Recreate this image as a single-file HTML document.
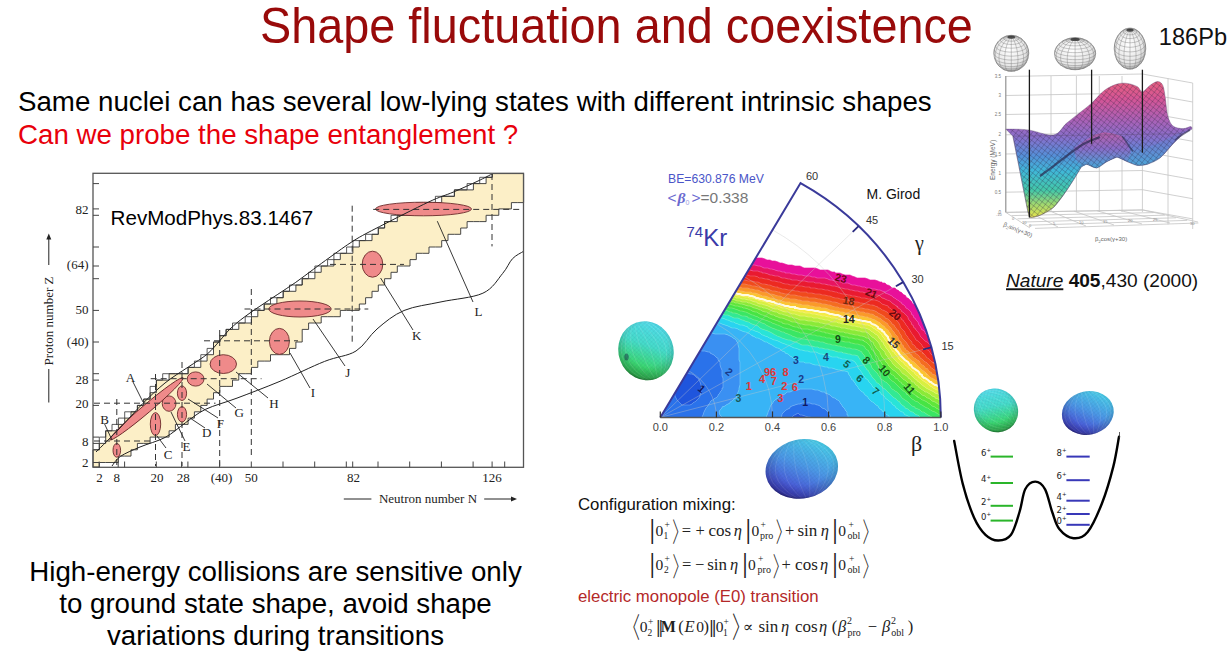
<!DOCTYPE html>
<html><head><meta charset="utf-8">
<style>
html,body{margin:0;padding:0;background:#fff;}
body{width:1232px;height:669px;position:relative;overflow:hidden;font-family:"Liberation Sans",Arial,sans-serif;}
.t{position:absolute;white-space:nowrap;line-height:1;}
#title{left:260px;top:1px;font-size:46.8px;color:#990a0a;transform:scaleY(1.07);transform-origin:0 0;}
#l1{left:18px;top:88px;font-size:27.7px;color:#000;}
#l2{left:18px;top:120.5px;font-size:27.7px;color:#e8000b;}
#bot{left:0;width:551px;top:555.5px;font-size:27.7px;text-align:center;line-height:32.4px;white-space:normal;color:#000;}
svg{position:absolute;left:0;top:0;}
#cfg{left:578px;top:496.5px;font-size:16.8px;color:#111;}
#e0{left:578px;top:589.2px;font-size:16.8px;color:#b42828;}
</style></head><body>
<svg width="1232" height="669" viewBox="0 0 1232 669">
<polygon points="93.0,449.8 99.3,449.8 99.3,443.4 105.7,443.4 105.7,430.8 112.0,430.8 112.0,430.8 118.4,430.8 118.4,424.4 124.7,424.4 124.7,418.1 131.0,418.1 131.0,411.8 137.4,411.8 137.4,405.4 143.7,405.4 143.7,399.1 150.1,399.1 150.1,392.7 156.4,392.7 156.4,380.1 162.7,380.1 162.7,380.1 169.1,380.1 169.1,373.7 175.4,373.7 175.4,373.7 181.8,373.7 181.8,373.7 188.1,373.7 188.1,367.4 194.4,367.4 194.4,367.4 200.8,367.4 200.8,361.1 207.1,361.1 207.1,354.7 213.5,354.7 213.5,342.0 219.8,342.0 219.8,335.7 226.1,335.7 226.1,329.4 232.5,329.4 232.5,329.4 238.8,329.4 238.8,323.0 245.2,323.0 245.2,323.0 251.5,323.0 251.5,316.7 257.8,316.7 257.8,310.4 264.2,310.4 264.2,304.0 270.5,304.0 270.5,304.0 276.9,304.0 276.9,297.7 283.2,297.7 283.2,291.3 289.5,291.3 289.5,291.3 295.9,291.3 295.9,285.0 302.2,285.0 302.2,278.7 308.6,278.7 308.6,278.7 314.9,278.7 314.9,272.3 321.2,272.3 321.2,266.0 327.6,266.0 327.6,266.0 333.9,266.0 333.9,259.6 340.3,259.6 340.3,253.3 346.6,253.3 346.6,253.3 352.9,253.3 352.9,247.0 359.3,247.0 359.3,240.6 365.6,240.6 365.6,240.6 372.0,240.6 372.0,234.3 378.3,234.3 378.3,228.0 384.6,228.0 384.6,221.6 391.0,221.6 391.0,221.6 397.3,221.6 397.3,215.3 403.7,215.3 403.7,215.3 410.0,215.3 410.0,208.9 416.3,208.9 416.3,208.9 422.7,208.9 422.7,202.6 429.0,202.6 429.0,202.6 435.4,202.6 435.4,202.6 441.7,202.6 441.7,196.3 448.0,196.3 448.0,196.3 454.4,196.3 454.4,189.9 460.7,189.9 460.7,189.9 467.1,189.9 467.1,189.9 473.4,189.9 473.4,183.6 479.7,183.6 479.7,183.6 486.1,183.6 486.1,177.3 492.4,177.3 492.4,173.6 498.8,173.6 498.8,173.6 505.1,173.6 505.1,173.6 511.4,173.6 511.4,173.6 517.8,173.6 517.8,173.6 523.6,173.6 523.6,173.6 523.6,200.8 523.6,202.6 517.8,202.6 517.8,202.6 511.4,202.6 511.4,208.9 505.1,208.9 505.1,208.9 498.8,208.9 498.8,215.3 492.4,215.3 492.4,215.3 486.1,215.3 486.1,221.6 479.7,221.6 479.7,221.6 473.4,221.6 473.4,221.6 467.1,221.6 467.1,228.0 460.7,228.0 460.7,234.3 454.4,234.3 454.4,234.3 448.0,234.3 448.0,240.6 441.7,240.6 441.7,247.0 435.4,247.0 435.4,247.0 429.0,247.0 429.0,253.3 422.7,253.3 422.7,253.3 416.3,253.3 416.3,259.6 410.0,259.6 410.0,266.0 403.7,266.0 403.7,266.0 397.3,266.0 397.3,272.3 391.0,272.3 391.0,278.7 384.6,278.7 384.6,285.0 378.3,285.0 378.3,291.3 372.0,291.3 372.0,297.7 365.6,297.7 365.6,304.0 359.3,304.0 359.3,310.4 352.9,310.4 352.9,310.4 346.6,310.4 346.6,310.4 340.3,310.4 340.3,316.7 333.9,316.7 333.9,316.7 327.6,316.7 327.6,316.7 321.2,316.7 321.2,323.0 314.9,323.0 314.9,323.0 308.6,323.0 308.6,329.4 302.2,329.4 302.2,342.0 295.9,342.0 295.9,348.4 289.5,348.4 289.5,354.7 283.2,354.7 283.2,354.7 276.9,354.7 276.9,354.7 270.5,354.7 270.5,361.1 264.2,361.1 264.2,361.1 257.8,361.1 257.8,367.4 251.5,367.4 251.5,373.7 245.2,373.7 245.2,373.7 238.8,373.7 238.8,380.1 232.5,380.1 232.5,386.4 226.1,386.4 226.1,386.4 219.8,386.4 219.8,392.7 213.5,392.7 213.5,399.1 207.1,399.1 207.1,405.4 200.8,405.4 200.8,411.8 194.4,411.8 194.4,418.1 188.1,418.1 188.1,424.4 181.8,424.4 181.8,424.4 175.4,424.4 175.4,430.8 169.1,430.8 169.1,437.1 162.7,437.1 162.7,437.1 156.4,437.1 156.4,437.1 150.1,437.1 150.1,443.4 143.7,443.4 143.7,443.4 137.4,443.4 137.4,449.8 131.0,449.8 131.0,456.1 124.7,456.1 124.7,456.1 118.4,456.1 118.4,462.5 112.0,462.5 112.0,462.5 105.7,462.5 105.7,462.5 99.3,462.5 99.3,467.0 93.0,467.0 93.0,467.0" fill="#fcefc7" stroke="#333" stroke-width="0.9"/>
<polyline points="93.0,449.8 99.3,449.8 99.3,437.1 105.7,437.1 105.7,430.8 112.0,430.8 112.0,424.4 118.4,424.4 118.4,418.1 124.7,418.1 124.7,411.8 131.0,411.8 131.0,411.8 137.4,411.8 137.4,405.4 143.7,405.4 143.7,399.1 150.1,399.1 150.1,386.4 156.4,386.4 156.4,380.1 162.7,380.1 162.7,373.7 169.1,373.7 169.1,373.7 175.4,373.7 175.4,373.7 181.8,373.7 181.8,373.7 188.1,373.7 188.1,367.4 194.4,367.4 194.4,361.1 200.8,361.1 200.8,354.7 207.1,354.7 207.1,348.4 213.5,348.4 213.5,342.0 219.8,342.0 219.8,335.7 226.1,335.7 226.1,329.4 232.5,329.4 232.5,323.0 238.8,323.0 238.8,323.0 245.2,323.0 245.2,316.7 251.5,316.7 251.5,310.4 257.8,310.4 257.8,310.4 264.2,310.4 264.2,304.0 270.5,304.0 270.5,297.7 276.9,297.7 276.9,297.7 283.2,297.7 283.2,291.3 289.5,291.3 289.5,285.0 295.9,285.0 295.9,285.0 302.2,285.0 302.2,278.7 308.6,278.7 308.6,272.3 314.9,272.3 314.9,266.0 321.2,266.0 321.2,266.0 327.6,266.0 327.6,259.6 333.9,259.6 333.9,253.3 340.3,253.3 340.3,253.3 346.6,253.3 346.6,247.0 352.9,247.0 352.9,240.6 359.3,240.6 359.3,240.6 365.6,240.6 365.6,234.3 372.0,234.3 372.0,234.3 378.3,234.3 378.3,228.0 384.6,228.0 384.6,221.6 391.0,221.6 391.0,215.3 397.3,215.3 397.3,215.3 403.7,215.3 403.7,208.9 410.0,208.9 410.0,208.9 416.3,208.9 416.3,202.6 422.7,202.6 422.7,202.6 429.0,202.6 429.0,202.6 435.4,202.6 435.4,196.3 441.7,196.3 441.7,196.3 448.0,196.3 448.0,196.3 454.4,196.3 454.4,189.9 460.7,189.9 460.7,189.9 467.1,189.9 467.1,183.6 473.4,183.6 473.4,183.6 479.7,183.6 479.7,177.3 486.1,177.3 486.1,177.3 492.0,177.3" fill="none" stroke="#333" stroke-width="0.8"/>
<ellipse cx="116.8" cy="450.3" rx="3.8" ry="6.9" fill="#ef8a8a" stroke="#6b2a2a" stroke-width="0.9"/>
<ellipse cx="155.5" cy="424.1" rx="5.2" ry="11.5" fill="#ef8a8a" stroke="#6b2a2a" stroke-width="0.9"/>
<ellipse cx="169.1" cy="403.6" rx="6.9" ry="7.7" fill="#ef8a8a" stroke="#6b2a2a" stroke-width="0.9"/>
<ellipse cx="182.0" cy="414.3" rx="4.6" ry="7.7" fill="#ef8a8a" stroke="#6b2a2a" stroke-width="0.9"/>
<ellipse cx="182.0" cy="393.2" rx="4.6" ry="7.3" fill="#ef8a8a" stroke="#6b2a2a" stroke-width="0.9"/>
<ellipse cx="195.6" cy="379.0" rx="8.4" ry="7.1" fill="#ef8a8a" stroke="#6b2a2a" stroke-width="0.9"/>
<ellipse cx="223.3" cy="364.1" rx="13.2" ry="9.4" fill="#ef8a8a" stroke="#6b2a2a" stroke-width="0.9"/>
<ellipse cx="279.4" cy="341.4" rx="10.0" ry="13.0" fill="#ef8a8a" stroke="#6b2a2a" stroke-width="0.9"/>
<ellipse cx="300.0" cy="309.0" rx="31.2" ry="8.0" fill="#ef8a8a" stroke="#6b2a2a" stroke-width="0.9"/>
<ellipse cx="372.5" cy="264.2" rx="10.3" ry="13.0" fill="#ef8a8a" stroke="#6b2a2a" stroke-width="0.9"/>
<ellipse cx="423.5" cy="209.0" rx="48.0" ry="6.8" fill="#ef8a8a" stroke="#6b2a2a" stroke-width="0.9"/>
<ellipse cx="146.5" cy="408.8" rx="48.0" ry="4.2" transform="rotate(-40.3 146.5 408.8)" fill="#ef8a8a" stroke="#6b2a2a" stroke-width="0.9"/>
<line x1="94.0" y1="441.0" x2="153.0" y2="441.0" stroke="#333" stroke-width="1" stroke-dasharray="6,4" fill="none"/>
<line x1="94.0" y1="403.2" x2="215.5" y2="403.2" stroke="#333" stroke-width="1" stroke-dasharray="6,4" fill="none"/>
<line x1="150.7" y1="378.7" x2="261.5" y2="378.7" stroke="#333" stroke-width="1" stroke-dasharray="6,4" fill="none"/>
<line x1="204.0" y1="340.8" x2="298.0" y2="340.8" stroke="#333" stroke-width="1" stroke-dasharray="6,4" fill="none"/>
<line x1="244.5" y1="309.0" x2="368.3" y2="309.0" stroke="#333" stroke-width="1" stroke-dasharray="6,4" fill="none"/>
<line x1="330.0" y1="264.4" x2="404.0" y2="264.4" stroke="#333" stroke-width="1" stroke-dasharray="6,4" fill="none"/>
<line x1="373.2" y1="209.4" x2="523.6" y2="209.4" stroke="#333" stroke-width="1" stroke-dasharray="6,4" fill="none"/>
<line x1="116.8" y1="399.0" x2="116.8" y2="467.0" stroke="#333" stroke-width="1" stroke-dasharray="6,4" fill="none"/>
<line x1="155.5" y1="374.0" x2="155.5" y2="466.0" stroke="#333" stroke-width="1" stroke-dasharray="6,4" fill="none"/>
<line x1="182.0" y1="362.0" x2="182.0" y2="466.0" stroke="#333" stroke-width="1" stroke-dasharray="6,4" fill="none"/>
<line x1="219.7" y1="330.0" x2="219.7" y2="467.0" stroke="#333" stroke-width="1" stroke-dasharray="6,4" fill="none"/>
<line x1="251.3" y1="289.0" x2="251.3" y2="458.0" stroke="#333" stroke-width="1" stroke-dasharray="6,4" fill="none"/>
<line x1="352.2" y1="205.7" x2="352.2" y2="345.7" stroke="#333" stroke-width="1" stroke-dasharray="6,4" fill="none"/>
<line x1="492.0" y1="174.0" x2="492.0" y2="246.4" stroke="#333" stroke-width="1" stroke-dasharray="6,4" fill="none"/>
<path d="M96.0,452.0 C100.0,448.0 112.3,436.0 120.0,428.0 C127.7,420.0 134.8,411.5 142.3,404.0 C149.8,396.5 157.3,389.2 165.0,383.0 C172.7,376.8 181.2,371.8 188.3,367.0 C195.4,362.2 202.1,358.4 207.3,354.0 C212.5,349.6 215.8,345.1 219.6,340.9 C223.4,336.7 225.9,333.0 230.0,329.0 C234.1,325.0 239.4,320.8 244.4,317.0 C249.4,313.2 254.3,310.0 259.9,306.2 C265.5,302.4 271.8,298.3 277.8,294.3 C283.8,290.3 289.8,286.5 295.8,282.3 C301.8,278.1 308.0,273.3 313.7,269.1 C319.4,264.9 323.3,262.0 330.0,257.2 C336.7,252.4 345.8,245.6 354.0,240.5 C362.2,235.4 366.9,233.1 379.3,226.7 C391.7,220.3 416.3,207.8 428.6,202.0 C440.9,196.2 445.1,195.6 453.3,192.1 C461.5,188.6 471.4,184.1 478.0,181.0 C484.6,177.9 490.3,174.8 492.8,173.6" fill="none" stroke="#222" stroke-width="1"/>
<path d="M112.0,466.0 C113.4,464.4 115.7,459.6 120.4,456.4 C125.1,453.2 132.5,450.2 140.0,447.0 C147.5,443.8 157.6,441.4 165.2,437.4 C172.8,433.4 178.7,427.5 185.4,422.8 C192.1,418.1 197.0,413.4 205.6,409.3 C214.2,405.2 224.6,402.8 237.0,398.1 C249.4,393.4 265.4,387.4 280.0,381.3 C294.6,375.2 311.9,366.4 324.6,361.4 C337.3,356.3 347.3,356.4 356.0,351.0 C364.7,345.6 369.0,335.8 377.0,329.0 C385.0,322.2 393.3,315.0 404.0,310.5 C414.7,306.0 427.9,304.8 441.0,301.9 C454.1,299.0 472.6,297.9 482.9,293.2 C493.2,288.5 497.7,279.2 502.6,273.5 C507.5,267.8 509.0,262.4 512.5,258.7 C516.0,255.0 521.8,252.5 523.6,251.3" fill="none" stroke="#222" stroke-width="1"/>
<rect x="93" y="173.3" width="430.5" height="294" fill="none" stroke="#555" stroke-width="1.3"/>
<line x1="93" y1="462.5" x2="99" y2="462.5" stroke="#444" stroke-width="1"/>
<line x1="93" y1="443.4" x2="99" y2="443.4" stroke="#444" stroke-width="1"/>
<line x1="93" y1="437.1" x2="99" y2="437.1" stroke="#444" stroke-width="1"/>
<line x1="93" y1="405.4" x2="99" y2="405.4" stroke="#444" stroke-width="1"/>
<line x1="93" y1="380.1" x2="99" y2="380.1" stroke="#444" stroke-width="1"/>
<line x1="93" y1="373.7" x2="99" y2="373.7" stroke="#444" stroke-width="1"/>
<line x1="93" y1="342.0" x2="99" y2="342.0" stroke="#444" stroke-width="1"/>
<line x1="93" y1="310.4" x2="99" y2="310.4" stroke="#444" stroke-width="1"/>
<line x1="93" y1="278.7" x2="99" y2="278.7" stroke="#444" stroke-width="1"/>
<line x1="93" y1="266.0" x2="99" y2="266.0" stroke="#444" stroke-width="1"/>
<line x1="93" y1="247.0" x2="99" y2="247.0" stroke="#444" stroke-width="1"/>
<line x1="93" y1="215.3" x2="99" y2="215.3" stroke="#444" stroke-width="1"/>
<line x1="93" y1="208.9" x2="99" y2="208.9" stroke="#444" stroke-width="1"/>
<line x1="93" y1="183.6" x2="99" y2="183.6" stroke="#444" stroke-width="1"/>
<line x1="99.2" y1="467.3" x2="99.2" y2="461.5" stroke="#444" stroke-width="1"/>
<line x1="118.2" y1="467.3" x2="118.2" y2="461.5" stroke="#444" stroke-width="1"/>
<line x1="124.6" y1="467.3" x2="124.6" y2="461.5" stroke="#444" stroke-width="1"/>
<line x1="156.3" y1="467.3" x2="156.3" y2="461.5" stroke="#444" stroke-width="1"/>
<line x1="181.6" y1="467.3" x2="181.6" y2="461.5" stroke="#444" stroke-width="1"/>
<line x1="187.9" y1="467.3" x2="187.9" y2="461.5" stroke="#444" stroke-width="1"/>
<line x1="219.6" y1="467.3" x2="219.6" y2="461.5" stroke="#444" stroke-width="1"/>
<line x1="251.3" y1="467.3" x2="251.3" y2="461.5" stroke="#444" stroke-width="1"/>
<line x1="283.0" y1="467.3" x2="283.0" y2="461.5" stroke="#444" stroke-width="1"/>
<line x1="314.7" y1="467.3" x2="314.7" y2="461.5" stroke="#444" stroke-width="1"/>
<line x1="346.3" y1="467.3" x2="346.3" y2="461.5" stroke="#444" stroke-width="1"/>
<line x1="352.7" y1="467.3" x2="352.7" y2="461.5" stroke="#444" stroke-width="1"/>
<line x1="378.0" y1="467.3" x2="378.0" y2="461.5" stroke="#444" stroke-width="1"/>
<line x1="409.7" y1="467.3" x2="409.7" y2="461.5" stroke="#444" stroke-width="1"/>
<line x1="441.4" y1="467.3" x2="441.4" y2="461.5" stroke="#444" stroke-width="1"/>
<line x1="473.1" y1="467.3" x2="473.1" y2="461.5" stroke="#444" stroke-width="1"/>
<line x1="492.1" y1="467.3" x2="492.1" y2="461.5" stroke="#444" stroke-width="1"/>
<line x1="504.7" y1="467.3" x2="504.7" y2="461.5" stroke="#444" stroke-width="1"/>
<line x1="104.6" y1="424.0" x2="112.0" y2="440.0" stroke="#222" stroke-width="0.9"/>
<line x1="133.0" y1="382.0" x2="143.0" y2="402.0" stroke="#222" stroke-width="0.9"/>
<line x1="166.0" y1="448.0" x2="157.0" y2="436.0" stroke="#222" stroke-width="0.9"/>
<line x1="205.0" y1="428.0" x2="190.0" y2="418.0" stroke="#222" stroke-width="0.9"/>
<line x1="185.0" y1="441.0" x2="171.0" y2="412.0" stroke="#222" stroke-width="0.9"/>
<line x1="218.0" y1="418.0" x2="188.0" y2="399.0" stroke="#222" stroke-width="0.9"/>
<line x1="236.0" y1="408.0" x2="207.0" y2="384.0" stroke="#222" stroke-width="0.9"/>
<line x1="268.0" y1="398.0" x2="236.0" y2="372.0" stroke="#222" stroke-width="0.9"/>
<line x1="310.0" y1="388.0" x2="290.0" y2="353.0" stroke="#222" stroke-width="0.9"/>
<line x1="345.0" y1="366.0" x2="313.0" y2="319.0" stroke="#222" stroke-width="0.9"/>
<line x1="413.0" y1="330.0" x2="380.6" y2="278.0" stroke="#222" stroke-width="0.9"/>
<line x1="473.0" y1="302.0" x2="437.3" y2="221.2" stroke="#222" stroke-width="0.9"/>
<text x="130.4" y="382.0" text-anchor="middle" font-family="Liberation Serif,serif" font-size="13" fill="#222">A</text>
<text x="104.6" y="424.0" text-anchor="middle" font-family="Liberation Serif,serif" font-size="13" fill="#222">B</text>
<text x="168.0" y="459.0" text-anchor="middle" font-family="Liberation Serif,serif" font-size="13" fill="#222">C</text>
<text x="206.8" y="437.4" text-anchor="middle" font-family="Liberation Serif,serif" font-size="13" fill="#222">D</text>
<text x="186.4" y="450.9" text-anchor="middle" font-family="Liberation Serif,serif" font-size="13" fill="#222">E</text>
<text x="220.3" y="427.7" text-anchor="middle" font-family="Liberation Serif,serif" font-size="13" fill="#222">F</text>
<text x="239.1" y="417.0" text-anchor="middle" font-family="Liberation Serif,serif" font-size="13" fill="#222">G</text>
<text x="274.0" y="407.8" text-anchor="middle" font-family="Liberation Serif,serif" font-size="13" fill="#222">H</text>
<text x="312.9" y="396.5" text-anchor="middle" font-family="Liberation Serif,serif" font-size="13" fill="#222">I</text>
<text x="347.9" y="376.6" text-anchor="middle" font-family="Liberation Serif,serif" font-size="13" fill="#222">J</text>
<text x="416.7" y="340.0" text-anchor="middle" font-family="Liberation Serif,serif" font-size="13" fill="#222">K</text>
<text x="478.6" y="316.3" text-anchor="middle" font-family="Liberation Serif,serif" font-size="13" fill="#222">L</text>
<text x="88.5" y="213.9" text-anchor="end" font-family="Liberation Serif,serif" font-size="13" fill="#222">82</text>
<text x="88.5" y="268.9" text-anchor="end" font-family="Liberation Serif,serif" font-size="13" fill="#222">(64)</text>
<text x="88.5" y="314.2" text-anchor="end" font-family="Liberation Serif,serif" font-size="13" fill="#222">50</text>
<text x="88.5" y="345.5" text-anchor="end" font-family="Liberation Serif,serif" font-size="13" fill="#222">(40)</text>
<text x="88.5" y="383.5" text-anchor="end" font-family="Liberation Serif,serif" font-size="13" fill="#222">28</text>
<text x="88.5" y="407.8" text-anchor="end" font-family="Liberation Serif,serif" font-size="13" fill="#222">20</text>
<text x="88.5" y="445.5" text-anchor="end" font-family="Liberation Serif,serif" font-size="13" fill="#222">8</text>
<text x="88.5" y="467.0" text-anchor="end" font-family="Liberation Serif,serif" font-size="13" fill="#222">2</text>
<text x="99.4" y="481.5" text-anchor="middle" font-family="Liberation Serif,serif" font-size="13" fill="#222">2</text>
<text x="116.7" y="481.5" text-anchor="middle" font-family="Liberation Serif,serif" font-size="13" fill="#222">8</text>
<text x="157.0" y="481.5" text-anchor="middle" font-family="Liberation Serif,serif" font-size="13" fill="#222">20</text>
<text x="183.2" y="481.5" text-anchor="middle" font-family="Liberation Serif,serif" font-size="13" fill="#222">28</text>
<text x="221.5" y="481.5" text-anchor="middle" font-family="Liberation Serif,serif" font-size="13" fill="#222">(40)</text>
<text x="251.3" y="481.5" text-anchor="middle" font-family="Liberation Serif,serif" font-size="13" fill="#222">50</text>
<text x="353.5" y="481.5" text-anchor="middle" font-family="Liberation Serif,serif" font-size="13" fill="#222">82</text>
<text x="492.0" y="481.5" text-anchor="middle" font-family="Liberation Serif,serif" font-size="13" fill="#222">126</text>
<text x="428" y="502.5" text-anchor="middle" font-family="Liberation Serif,serif" font-size="13" fill="#222">Neutron number N</text>
<line x1="343.8" y1="499" x2="371.4" y2="499" stroke="#222" stroke-width="1"/>
<line x1="484.2" y1="499" x2="514" y2="499" stroke="#222" stroke-width="1"/><path d="M517,499 L511,496.5 L511,501.5Z" fill="#222"/>
<text transform="translate(53.3,321) rotate(-90)" text-anchor="middle" font-family="Liberation Serif,serif" font-size="13" fill="#222">Proton number Z</text>
<line x1="48.8" y1="237" x2="48.8" y2="265" stroke="#222" stroke-width="1"/><path d="M48.8,233.5 L46.3,239.5 L51.3,239.5Z" fill="#222"/>
<line x1="48.8" y1="369" x2="48.8" y2="402.5" stroke="#222" stroke-width="1"/>
<text x="110.6" y="224.8" font-family="Liberation Sans,sans-serif" font-size="20.6" fill="#000">RevModPhys.83.1467</text>
<defs>
<radialGradient id="sphg" cx="0.45" cy="0.4" r="0.65"><stop offset="0" stop-color="#ffffff"/><stop offset="0.7" stop-color="#e6e6e6"/><stop offset="1" stop-color="#a8a8a8"/></radialGradient>
<linearGradient id="surfg" gradientUnits="userSpaceOnUse" x1="0" y1="80" x2="0" y2="218">
<stop offset="0" stop-color="#e8607e"/><stop offset="0.14" stop-color="#d45596"/><stop offset="0.3" stop-color="#a862b8"/><stop offset="0.42" stop-color="#8670cc"/><stop offset="0.55" stop-color="#5490d8"/><stop offset="0.66" stop-color="#40b8d8"/><stop offset="0.8" stop-color="#44c8a8"/><stop offset="0.9" stop-color="#a0d870"/><stop offset="1" stop-color="#e8e44a"/></linearGradient>
<linearGradient id="valg" gradientUnits="userSpaceOnUse" x1="0" y1="120" x2="0" y2="168">
<stop offset="0" stop-color="#9a64c0"/><stop offset="0.5" stop-color="#6a80d0"/><stop offset="1" stop-color="#4aa8d8"/></linearGradient>
<linearGradient id="humpg" gradientUnits="userSpaceOnUse" x1="0" y1="132" x2="0" y2="168"><stop offset="0" stop-color="#b860a8"/><stop offset="0.45" stop-color="#8a6cc8"/><stop offset="1" stop-color="#48a8d8"/></linearGradient>
<pattern id="mesh" patternUnits="userSpaceOnUse" width="4.2" height="4.2" patternTransform="rotate(38)"><path d="M0,0 L4.2,0 M0,0 L0,4.2" stroke="#2a2040" stroke-width="0.75" stroke-opacity="0.6"/></pattern>
</defs>
<line x1="1005.8" y1="76.5" x2="1142.4" y2="74.0" stroke="#c4c4c4" stroke-width="0.8" fill="none"/>
<line x1="1142.4" y1="74.0" x2="1192.7" y2="83.0" stroke="#c4c4c4" stroke-width="0.8" fill="none"/>
<line x1="1005.8" y1="95.5" x2="1142.4" y2="93.0" stroke="#c4c4c4" stroke-width="0.8" fill="none"/>
<line x1="1142.4" y1="93.0" x2="1192.7" y2="102.0" stroke="#c4c4c4" stroke-width="0.8" fill="none"/>
<line x1="1005.8" y1="114.5" x2="1142.4" y2="112.0" stroke="#c4c4c4" stroke-width="0.8" fill="none"/>
<line x1="1142.4" y1="112.0" x2="1192.7" y2="121.0" stroke="#c4c4c4" stroke-width="0.8" fill="none"/>
<line x1="1005.8" y1="134.8" x2="1142.4" y2="132.3" stroke="#c4c4c4" stroke-width="0.8" fill="none"/>
<line x1="1142.4" y1="132.3" x2="1192.7" y2="141.3" stroke="#c4c4c4" stroke-width="0.8" fill="none"/>
<line x1="1005.8" y1="154.0" x2="1142.4" y2="151.5" stroke="#c4c4c4" stroke-width="0.8" fill="none"/>
<line x1="1142.4" y1="151.5" x2="1192.7" y2="160.5" stroke="#c4c4c4" stroke-width="0.8" fill="none"/>
<line x1="1005.8" y1="173.0" x2="1142.4" y2="170.5" stroke="#c4c4c4" stroke-width="0.8" fill="none"/>
<line x1="1142.4" y1="170.5" x2="1192.7" y2="179.5" stroke="#c4c4c4" stroke-width="0.8" fill="none"/>
<line x1="1005.8" y1="192.2" x2="1142.4" y2="189.7" stroke="#c4c4c4" stroke-width="0.8" fill="none"/>
<line x1="1142.4" y1="189.7" x2="1192.7" y2="198.7" stroke="#c4c4c4" stroke-width="0.8" fill="none"/>
<line x1="1005.8" y1="212.4" x2="1142.4" y2="209.9" stroke="#c4c4c4" stroke-width="0.8" fill="none"/>
<line x1="1142.4" y1="209.9" x2="1192.7" y2="218.9" stroke="#c4c4c4" stroke-width="0.8" fill="none"/>
<line x1="1005.8" y1="76" x2="1005.8" y2="212" stroke="#c4c4c4" stroke-width="0.8" fill="none"/>
<line x1="1051.0" y1="76" x2="1051.0" y2="212" stroke="#c4c4c4" stroke-width="0.8" fill="none"/>
<line x1="1076.4" y1="76" x2="1076.4" y2="212" stroke="#c4c4c4" stroke-width="0.8" fill="none"/>
<line x1="1099.3" y1="76" x2="1099.3" y2="212" stroke="#c4c4c4" stroke-width="0.8" fill="none"/>
<line x1="1122.0" y1="76" x2="1122.0" y2="212" stroke="#c4c4c4" stroke-width="0.8" fill="none"/>
<line x1="1142.4" y1="76" x2="1142.4" y2="212" stroke="#c4c4c4" stroke-width="0.8" fill="none"/>
<line x1="1168.0" y1="78.5" x2="1168.0" y2="224.5" stroke="#c4c4c4" stroke-width="0.8" fill="none"/>
<line x1="1192.7" y1="83.0" x2="1192.7" y2="229.0" stroke="#c4c4c4" stroke-width="0.8" fill="none"/>
<line x1="1005.8" y1="212.4" x2="1142.4" y2="210.0" stroke="#c4c4c4" stroke-width="0.8" fill="none"/>
<line x1="1011.6" y1="215.6" x2="1153.6" y2="212.6" stroke="#c4c4c4" stroke-width="0.8" fill="none"/>
<line x1="1017.5" y1="218.8" x2="1164.8" y2="215.2" stroke="#c4c4c4" stroke-width="0.8" fill="none"/>
<line x1="1023.3" y1="222.0" x2="1176.0" y2="217.8" stroke="#c4c4c4" stroke-width="0.8" fill="none"/>
<line x1="1029.2" y1="225.2" x2="1187.2" y2="220.4" stroke="#c4c4c4" stroke-width="0.8" fill="none"/>
<line x1="1035.0" y1="228.4" x2="1198.4" y2="223.0" stroke="#c4c4c4" stroke-width="0.8" fill="none"/>
<line x1="1005.8" y1="212.4" x2="1030.0" y2="228.0" stroke="#c4c4c4" stroke-width="0.8" fill="none"/>
<line x1="1028.6" y1="212.0" x2="1058.0" y2="227.0" stroke="#c4c4c4" stroke-width="0.8" fill="none"/>
<line x1="1051.3" y1="211.6" x2="1086.0" y2="226.0" stroke="#c4c4c4" stroke-width="0.8" fill="none"/>
<line x1="1074.1" y1="211.2" x2="1114.0" y2="225.0" stroke="#c4c4c4" stroke-width="0.8" fill="none"/>
<line x1="1096.9" y1="210.7" x2="1142.0" y2="224.0" stroke="#c4c4c4" stroke-width="0.8" fill="none"/>
<line x1="1119.6" y1="210.3" x2="1170.0" y2="223.0" stroke="#c4c4c4" stroke-width="0.8" fill="none"/>
<line x1="1142.4" y1="209.9" x2="1198.0" y2="222.0" stroke="#c4c4c4" stroke-width="0.8" fill="none"/>
<line x1="1005.8" y1="76" x2="1005.8" y2="212.4" stroke="#888" stroke-width="0.9"/>
<text x="1001" y="78.0" text-anchor="end" font-family="Liberation Sans,sans-serif" font-size="4.5" fill="#777">3.5</text>
<text x="1001" y="97.0" text-anchor="end" font-family="Liberation Sans,sans-serif" font-size="4.5" fill="#777">3</text>
<text x="1001" y="116.0" text-anchor="end" font-family="Liberation Sans,sans-serif" font-size="4.5" fill="#777">2.5</text>
<text x="1001" y="136.3" text-anchor="end" font-family="Liberation Sans,sans-serif" font-size="4.5" fill="#777">2</text>
<text x="1001" y="155.5" text-anchor="end" font-family="Liberation Sans,sans-serif" font-size="4.5" fill="#777">1.5</text>
<text x="1001" y="174.5" text-anchor="end" font-family="Liberation Sans,sans-serif" font-size="4.5" fill="#777">1</text>
<text x="1001" y="193.7" text-anchor="end" font-family="Liberation Sans,sans-serif" font-size="4.5" fill="#777">0.5</text>
<text x="1001" y="213.9" text-anchor="end" font-family="Liberation Sans,sans-serif" font-size="4.5" fill="#777">0</text>
<text transform="translate(995,160) rotate(-90)" text-anchor="middle" font-family="Liberation Sans,sans-serif" font-size="6.5" fill="#666">Energy (MeV)</text>
<text transform="translate(1003,226) rotate(22)" font-family="Liberation Sans,sans-serif" font-size="6" fill="#666">β<tspan font-size="4" dy="1.5">2</tspan><tspan dy="-1.5">sin(γ+30)</tspan></text>
<text x="1095" y="241" font-family="Liberation Sans,sans-serif" font-size="6" fill="#666">β<tspan font-size="4" dy="1.5">2</tspan><tspan dy="-1.5">cos(γ+30)</tspan></text>
<text x="996.0" y="216.0" font-family="Liberation Sans,sans-serif" font-size="4" fill="#888">-10</text>
<text x="1012.0" y="220.0" font-family="Liberation Sans,sans-serif" font-size="4" fill="#888">0</text>
<text x="1022.0" y="224.0" font-family="Liberation Sans,sans-serif" font-size="4" fill="#888">10</text>
<text x="1029.0" y="227.0" font-family="Liberation Sans,sans-serif" font-size="4" fill="#888">0</text>
<text x="1053.0" y="225.0" font-family="Liberation Sans,sans-serif" font-size="4" fill="#888">5</text>
<text x="1079.0" y="224.0" font-family="Liberation Sans,sans-serif" font-size="4" fill="#888">10</text>
<text x="1103.0" y="223.0" font-family="Liberation Sans,sans-serif" font-size="4" fill="#888">15</text>
<text x="1128.0" y="222.0" font-family="Liberation Sans,sans-serif" font-size="4" fill="#888">20</text>
<text x="1153.0" y="221.0" font-family="Liberation Sans,sans-serif" font-size="4" fill="#888">25</text>
<text x="1190.0" y="225.0" font-family="Liberation Sans,sans-serif" font-size="4" fill="#888">30</text>
<path d="M1005.8,129.1 C1009.5,129.2 1020.1,128.9 1028.1,129.9 C1036.0,130.9 1047.2,136.1 1053.5,135.0 C1059.8,133.9 1062.0,127.1 1066.2,123.5 C1070.4,119.9 1074.7,116.8 1078.9,113.4 C1083.1,110.0 1087.4,107.0 1091.6,103.2 C1095.8,99.4 1100.1,93.7 1104.3,90.5 C1108.5,87.3 1113.2,85.3 1117.0,84.1 C1120.8,82.9 1123.8,83.0 1127.2,83.4 C1130.6,83.8 1134.9,85.3 1137.4,86.7 C1139.9,88.1 1140.3,92.0 1142.4,91.8 C1144.5,91.6 1147.5,87.1 1150.0,85.4 C1152.5,83.7 1155.6,81.6 1157.7,81.6 C1159.8,81.6 1161.5,82.7 1162.8,85.4 C1164.1,88.2 1164.5,93.0 1165.3,98.1 C1166.1,103.2 1166.5,111.2 1167.8,115.9 C1169.1,120.6 1170.5,123.9 1173.0,126.0 C1175.5,128.1 1180.0,128.5 1183.0,128.6 C1186.0,128.7 1189.2,126.5 1190.7,126.6 C1192.2,126.7 1191.8,128.7 1192.0,129.1 L1183.0,133.7 L1173.0,143.8 L1160.2,157.8 L1147.5,164.2 L1137.4,165.4 L1127.2,161.6 L1117.0,157.0 L1106.9,161.6 L1096.7,168.0 L1086.5,164.2 L1081.5,166.7 L1073.8,179.4 L1063.7,194.7 L1053.5,207.4 L1040.8,215.0 L1030.7,217.5 L1028.1,212.4 L1023.0,187.0 L1018.0,161.6 L1012.9,136.2 L1183.0,133.7 C1181.3,135.4 1176.8,139.8 1173.0,143.8 C1169.2,147.8 1164.5,154.4 1160.2,157.8 C1156.0,161.2 1151.3,162.9 1147.5,164.2 C1143.7,165.5 1140.8,165.8 1137.4,165.4 C1134.0,165.0 1130.6,163.0 1127.2,161.6 C1123.8,160.2 1120.4,157.0 1117.0,157.0 C1113.6,157.0 1110.3,159.8 1106.9,161.6 C1103.5,163.4 1100.1,167.6 1096.7,168.0 C1093.3,168.4 1089.0,164.4 1086.5,164.2 C1084.0,164.0 1083.6,164.2 1081.5,166.7 C1079.4,169.2 1076.8,174.7 1073.8,179.4 C1070.8,184.1 1067.1,190.0 1063.7,194.7 C1060.3,199.4 1057.3,204.0 1053.5,207.4 C1049.7,210.8 1044.6,213.3 1040.8,215.0 C1037.0,216.7 1032.8,217.9 1030.7,217.5 C1028.6,217.1 1029.4,217.5 1028.1,212.4 C1026.8,207.3 1024.7,195.5 1023.0,187.0 C1021.3,178.5 1019.7,170.1 1018.0,161.6 C1016.3,153.1 1013.8,140.4 1012.9,136.2Z" fill="url(#surfg)"/>
<path d="M1084.0,143.8 L1095.0,136.0 L1104.3,133.7 L1113.0,134.5 L1122.0,136.2 L1132.3,151.5 L1142.0,150.0 L1152.0,146.0 L1165.0,140.0 L1178.0,133.0 L1192.0,129.1 L1183.0,133.7 L1173.0,143.8 L1160.2,157.8 L1147.5,164.2 L1137.4,165.4 L1127.2,161.6 L1117.0,157.0 L1106.9,161.6 L1096.7,168.0 L1086.5,164.2 L1081.5,166.7Z" fill="url(#valg)" opacity="0.9"/>
<path d="M1073.8,148.0 L1084.0,141.0 L1095.0,134.5 L1104.3,132.2 L1113.0,133.5 L1122.0,136.2 L1127.2,143.0 L1131.0,152.0 L1127.2,161.6 L1117.0,157.0 L1106.9,161.6 L1096.7,168.0 L1086.5,164.2 L1081.5,166.7 L1076.0,160.0Z" fill="url(#humpg)"/>
<path d="M1005.8,129.1 C1009.5,129.2 1020.1,128.9 1028.1,129.9 C1036.0,130.9 1047.2,136.1 1053.5,135.0 C1059.8,133.9 1062.0,127.1 1066.2,123.5 C1070.4,119.9 1074.7,116.8 1078.9,113.4 C1083.1,110.0 1087.4,107.0 1091.6,103.2 C1095.8,99.4 1100.1,93.7 1104.3,90.5 C1108.5,87.3 1113.2,85.3 1117.0,84.1 C1120.8,82.9 1123.8,83.0 1127.2,83.4 C1130.6,83.8 1134.9,85.3 1137.4,86.7 C1139.9,88.1 1140.3,92.0 1142.4,91.8 C1144.5,91.6 1147.5,87.1 1150.0,85.4 C1152.5,83.7 1155.6,81.6 1157.7,81.6 C1159.8,81.6 1161.5,82.7 1162.8,85.4 C1164.1,88.2 1164.5,93.0 1165.3,98.1 C1166.1,103.2 1166.5,111.2 1167.8,115.9 C1169.1,120.6 1170.5,123.9 1173.0,126.0 C1175.5,128.1 1180.0,128.5 1183.0,128.6 C1186.0,128.7 1189.2,126.5 1190.7,126.6 C1192.2,126.7 1191.8,128.7 1192.0,129.1 L1183.0,133.7 L1173.0,143.8 L1160.2,157.8 L1147.5,164.2 L1137.4,165.4 L1127.2,161.6 L1117.0,157.0 L1106.9,161.6 L1096.7,168.0 L1086.5,164.2 L1081.5,166.7 L1073.8,179.4 L1063.7,194.7 L1053.5,207.4 L1040.8,215.0 L1030.7,217.5 L1028.1,212.4 L1023.0,187.0 L1018.0,161.6 L1012.9,136.2 L1183.0,133.7 C1181.3,135.4 1176.8,139.8 1173.0,143.8 C1169.2,147.8 1164.5,154.4 1160.2,157.8 C1156.0,161.2 1151.3,162.9 1147.5,164.2 C1143.7,165.5 1140.8,165.8 1137.4,165.4 C1134.0,165.0 1130.6,163.0 1127.2,161.6 C1123.8,160.2 1120.4,157.0 1117.0,157.0 C1113.6,157.0 1110.3,159.8 1106.9,161.6 C1103.5,163.4 1100.1,167.6 1096.7,168.0 C1093.3,168.4 1089.0,164.4 1086.5,164.2 C1084.0,164.0 1083.6,164.2 1081.5,166.7 C1079.4,169.2 1076.8,174.7 1073.8,179.4 C1070.8,184.1 1067.1,190.0 1063.7,194.7 C1060.3,199.4 1057.3,204.0 1053.5,207.4 C1049.7,210.8 1044.6,213.3 1040.8,215.0 C1037.0,216.7 1032.8,217.9 1030.7,217.5 C1028.6,217.1 1029.4,217.5 1028.1,212.4 C1026.8,207.3 1024.7,195.5 1023.0,187.0 C1021.3,178.5 1019.7,170.1 1018.0,161.6 C1016.3,153.1 1013.8,140.4 1012.9,136.2Z" fill="url(#mesh)"/>
<path d="M1040,176 C1055,166 1070,152 1084,143.8 C1090,140 1096,139 1100,137" fill="none" stroke="#2a2a50" stroke-width="2.2" stroke-opacity="0.7"/>
<path d="M1122,136.2 C1127,142 1130,148 1133,151.5" fill="none" stroke="#2a2a50" stroke-width="1.6" stroke-opacity="0.6"/>
<path d="M1175,140 C1180,136 1185,133 1190,130" fill="none" stroke="#2a2a50" stroke-width="1.6" stroke-opacity="0.6"/>
<path d="M1005.8,129.1 C1009.5,129.2 1020.1,128.9 1028.1,129.9 C1036.0,130.9 1047.2,136.1 1053.5,135.0 C1059.8,133.9 1062.0,127.1 1066.2,123.5 C1070.4,119.9 1074.7,116.8 1078.9,113.4 C1083.1,110.0 1087.4,107.0 1091.6,103.2 C1095.8,99.4 1100.1,93.7 1104.3,90.5 C1108.5,87.3 1113.2,85.3 1117.0,84.1 C1120.8,82.9 1123.8,83.0 1127.2,83.4 C1130.6,83.8 1134.9,85.3 1137.4,86.7 C1139.9,88.1 1140.3,92.0 1142.4,91.8 C1144.5,91.6 1147.5,87.1 1150.0,85.4 C1152.5,83.7 1155.6,81.6 1157.7,81.6 C1159.8,81.6 1161.5,82.7 1162.8,85.4 C1164.1,88.2 1164.5,93.0 1165.3,98.1 C1166.1,103.2 1166.5,111.2 1167.8,115.9 C1169.1,120.6 1170.5,123.9 1173.0,126.0 C1175.5,128.1 1180.0,128.5 1183.0,128.6 C1186.0,128.7 1189.2,126.5 1190.7,126.6 C1192.2,126.7 1191.8,128.7 1192.0,129.1 L1183.0,133.7 L1173.0,143.8 L1160.2,157.8 L1147.5,164.2 L1137.4,165.4 L1127.2,161.6 L1117.0,157.0 L1106.9,161.6 L1096.7,168.0 L1086.5,164.2 L1081.5,166.7 L1073.8,179.4 L1063.7,194.7 L1053.5,207.4 L1040.8,215.0 L1030.7,217.5 L1028.1,212.4 L1023.0,187.0 L1018.0,161.6 L1012.9,136.2 L1183.0,133.7 C1181.3,135.4 1176.8,139.8 1173.0,143.8 C1169.2,147.8 1164.5,154.4 1160.2,157.8 C1156.0,161.2 1151.3,162.9 1147.5,164.2 C1143.7,165.5 1140.8,165.8 1137.4,165.4 C1134.0,165.0 1130.6,163.0 1127.2,161.6 C1123.8,160.2 1120.4,157.0 1117.0,157.0 C1113.6,157.0 1110.3,159.8 1106.9,161.6 C1103.5,163.4 1100.1,167.6 1096.7,168.0 C1093.3,168.4 1089.0,164.4 1086.5,164.2 C1084.0,164.0 1083.6,164.2 1081.5,166.7 C1079.4,169.2 1076.8,174.7 1073.8,179.4 C1070.8,184.1 1067.1,190.0 1063.7,194.7 C1060.3,199.4 1057.3,204.0 1053.5,207.4 C1049.7,210.8 1044.6,213.3 1040.8,215.0 C1037.0,216.7 1032.8,217.9 1030.7,217.5 C1028.6,217.1 1029.4,217.5 1028.1,212.4 C1026.8,207.3 1024.7,195.5 1023.0,187.0 C1021.3,178.5 1019.7,170.1 1018.0,161.6 C1016.3,153.1 1013.8,140.4 1012.9,136.2Z" fill="none" stroke="#5a4a70" stroke-width="0.6" stroke-opacity="0.6"/>
<line x1="1029.4" y1="69.7" x2="1029.4" y2="217.5" stroke="#1a1a1a" stroke-width="1.3"/>
<line x1="1091.6" y1="69.7" x2="1091.6" y2="143.8" stroke="#1a1a1a" stroke-width="1.3"/>
<line x1="1142.4" y1="69.7" x2="1142.4" y2="152.7" stroke="#1a1a1a" stroke-width="1.3"/>
<ellipse cx="1011.3" cy="53.3" rx="17.4" ry="18.0" fill="url(#sphg)" stroke="#888" stroke-width="0.7"/>
<path d="M1015.2,37.0 L1015.1,37.2 L1015.0,37.4 L1014.9,37.6 L1014.7,37.8 L1014.4,37.9 L1014.0,38.1 L1013.7,38.2 L1013.2,38.3 L1012.8,38.4 L1012.3,38.5 L1011.8,38.5 L1011.3,38.5 L1010.8,38.5 L1010.3,38.5 L1009.8,38.4 L1009.4,38.3 L1008.9,38.2 L1008.6,38.1 L1008.2,37.9 L1007.9,37.8 L1007.7,37.6 L1007.6,37.4 L1007.5,37.2 L1007.4,37.0 L1007.5,36.8 L1007.6,36.6 L1007.7,36.5 L1007.9,36.3 L1008.2,36.1 L1008.6,36.0 L1008.9,35.8 L1009.4,35.7 L1009.8,35.6 L1010.3,35.6 L1010.8,35.5 L1011.3,35.5 L1011.8,35.5 L1012.3,35.6 L1012.8,35.6 L1013.2,35.7 L1013.7,35.8 L1014.0,36.0 L1014.4,36.1 L1014.7,36.3 L1014.9,36.5 L1015.0,36.6 L1015.1,36.8 L1015.2,37.0M1018.8,38.3 L1018.8,38.6 L1018.6,39.0 L1018.3,39.4 L1017.8,39.7 L1017.3,40.0 L1016.6,40.3 L1015.9,40.6 L1015.1,40.8 L1014.2,41.0 L1013.3,41.1 L1012.3,41.2 L1011.3,41.2 L1010.3,41.2 L1009.3,41.1 L1008.4,41.0 L1007.5,40.8 L1006.7,40.6 L1006.0,40.3 L1005.3,40.0 L1004.8,39.7 L1004.3,39.4 L1004.0,39.0 L1003.8,38.6 L1003.8,38.3 L1003.8,37.9 L1004.0,37.5 L1004.3,37.1 L1004.8,36.8 L1005.3,36.5 L1006.0,36.2 L1006.7,35.9M1015.9,35.9 L1016.6,36.2 L1017.3,36.5 L1017.8,36.8 L1018.3,37.1 L1018.6,37.5 L1018.8,37.9 L1018.8,38.3M1022.1,40.3 L1022.1,40.8 L1021.8,41.3 L1021.3,41.9 L1020.7,42.4 L1019.9,42.8 L1019.0,43.2 L1017.9,43.6 L1016.7,43.9 L1015.5,44.1 L1014.1,44.3 L1012.7,44.4 L1011.3,44.5 L1009.9,44.4 L1008.5,44.3 L1007.1,44.1 L1005.9,43.9 L1004.7,43.6 L1003.6,43.2 L1002.7,42.8 L1001.9,42.4 L1001.3,41.9 L1000.8,41.3 L1000.5,40.8 L1000.5,40.3 L1000.5,39.7 L1000.8,39.2 L1001.3,38.6 L1001.9,38.1M1020.7,38.1 L1021.3,38.6 L1021.8,39.2 L1022.1,39.7 L1022.1,40.3M1024.9,42.9 L1024.8,43.6 L1024.4,44.3 L1023.9,44.9 L1023.1,45.5 L1022.1,46.1 L1020.9,46.6 L1019.6,47.1 L1018.1,47.5 L1016.5,47.8 L1014.8,48.0 L1013.1,48.1 L1011.3,48.2 L1009.5,48.1 L1007.8,48.0 L1006.1,47.8 L1004.5,47.5 L1003.0,47.1 L1001.7,46.6 L1000.5,46.1 L999.5,45.5 L998.7,44.9 L998.2,44.3 L997.8,43.6 L997.7,42.9 L997.8,42.2 L998.2,41.5M1024.4,41.5 L1024.8,42.2 L1024.9,42.9M1027.0,46.1 L1026.8,46.9 L1026.4,47.6 L1025.8,48.4 L1024.9,49.1 L1023.7,49.8 L1022.4,50.4 L1020.8,50.9 L1019.1,51.3 L1017.3,51.7 L1015.4,51.9 L1013.3,52.1 L1011.3,52.1 L1009.3,52.1 L1007.2,51.9 L1005.3,51.7 L1003.5,51.3 L1001.8,50.9 L1000.2,50.4 L998.9,49.8 L997.7,49.1 L996.8,48.4 L996.2,47.6 L995.8,46.9 L995.6,46.1 L995.8,45.3M1026.8,45.3 L1027.0,46.1M1028.3,49.6 L1028.1,50.4 L1027.7,51.3 L1027.0,52.1 L1026.0,52.9 L1024.8,53.6 L1023.3,54.2 L1021.6,54.8 L1019.8,55.3 L1017.8,55.7 L1015.7,55.9 L1013.5,56.1 L1011.3,56.2 L1009.1,56.1 L1006.9,55.9 L1004.8,55.7 L1002.8,55.3 L1001.0,54.8 L999.3,54.2 L997.8,53.6 L996.6,52.9 L995.6,52.1 L994.9,51.3 L994.5,50.4 L994.3,49.6M1028.7,53.3 L1028.6,54.2 L1028.1,55.0 L1027.4,55.9 L1026.4,56.7 L1025.1,57.4 L1023.6,58.1 L1021.9,58.6 L1020.0,59.1 L1018.0,59.5 L1015.8,59.8 L1013.6,60.0 L1011.3,60.0 L1009.0,60.0 L1006.8,59.8 L1004.6,59.5 L1002.6,59.1 L1000.7,58.6 L999.0,58.1 L997.5,57.4 L996.2,56.7 L995.2,55.9 L994.5,55.0 L994.0,54.2 L993.9,53.3M1028.1,57.9 L1027.7,58.7 L1027.0,59.5 L1026.0,60.3 L1024.8,61.0 L1023.3,61.7 L1021.6,62.2 L1019.8,62.7 L1017.8,63.1 L1015.7,63.4 L1013.5,63.5 L1011.3,63.6 L1009.1,63.5 L1006.9,63.4 L1004.8,63.1 L1002.8,62.7 L1001.0,62.2 L999.3,61.7 L997.8,61.0 L996.6,60.3 L995.6,59.5 L994.9,58.7 L994.5,57.9M1026.4,62.1 L1025.8,62.9 L1024.9,63.6 L1023.7,64.2 L1022.4,64.8 L1020.8,65.4 L1019.1,65.8 L1017.3,66.2 L1015.4,66.4 L1013.3,66.6 L1011.3,66.6 L1009.3,66.6 L1007.2,66.4 L1005.3,66.2 L1003.5,65.8 L1001.8,65.4 L1000.2,64.8 L998.9,64.2 L997.7,63.6 L996.8,62.9 L996.2,62.1M1023.9,65.7 L1023.1,66.3 L1022.1,66.9 L1020.9,67.4 L1019.6,67.9 L1018.1,68.3 L1016.5,68.6 L1014.8,68.8 L1013.1,68.9 L1011.3,69.0 L1009.5,68.9 L1007.8,68.8 L1006.1,68.6 L1004.5,68.3 L1003.0,67.9 L1001.7,67.4 L1000.5,66.9 L999.5,66.3 L998.7,65.7M1019.9,68.9 L1019.0,69.3 L1017.9,69.7 L1016.7,70.0 L1015.5,70.2 L1014.1,70.4 L1012.7,70.5 L1011.3,70.6 L1009.9,70.5 L1008.5,70.4 L1007.1,70.2 L1005.9,70.0 L1004.7,69.7 L1003.6,69.3 L1002.7,68.9M1015.1,70.9 L1014.2,71.0 L1013.3,71.2 L1012.3,71.2 L1011.3,71.3 L1010.3,71.2 L1009.3,71.2 L1008.4,71.0 L1007.5,70.9M1011.3,36.6 L1013.1,36.7 L1014.9,37.0 L1016.7,37.4 L1018.4,38.1 L1020.0,38.8 L1021.5,39.8 L1022.9,40.9 L1024.2,42.1 L1025.4,43.5 L1026.4,45.0 L1027.2,46.5 L1027.8,48.1 L1028.3,49.8 L1028.6,51.6 L1028.7,53.3M1011.3,36.6 L1013.0,37.0 L1014.6,37.5 L1016.3,38.2 L1017.8,39.1 L1019.3,40.1 L1020.7,41.3 L1022.1,42.6 L1023.2,44.1 L1024.3,45.6 L1025.2,47.2 L1026.0,48.9 L1026.6,50.6 L1027.0,52.4 L1027.3,54.1 L1027.4,55.9 L1027.3,57.6 L1027.0,59.3 L1026.6,60.9 L1026.0,62.4 L1025.2,63.9 L1024.3,65.2 L1023.2,66.4M1011.3,36.6 L1012.6,37.2 L1013.9,38.0 L1015.1,38.9 L1016.3,40.0 L1017.5,41.2 L1018.5,42.6 L1019.5,44.1 L1020.4,45.7 L1021.3,47.3 L1022.0,49.1 L1022.5,50.9 L1023.0,52.7 L1023.3,54.5 L1023.5,56.3 L1023.6,58.1 L1023.5,59.8 L1023.3,61.4 L1023.0,63.0 L1022.5,64.4 L1022.0,65.8 L1021.3,67.0 L1020.4,68.0 L1019.5,68.9 L1018.5,69.6 L1017.5,70.1M1011.3,36.6 L1012.0,37.4 L1012.7,38.3 L1013.4,39.4 L1014.0,40.6 L1014.6,42.0 L1015.2,43.5 L1015.8,45.1 L1016.2,46.8 L1016.7,48.5 L1017.1,50.4 L1017.4,52.2 L1017.6,54.1 L1017.8,55.9 L1017.9,57.8 L1018.0,59.5 L1017.9,61.2 L1017.8,62.9 L1017.6,64.4 L1017.4,65.8 L1017.1,67.0 L1016.7,68.1 L1016.2,69.1 L1015.8,69.9 L1015.2,70.5 L1014.6,70.9 L1014.0,71.1M1011.3,36.6 L1011.3,37.4 L1011.3,38.4 L1011.3,39.5 L1011.3,40.8 L1011.3,42.2 L1011.3,43.8 L1011.3,45.4 L1011.3,47.1 L1011.3,48.9 L1011.3,50.8 L1011.3,52.7 L1011.3,54.6 L1011.3,56.4 L1011.3,58.3 L1011.3,60.0 L1011.3,61.8 L1011.3,63.4 L1011.3,64.9 L1011.3,66.2 L1011.3,67.5 L1011.3,68.6 L1011.3,69.5 L1011.3,70.2 L1011.3,70.8 L1011.3,71.1 L1011.3,71.3M1011.3,36.6 L1010.6,37.4 L1009.9,38.3 L1009.2,39.4 L1008.6,40.6 L1008.0,42.0 L1007.4,43.5 L1006.8,45.1 L1006.4,46.8 L1005.9,48.5 L1005.5,50.4 L1005.2,52.2 L1005.0,54.1 L1004.8,55.9 L1004.7,57.8 L1004.6,59.5 L1004.7,61.2 L1004.8,62.9 L1005.0,64.4 L1005.2,65.8 L1005.5,67.0 L1005.9,68.1 L1006.4,69.1 L1006.8,69.9 L1007.4,70.5 L1008.0,70.9 L1008.6,71.1M1011.3,36.6 L1010.0,37.2 L1008.7,38.0 L1007.5,38.9 L1006.3,40.0 L1005.1,41.2 L1004.1,42.6 L1003.1,44.1 L1002.2,45.7 L1001.3,47.3 L1000.6,49.1 L1000.1,50.9 L999.6,52.7 L999.3,54.5 L999.1,56.3 L999.0,58.1 L999.1,59.8 L999.3,61.4 L999.6,63.0 L1000.1,64.4 L1000.6,65.8 L1001.3,67.0 L1002.2,68.0 L1003.1,68.9 L1004.1,69.6 L1005.1,70.1M1011.3,36.6 L1009.6,37.0 L1008.0,37.5 L1006.3,38.2 L1004.8,39.1 L1003.3,40.1 L1001.9,41.3 L1000.5,42.6 L999.4,44.1 L998.3,45.6 L997.4,47.2 L996.6,48.9 L996.0,50.6 L995.6,52.4 L995.3,54.1 L995.2,55.9 L995.3,57.6 L995.6,59.3 L996.0,60.9 L996.6,62.4 L997.4,63.9 L998.3,65.2 L999.4,66.4M1011.3,36.6 L1009.5,36.7 L1007.7,37.0 L1005.9,37.4 L1004.2,38.1 L1002.6,38.8 L1001.1,39.8 L999.7,40.9 L998.4,42.1 L997.2,43.5 L996.2,45.0 L995.4,46.5 L994.8,48.1 L994.3,49.8 L994.0,51.6 L993.9,53.3M1011.3,36.6 L1009.6,36.4 L1008.0,36.4 L1006.3,36.6 L1004.8,37.0 L1003.3,37.6 L1001.9,38.3 L1000.5,39.2M1011.3,36.6 L1010.0,36.2 L1008.7,36.0 L1007.5,36.0 L1006.3,36.1M1011.3,36.6 L1010.6,36.1 L1009.9,35.7 L1009.2,35.5M1011.3,36.6 L1011.3,36.0 L1011.3,35.6 L1011.3,35.3M1011.3,36.6 L1012.0,36.1 L1012.7,35.7 L1013.4,35.5M1011.3,36.6 L1012.6,36.2 L1013.9,36.0 L1015.1,36.0 L1016.3,36.1M1011.3,36.6 L1013.0,36.4 L1014.6,36.4 L1016.3,36.6 L1017.8,37.0 L1019.3,37.6 L1020.7,38.3 L1022.1,39.2" fill="none" stroke="#777" stroke-width="0.4"/>
<ellipse cx="1011.3" cy="37.1" rx="3.8" ry="1.6" fill="#333" opacity="0.8"/>
<ellipse cx="1075.1" cy="53.7" rx="20.5" ry="16.0" fill="url(#sphg)" stroke="#888" stroke-width="0.7"/>
<path d="M1079.7,39.2 L1079.6,39.4 L1079.5,39.6 L1079.3,39.7 L1079.1,39.9 L1078.7,40.0 L1078.3,40.2 L1077.9,40.3 L1077.4,40.4 L1076.8,40.5 L1076.3,40.5 L1075.7,40.6 L1075.1,40.6 L1074.5,40.6 L1073.9,40.5 L1073.4,40.5 L1072.8,40.4 L1072.3,40.3 L1071.9,40.2 L1071.5,40.0 L1071.1,39.9 L1070.9,39.7 L1070.7,39.6 L1070.6,39.4 L1070.5,39.2 L1070.6,39.1 L1070.7,38.9 L1070.9,38.7 L1071.1,38.6 L1071.5,38.4 L1071.9,38.3 L1072.3,38.2 L1072.8,38.1 L1073.4,38.0 L1073.9,37.9 L1074.5,37.9 L1075.1,37.9 L1075.7,37.9 L1076.3,37.9 L1076.8,38.0 L1077.4,38.1 L1077.9,38.2 L1078.3,38.3 L1078.7,38.4 L1079.1,38.6 L1079.3,38.7 L1079.5,38.9 L1079.6,39.1 L1079.7,39.2M1084.0,40.3 L1083.9,40.7 L1083.7,41.0 L1083.3,41.3 L1082.8,41.6 L1082.2,41.9 L1081.4,42.2 L1080.5,42.4 L1079.5,42.6 L1078.5,42.7 L1077.4,42.8 L1076.3,42.9 L1075.1,42.9 L1073.9,42.9 L1072.8,42.8 L1071.7,42.7 L1070.7,42.6 L1069.7,42.4 L1068.8,42.2 L1068.0,41.9 L1067.4,41.6 L1066.9,41.3 L1066.5,41.0 L1066.3,40.7 L1066.2,40.3 L1066.3,40.0 L1066.5,39.7 L1066.9,39.3 L1067.4,39.0 L1068.0,38.8 L1068.8,38.5 L1069.7,38.3M1080.5,38.3 L1081.4,38.5 L1082.2,38.8 L1082.8,39.0 L1083.3,39.3 L1083.7,39.7 L1083.9,40.0 L1084.0,40.3M1087.9,42.1 L1087.8,42.6 L1087.4,43.1 L1086.9,43.5 L1086.2,44.0 L1085.2,44.4 L1084.1,44.7 L1082.9,45.1 L1081.5,45.3 L1080.0,45.6 L1078.4,45.7 L1076.8,45.8 L1075.1,45.8 L1073.4,45.8 L1071.8,45.7 L1070.2,45.6 L1068.7,45.3 L1067.3,45.1 L1066.1,44.7 L1065.0,44.4 L1064.0,44.0 L1063.3,43.5 L1062.8,43.1 L1062.4,42.6 L1062.3,42.1 L1062.4,41.6 L1062.8,41.1 L1063.3,40.7 L1064.0,40.2M1086.2,40.2 L1086.9,40.7 L1087.4,41.1 L1087.8,41.6 L1087.9,42.1M1091.1,44.5 L1091.0,45.1 L1090.6,45.7 L1089.9,46.2 L1089.0,46.8 L1087.8,47.3 L1086.4,47.8 L1084.9,48.2 L1083.1,48.5 L1081.2,48.8 L1079.2,49.0 L1077.2,49.1 L1075.1,49.1 L1073.0,49.1 L1071.0,49.0 L1069.0,48.8 L1067.1,48.5 L1065.3,48.2 L1063.8,47.8 L1062.4,47.3 L1061.2,46.8 L1060.3,46.2 L1059.6,45.7 L1059.2,45.1 L1059.1,44.5 L1059.2,43.8 L1059.6,43.2M1090.6,43.2 L1091.0,43.8 L1091.1,44.5M1093.6,47.3 L1093.4,48.0 L1092.9,48.7 L1092.2,49.3 L1091.1,50.0 L1089.8,50.6 L1088.2,51.1 L1086.3,51.5 L1084.3,51.9 L1082.2,52.3 L1079.9,52.5 L1077.5,52.6 L1075.1,52.7 L1072.7,52.6 L1070.3,52.5 L1068.0,52.3 L1065.9,51.9 L1063.9,51.5 L1062.0,51.1 L1060.4,50.6 L1059.1,50.0 L1058.0,49.3 L1057.3,48.7 L1056.8,48.0 L1056.6,47.3 L1056.8,46.6M1093.4,46.6 L1093.6,47.3M1095.1,50.4 L1094.9,51.2 L1094.4,51.9 L1093.6,52.6 L1092.4,53.3 L1091.0,54.0 L1089.2,54.5 L1087.3,55.0 L1085.1,55.5 L1082.7,55.8 L1080.3,56.0 L1077.7,56.2 L1075.1,56.2 L1072.5,56.2 L1069.9,56.0 L1067.5,55.8 L1065.1,55.5 L1062.9,55.0 L1061.0,54.5 L1059.2,54.0 L1057.8,53.3 L1056.6,52.6 L1055.8,51.9 L1055.3,51.2 L1055.1,50.4M1095.6,53.7 L1095.4,54.5 L1094.9,55.3 L1094.0,56.0 L1092.9,56.7 L1091.4,57.3 L1089.6,57.9 L1087.6,58.5 L1085.3,58.9 L1082.9,59.2 L1080.4,59.5 L1077.8,59.6 L1075.1,59.7 L1072.4,59.6 L1069.8,59.5 L1067.3,59.2 L1064.8,58.9 L1062.6,58.5 L1060.6,57.9 L1058.8,57.3 L1057.3,56.7 L1056.2,56.0 L1055.3,55.3 L1054.8,54.5 L1054.6,53.7M1094.9,57.8 L1094.4,58.5 L1093.6,59.2 L1092.4,59.9 L1091.0,60.6 L1089.2,61.1 L1087.3,61.6 L1085.1,62.1 L1082.7,62.4 L1080.3,62.6 L1077.7,62.8 L1075.1,62.8 L1072.5,62.8 L1069.9,62.6 L1067.5,62.4 L1065.1,62.1 L1062.9,61.6 L1061.0,61.1 L1059.2,60.6 L1057.8,59.9 L1056.6,59.2 L1055.8,58.5 L1055.3,57.8M1092.9,61.5 L1092.2,62.2 L1091.1,62.8 L1089.8,63.4 L1088.2,64.0 L1086.3,64.4 L1084.3,64.8 L1082.2,65.1 L1079.9,65.4 L1077.5,65.5 L1075.1,65.5 L1072.7,65.5 L1070.3,65.4 L1068.0,65.1 L1065.9,64.8 L1063.9,64.4 L1062.0,64.0 L1060.4,63.4 L1059.1,62.8 L1058.0,62.2 L1057.3,61.5M1089.9,64.7 L1089.0,65.3 L1087.8,65.8 L1086.4,66.3 L1084.9,66.7 L1083.1,67.0 L1081.2,67.3 L1079.2,67.5 L1077.2,67.6 L1075.1,67.6 L1073.0,67.6 L1071.0,67.5 L1069.0,67.3 L1067.1,67.0 L1065.3,66.7 L1063.8,66.3 L1062.4,65.8 L1061.2,65.3 L1060.3,64.7M1085.2,67.6 L1084.1,67.9 L1082.9,68.3 L1081.5,68.5 L1080.0,68.8 L1078.4,68.9 L1076.8,69.0 L1075.1,69.0 L1073.4,69.0 L1071.8,68.9 L1070.2,68.8 L1068.7,68.5 L1067.3,68.3 L1066.1,67.9 L1065.0,67.6M1079.5,69.3 L1078.5,69.5 L1077.4,69.6 L1076.3,69.6 L1075.1,69.7 L1073.9,69.6 L1072.8,69.6 L1071.7,69.5 L1070.7,69.3M1075.1,38.9 L1077.2,38.9 L1079.4,39.2 L1081.4,39.6 L1083.4,40.1 L1085.3,40.9 L1087.1,41.7 L1088.8,42.7 L1090.3,43.8 L1091.7,45.0 L1092.9,46.3 L1093.8,47.7 L1094.6,49.1 L1095.2,50.6 L1095.5,52.1 L1095.6,53.7M1075.1,38.9 L1077.1,39.2 L1079.0,39.7 L1081.0,40.3 L1082.8,41.1 L1084.6,42.0 L1086.2,43.0 L1087.8,44.2 L1089.2,45.5 L1090.4,46.8 L1091.5,48.3 L1092.4,49.8 L1093.1,51.3 L1093.6,52.9 L1093.9,54.4 L1094.0,56.0 L1093.9,57.5 L1093.6,59.0 L1093.1,60.5 L1092.4,61.8 L1091.5,63.1 L1090.4,64.3 L1089.2,65.3M1075.1,38.9 L1076.6,39.4 L1078.1,40.1 L1079.6,40.9 L1081.0,41.9 L1082.3,43.0 L1083.6,44.2 L1084.8,45.5 L1085.9,46.9 L1086.8,48.4 L1087.7,50.0 L1088.3,51.5 L1088.9,53.1 L1089.3,54.8 L1089.5,56.4 L1089.6,57.9 L1089.5,59.5 L1089.3,60.9 L1088.9,62.3 L1088.3,63.6 L1087.7,64.8 L1086.8,65.8 L1085.9,66.8 L1084.8,67.6 L1083.6,68.2 L1082.3,68.7M1075.1,38.9 L1075.9,39.5 L1076.7,40.3 L1077.5,41.3 L1078.3,42.4 L1079.0,43.6 L1079.7,45.0 L1080.3,46.4 L1080.9,47.9 L1081.4,49.5 L1081.9,51.1 L1082.3,52.7 L1082.6,54.4 L1082.8,56.0 L1082.9,57.7 L1082.9,59.2 L1082.9,60.8 L1082.8,62.2 L1082.6,63.6 L1082.3,64.8 L1081.9,65.9 L1081.4,66.9 L1080.9,67.7 L1080.3,68.4 L1079.7,69.0 L1079.0,69.3 L1078.3,69.5M1075.1,38.9 L1075.1,39.6 L1075.1,40.4 L1075.1,41.4 L1075.1,42.6 L1075.1,43.8 L1075.1,45.2 L1075.1,46.7 L1075.1,48.2 L1075.1,49.8 L1075.1,51.5 L1075.1,53.1 L1075.1,54.8 L1075.1,56.5 L1075.1,58.1 L1075.1,59.7 L1075.1,61.2 L1075.1,62.6 L1075.1,64.0 L1075.1,65.2 L1075.1,66.3 L1075.1,67.3 L1075.1,68.1 L1075.1,68.7 L1075.1,69.2 L1075.1,69.5 L1075.1,69.7M1075.1,38.9 L1074.3,39.5 L1073.5,40.3 L1072.7,41.3 L1071.9,42.4 L1071.2,43.6 L1070.5,45.0 L1069.9,46.4 L1069.3,47.9 L1068.8,49.5 L1068.3,51.1 L1067.9,52.7 L1067.6,54.4 L1067.4,56.0 L1067.3,57.7 L1067.3,59.2 L1067.3,60.8 L1067.4,62.2 L1067.6,63.6 L1067.9,64.8 L1068.3,65.9 L1068.8,66.9 L1069.3,67.7 L1069.9,68.4 L1070.5,69.0 L1071.2,69.3 L1071.9,69.5M1075.1,38.9 L1073.6,39.4 L1072.1,40.1 L1070.6,40.9 L1069.2,41.9 L1067.9,43.0 L1066.6,44.2 L1065.4,45.5 L1064.3,46.9 L1063.4,48.4 L1062.5,50.0 L1061.9,51.5 L1061.3,53.1 L1060.9,54.8 L1060.7,56.4 L1060.6,57.9 L1060.7,59.5 L1060.9,60.9 L1061.3,62.3 L1061.9,63.6 L1062.5,64.8 L1063.4,65.8 L1064.3,66.8 L1065.4,67.6 L1066.6,68.2 L1067.9,68.7M1075.1,38.9 L1073.1,39.2 L1071.2,39.7 L1069.2,40.3 L1067.4,41.1 L1065.6,42.0 L1064.0,43.0 L1062.4,44.2 L1061.0,45.5 L1059.8,46.8 L1058.7,48.3 L1057.8,49.8 L1057.1,51.3 L1056.6,52.9 L1056.3,54.4 L1056.2,56.0 L1056.3,57.5 L1056.6,59.0 L1057.1,60.5 L1057.8,61.8 L1058.7,63.1 L1059.8,64.3 L1061.0,65.3M1075.1,38.9 L1073.0,38.9 L1070.8,39.2 L1068.8,39.6 L1066.8,40.1 L1064.8,40.9 L1063.1,41.7 L1061.4,42.7 L1059.9,43.8 L1058.5,45.0 L1057.3,46.3 L1056.4,47.7 L1055.6,49.1 L1055.0,50.6 L1054.7,52.1 L1054.6,53.7M1075.1,38.9 L1073.1,38.7 L1071.2,38.7 L1069.2,38.9 L1067.4,39.2 L1065.6,39.7 L1064.0,40.4 L1062.4,41.1M1075.1,38.9 L1073.6,38.5 L1072.1,38.3 L1070.6,38.3 L1069.2,38.4M1075.1,38.9 L1074.3,38.4 L1073.5,38.0 L1072.7,37.9M1075.1,38.9 L1075.1,38.3 L1075.1,37.9 L1075.1,37.7M1075.1,38.9 L1075.9,38.4 L1076.7,38.0 L1077.5,37.9M1075.1,38.9 L1076.6,38.5 L1078.1,38.3 L1079.6,38.3 L1081.0,38.4M1075.1,38.9 L1077.1,38.7 L1079.0,38.7 L1081.0,38.9 L1082.8,39.2 L1084.6,39.7 L1086.2,40.4 L1087.8,41.1" fill="none" stroke="#777" stroke-width="0.4"/>
<ellipse cx="1075.1" cy="39.4" rx="4.5" ry="1.6" fill="#333" opacity="0.8"/>
<ellipse cx="1130.0" cy="48.6" rx="15.7" ry="20.5" fill="url(#sphg)" stroke="#888" stroke-width="0.7"/>
<path d="M1133.5,30.1 L1133.5,30.3 L1133.4,30.5 L1133.2,30.7 L1133.0,30.9 L1132.8,31.1 L1132.5,31.3 L1132.1,31.4 L1131.7,31.5 L1131.3,31.6 L1130.9,31.7 L1130.5,31.8 L1130.0,31.8 L1129.5,31.8 L1129.1,31.7 L1128.7,31.6 L1128.3,31.5 L1127.9,31.4 L1127.5,31.3 L1127.2,31.1 L1127.0,30.9 L1126.8,30.7 L1126.6,30.5 L1126.5,30.3 L1126.5,30.1 L1126.5,29.8 L1126.6,29.6 L1126.8,29.4 L1127.0,29.2 L1127.2,29.0 L1127.5,28.9 L1127.9,28.7 L1128.3,28.6 L1128.7,28.5 L1129.1,28.4 L1129.5,28.4 L1130.0,28.4 L1130.5,28.4 L1130.9,28.4 L1131.3,28.5 L1131.7,28.6 L1132.1,28.7 L1132.5,28.9 L1132.8,29.0 L1133.0,29.2 L1133.2,29.4 L1133.4,29.6 L1133.5,29.8 L1133.5,30.1M1136.8,31.5 L1136.8,31.9 L1136.6,32.3 L1136.3,32.8 L1135.9,33.1 L1135.4,33.5 L1134.8,33.8 L1134.1,34.1 L1133.4,34.4 L1132.6,34.6 L1131.8,34.7 L1130.9,34.8 L1130.0,34.8 L1129.1,34.8 L1128.2,34.7 L1127.4,34.6 L1126.6,34.4 L1125.9,34.1 L1125.2,33.8 L1124.6,33.5 L1124.1,33.1 L1123.7,32.8 L1123.4,32.3 L1123.2,31.9 L1123.2,31.5 L1123.2,31.0 L1123.4,30.6 L1123.7,30.2 L1124.1,29.8 L1124.6,29.4 L1125.2,29.1 L1125.9,28.8M1134.1,28.8 L1134.8,29.1 L1135.4,29.4 L1135.9,29.8 L1136.3,30.2 L1136.6,30.6 L1136.8,31.0 L1136.8,31.5M1139.8,33.7 L1139.7,34.4 L1139.5,35.0 L1139.0,35.6 L1138.5,36.1 L1137.8,36.7 L1136.9,37.1 L1136.0,37.5 L1134.9,37.9 L1133.7,38.2 L1132.5,38.4 L1131.3,38.5 L1130.0,38.5 L1128.7,38.5 L1127.5,38.4 L1126.3,38.2 L1125.1,37.9 L1124.0,37.5 L1123.1,37.1 L1122.2,36.7 L1121.5,36.1 L1121.0,35.6 L1120.5,35.0 L1120.3,34.4 L1120.2,33.7 L1120.3,33.1 L1120.5,32.5 L1121.0,31.9 L1121.5,31.3M1138.5,31.3 L1139.0,31.9 L1139.5,32.5 L1139.7,33.1 L1139.8,33.7M1142.3,36.7 L1142.2,37.5 L1141.9,38.3 L1141.3,39.0 L1140.6,39.8 L1139.7,40.4 L1138.7,41.0 L1137.5,41.5 L1136.1,41.9 L1134.7,42.3 L1133.2,42.5 L1131.6,42.7 L1130.0,42.8 L1128.4,42.7 L1126.8,42.5 L1125.3,42.3 L1123.9,41.9 L1122.5,41.5 L1121.3,41.0 L1120.3,40.4 L1119.4,39.8 L1118.7,39.0 L1118.1,38.3 L1117.8,37.5 L1117.7,36.7 L1117.8,36.0 L1118.1,35.2M1141.9,35.2 L1142.2,36.0 L1142.3,36.7M1144.1,40.4 L1144.0,41.3 L1143.7,42.1 L1143.1,43.0 L1142.3,43.8 L1141.2,44.6 L1140.0,45.2 L1138.6,45.8 L1137.1,46.3 L1135.4,46.7 L1133.7,47.0 L1131.8,47.2 L1130.0,47.3 L1128.2,47.2 L1126.3,47.0 L1124.6,46.7 L1122.9,46.3 L1121.4,45.8 L1120.0,45.2 L1118.8,44.6 L1117.7,43.8 L1116.9,43.0 L1116.3,42.1 L1116.0,41.3 L1115.9,40.4 L1116.0,39.4M1144.0,39.4 L1144.1,40.4M1145.3,44.4 L1145.2,45.3 L1144.8,46.3 L1144.1,47.2 L1143.3,48.1 L1142.1,48.9 L1140.8,49.7 L1139.3,50.3 L1137.7,50.9 L1135.9,51.3 L1134.0,51.6 L1132.0,51.8 L1130.0,51.9 L1128.0,51.8 L1126.0,51.6 L1124.1,51.3 L1122.3,50.9 L1120.7,50.3 L1119.2,49.7 L1117.9,48.9 L1116.7,48.1 L1115.9,47.2 L1115.2,46.3 L1114.8,45.3 L1114.7,44.4M1145.7,48.6 L1145.6,49.6 L1145.2,50.6 L1144.5,51.5 L1143.6,52.4 L1142.5,53.3 L1141.1,54.0 L1139.6,54.7 L1137.8,55.3 L1136.0,55.7 L1134.1,56.0 L1132.0,56.2 L1130.0,56.3 L1128.0,56.2 L1125.9,56.0 L1124.0,55.7 L1122.2,55.3 L1120.4,54.7 L1118.9,54.0 L1117.5,53.3 L1116.4,52.4 L1115.5,51.5 L1114.8,50.6 L1114.4,49.6 L1114.3,48.6M1145.2,53.8 L1144.8,54.8 L1144.1,55.7 L1143.3,56.6 L1142.1,57.4 L1140.8,58.1 L1139.3,58.8 L1137.7,59.3 L1135.9,59.7 L1134.0,60.1 L1132.0,60.3 L1130.0,60.3 L1128.0,60.3 L1126.0,60.1 L1124.1,59.7 L1122.3,59.3 L1120.7,58.8 L1119.2,58.1 L1117.9,57.4 L1116.7,56.6 L1115.9,55.7 L1115.2,54.8 L1114.8,53.8M1143.7,58.6 L1143.1,59.5 L1142.3,60.3 L1141.2,61.1 L1140.0,61.7 L1138.6,62.3 L1137.1,62.8 L1135.4,63.2 L1133.7,63.5 L1131.8,63.7 L1130.0,63.8 L1128.2,63.7 L1126.3,63.5 L1124.6,63.2 L1122.9,62.8 L1121.4,62.3 L1120.0,61.7 L1118.8,61.1 L1117.7,60.3 L1116.9,59.5 L1116.3,58.6M1141.3,62.7 L1140.6,63.5 L1139.7,64.1 L1138.7,64.7 L1137.5,65.2 L1136.1,65.7 L1134.7,66.0 L1133.2,66.3 L1131.6,66.4 L1130.0,66.5 L1128.4,66.4 L1126.8,66.3 L1125.3,66.0 L1123.9,65.7 L1122.5,65.2 L1121.3,64.7 L1120.3,64.1 L1119.4,63.5 L1118.7,62.7M1137.8,66.4 L1136.9,66.8 L1136.0,67.3 L1134.9,67.6 L1133.7,67.9 L1132.5,68.1 L1131.3,68.2 L1130.0,68.2 L1128.7,68.2 L1127.5,68.1 L1126.3,67.9 L1125.1,67.6 L1124.0,67.3 L1123.1,66.8 L1122.2,66.4M1133.4,68.6 L1132.6,68.8 L1131.8,68.9 L1130.9,69.0 L1130.0,69.1 L1129.1,69.0 L1128.2,68.9 L1127.4,68.8 L1126.6,68.6M1130.0,29.6 L1131.6,29.7 L1133.3,30.0 L1134.9,30.5 L1136.4,31.2 L1137.8,32.1 L1139.2,33.2 L1140.5,34.5 L1141.7,35.9 L1142.7,37.4 L1143.6,39.1 L1144.3,40.9 L1144.9,42.7 L1145.4,44.6 L1145.6,46.6 L1145.7,48.6M1130.0,29.6 L1131.5,30.0 L1133.0,30.6 L1134.5,31.4 L1135.9,32.4 L1137.3,33.6 L1138.5,35.0 L1139.7,36.4 L1140.8,38.1 L1141.7,39.8 L1142.6,41.6 L1143.3,43.6 L1143.8,45.5 L1144.2,47.5 L1144.4,49.5 L1144.5,51.5 L1144.4,53.5 L1144.2,55.4 L1143.8,57.3 L1143.3,59.0 L1142.6,60.6 L1141.7,62.1 L1140.8,63.5M1130.0,29.6 L1131.2,30.3 L1132.3,31.1 L1133.4,32.2 L1134.5,33.4 L1135.6,34.9 L1136.5,36.4 L1137.4,38.1 L1138.3,39.9 L1139.0,41.8 L1139.6,43.8 L1140.1,45.8 L1140.6,47.9 L1140.9,50.0 L1141.0,52.0 L1141.1,54.0 L1141.0,56.0 L1140.9,57.9 L1140.6,59.6 L1140.1,61.3 L1139.6,62.8 L1139.0,64.2 L1138.3,65.4 L1137.4,66.4 L1136.5,67.2 L1135.6,67.8M1130.0,29.6 L1130.6,30.4 L1131.2,31.5 L1131.9,32.7 L1132.4,34.1 L1133.0,35.7 L1133.5,37.4 L1134.0,39.2 L1134.5,41.2 L1134.9,43.2 L1135.2,45.2 L1135.5,47.4 L1135.7,49.5 L1135.9,51.6 L1136.0,53.7 L1136.0,55.7 L1136.0,57.6 L1135.9,59.5 L1135.7,61.2 L1135.5,62.8 L1135.2,64.2 L1134.9,65.5 L1134.5,66.6 L1134.0,67.5 L1133.5,68.1 L1133.0,68.6 L1132.4,68.8M1130.0,29.6 L1130.0,30.5 L1130.0,31.6 L1130.0,32.9 L1130.0,34.4 L1130.0,36.0 L1130.0,37.7 L1130.0,39.6 L1130.0,41.6 L1130.0,43.6 L1130.0,45.7 L1130.0,47.9 L1130.0,50.0 L1130.0,52.2 L1130.0,54.3 L1130.0,56.3 L1130.0,58.2 L1130.0,60.1 L1130.0,61.8 L1130.0,63.3 L1130.0,64.8 L1130.0,66.0 L1130.0,67.0 L1130.0,67.9 L1130.0,68.5 L1130.0,68.9 L1130.0,69.1M1130.0,29.6 L1129.4,30.4 L1128.8,31.5 L1128.1,32.7 L1127.6,34.1 L1127.0,35.7 L1126.5,37.4 L1126.0,39.2 L1125.5,41.2 L1125.1,43.2 L1124.8,45.2 L1124.5,47.4 L1124.3,49.5 L1124.1,51.6 L1124.0,53.7 L1124.0,55.7 L1124.0,57.6 L1124.1,59.5 L1124.3,61.2 L1124.5,62.8 L1124.8,64.2 L1125.1,65.5 L1125.5,66.6 L1126.0,67.5 L1126.5,68.1 L1127.0,68.6 L1127.6,68.8M1130.0,29.6 L1128.8,30.3 L1127.7,31.1 L1126.6,32.2 L1125.5,33.4 L1124.4,34.9 L1123.5,36.4 L1122.6,38.1 L1121.7,39.9 L1121.0,41.8 L1120.4,43.8 L1119.9,45.8 L1119.4,47.9 L1119.1,50.0 L1119.0,52.0 L1118.9,54.0 L1119.0,56.0 L1119.1,57.9 L1119.4,59.6 L1119.9,61.3 L1120.4,62.8 L1121.0,64.2 L1121.7,65.4 L1122.6,66.4 L1123.5,67.2 L1124.4,67.8M1130.0,29.6 L1128.5,30.0 L1127.0,30.6 L1125.5,31.4 L1124.1,32.4 L1122.7,33.6 L1121.5,35.0 L1120.3,36.4 L1119.2,38.1 L1118.3,39.8 L1117.4,41.6 L1116.7,43.6 L1116.2,45.5 L1115.8,47.5 L1115.6,49.5 L1115.5,51.5 L1115.6,53.5 L1115.8,55.4 L1116.2,57.3 L1116.7,59.0 L1117.4,60.6 L1118.3,62.1 L1119.2,63.5M1130.0,29.6 L1128.4,29.7 L1126.7,30.0 L1125.1,30.5 L1123.6,31.2 L1122.2,32.1 L1120.8,33.2 L1119.5,34.5 L1118.3,35.9 L1117.3,37.4 L1116.4,39.1 L1115.7,40.9 L1115.1,42.7 L1114.6,44.6 L1114.4,46.6 L1114.3,48.6M1130.0,29.6 L1128.5,29.4 L1127.0,29.4 L1125.5,29.6 L1124.1,30.0 L1122.7,30.7 L1121.5,31.5 L1120.3,32.5M1130.0,29.6 L1128.8,29.1 L1127.7,28.9 L1126.6,28.8 L1125.5,29.0M1130.0,29.6 L1129.4,29.0 L1128.8,28.5 L1128.1,28.3M1130.0,29.6 L1130.0,28.9 L1130.0,28.4 L1130.0,28.1M1130.0,29.6 L1130.6,29.0 L1131.2,28.5 L1131.9,28.3M1130.0,29.6 L1131.2,29.1 L1132.3,28.9 L1133.4,28.8 L1134.5,29.0M1130.0,29.6 L1131.5,29.4 L1133.0,29.4 L1134.5,29.6 L1135.9,30.0 L1137.3,30.7 L1138.5,31.5 L1139.7,32.5" fill="none" stroke="#777" stroke-width="0.4"/>
<ellipse cx="1130.0" cy="30.1" rx="3.5" ry="1.6" fill="#333" opacity="0.8"/>
<text x="1158.8" y="44.8" font-family="Liberation Sans,sans-serif" font-size="23.6" fill="#111">186Pb</text>
<text x="1006" y="287.3" font-family="Liberation Sans,sans-serif" font-size="19.1" fill="#111"><tspan font-style="italic" text-decoration="underline">Nature</tspan> <tspan font-weight="bold">405</tspan>,430 (2000)</text>
<defs><clipPath id="sec"><path d="M660.3,417.4 L940.8,417.4 A280.5,270.6 0 0 0 800.55,183.05 Z"/></clipPath></defs>
<g clip-path="url(#sec)">
<path d="M682,375L685,374L688,373L690,374L692,374L694,375L695,376L697,378L698,378L699,380L700,382L700,382L701,385L702,388L702,390L701,392L700,395L700,396L699,398L698,399L697,400L695,402L694,402L692,404L690,405L689,405L688,405L685,405L684,405L682,405L680,403L679,402L678,401L677,400L676,398L675,396L675,395L674,392L674,390L674,388L675,385L675,384L676,382L677,380L678,379L679,378L680,376L682,375ZM795,415L798,413L800,415L800,415L802,415L805,416L808,417L810,417L812,418L812,418L815,418L817,420L818,421L819,422L820,423L821,425L822,428L820,430L820,430L818,430L815,430L812,430L810,430L808,430L805,430L802,430L800,430L798,430L795,430L792,430L792,430L790,428L790,426L790,425L790,422L790,422L790,420L792,418L792,417L794,415Z" fill="#1f55dd" fill-rule="evenodd" stroke="#1f55dd" stroke-width="0.6"/>
<path d="M678,350L680,349L682,349L685,349L688,349L690,349L692,349L695,349L698,350L700,350L700,350L702,351L705,351L708,352L710,352L710,353L712,354L714,355L715,356L717,358L718,358L718,360L720,362L720,364L720,365L721,368L722,370L722,372L722,375L722,376L723,378L723,380L723,382L723,385L723,388L722,388L722,390L720,393L720,393L718,395L718,396L716,398L715,398L713,400L712,400L710,402L710,403L708,405L708,406L706,408L705,410L705,410L704,412L703,415L702,417L702,418L702,420L702,422L703,422L703,425L704,428L705,429L705,430L705,430L702,430L700,430L698,430L695,430L692,430L690,430L688,430L685,430L682,430L680,430L678,430L675,430L672,430L670,430L668,430L665,430L662,430L660,430L658,430L655,430L652,430L650,430L648,430L645,430L642,430L640,430L640,428L640,425L640,422L640,420L640,418L640,415L640,412L640,410L640,408L640,405L640,402L640,400L640,398L640,395L640,392L640,390L640,388L640,385L640,382L640,380L640,378L640,375L640,372L640,370L640,368L640,365L640,365L642,364L644,362L645,362L648,360L648,360L650,359L652,358L653,358L655,357L658,355L658,355L660,354L662,353L665,353L665,352L668,352L670,351L672,351L675,350L676,350ZM682,375L680,376L679,378L678,379L677,380L676,382L675,384L675,385L674,388L674,390L674,392L675,395L675,396L676,398L677,400L678,401L679,402L680,403L682,405L684,405L685,405L688,405L689,405L690,405L692,404L694,402L695,402L697,400L698,399L699,398L700,396L700,395L701,392L702,390L702,388L701,385L700,382L700,382L699,380L698,378L697,378L695,376L694,375L692,374L690,374L688,373L685,374L682,375ZM795,405L798,404L800,404L802,403L805,403L808,403L810,403L812,404L815,404L817,405L818,405L820,406L822,408L822,408L825,409L826,410L828,412L828,412L830,415L830,415L831,418L832,420L832,422L833,422L833,425L832,426L832,428L832,430L830,430L828,430L825,430L822,430L820,430L822,428L821,425L820,423L819,422L818,421L817,420L815,418L812,418L812,418L810,417L808,417L805,416L802,415L800,415L800,415L798,413L795,415L794,415L792,417L792,418L790,420L790,422L790,422L790,425L790,426L790,428L792,430L790,430L788,430L785,430L782,430L780,430L780,428L780,428L779,425L779,422L780,420L780,420L781,418L782,415L782,414L784,412L785,411L786,410L788,409L790,408L790,407L792,406L795,405Z" fill="#2a72ea" fill-rule="evenodd" stroke="#2a72ea" stroke-width="0.6"/>
<path d="M642,333L645,333L648,333L650,333L652,333L655,333L658,333L660,333L662,333L665,333L668,333L670,333L672,333L675,333L678,333L680,333L682,333L685,333L688,333L690,333L692,333L695,333L698,333L700,333L702,333L705,333L708,333L710,333L712,333L715,334L718,334L720,334L722,334L725,334L727,335L728,335L730,336L732,337L733,338L735,339L736,340L737,342L738,343L738,345L739,348L739,350L739,352L739,355L739,358L739,360L740,362L740,365L740,368L740,370L740,372L740,375L740,378L740,380L740,382L740,385L739,388L739,390L738,392L738,395L737,395L736,398L735,398L733,400L732,401L730,403L730,403L728,404L726,405L725,406L722,407L722,408L720,410L720,410L719,412L720,415L720,415L722,417L723,418L725,419L727,420L728,420L730,422L731,422L732,423L734,425L735,426L737,428L738,429L738,430L738,430L735,430L732,430L730,430L728,430L725,430L722,430L720,430L718,430L715,430L712,430L710,430L708,430L705,430L705,429L704,428L703,425L703,422L702,422L702,420L702,418L702,417L703,415L704,412L705,410L705,410L706,408L708,406L708,405L710,403L710,402L712,400L713,400L715,398L716,398L718,396L718,395L720,393L720,392L722,390L722,388L723,388L723,385L723,382L723,380L723,378L722,376L722,375L722,372L722,370L721,368L720,365L720,364L720,362L718,360L718,358L717,358L715,356L714,355L712,354L710,353L710,352L708,352L705,351L702,351L700,350L700,350L698,350L695,349L692,349L690,349L688,349L685,349L682,349L680,349L678,350L676,350L675,350L672,351L670,351L668,352L665,352L665,353L662,353L660,354L658,355L658,355L655,357L653,358L652,358L650,359L648,360L648,360L645,362L644,362L642,364L640,365L640,365L640,365L640,362L640,360L640,358L640,355L640,352L640,350L640,348L640,345L640,342L640,340L640,338L640,335L640,333ZM798,390L800,389L802,389L805,389L808,389L810,389L812,389L815,390L816,390L818,390L820,391L822,392L825,392L825,393L828,394L830,395L830,395L832,397L834,398L835,398L837,400L838,400L840,402L840,403L842,405L842,406L844,408L845,409L845,410L847,412L847,415L848,415L848,418L849,420L849,422L849,425L849,428L848,430L848,430L845,430L842,430L840,430L838,430L835,430L832,430L832,430L832,428L832,426L833,425L833,422L832,422L832,420L831,418L830,415L830,415L828,412L828,412L826,410L825,409L822,408L822,408L820,406L818,405L817,405L815,404L812,404L810,403L808,403L805,403L802,403L800,404L798,404L795,405L795,405L792,406L790,407L790,408L788,409L786,410L785,411L784,412L782,414L782,415L781,418L780,420L780,420L779,422L779,425L780,428L780,428L780,430L780,430L778,430L775,430L772,430L770,430L768,430L765,430L764,430L764,428L764,425L765,422L765,421L765,420L766,418L767,415L768,413L768,412L769,410L770,408L770,407L771,405L772,403L773,402L775,400L775,400L778,398L778,398L780,396L782,395L782,395L785,394L787,392L788,392L790,392L792,391L795,390L796,390Z" fill="#3a90f2" fill-rule="evenodd" stroke="#3a90f2" stroke-width="0.6"/>
<path d="M640,305L642,307L644,308L645,308L647,310L648,310L650,311L652,312L654,312L655,313L658,314L660,315L661,315L662,315L665,316L668,316L670,317L672,317L675,318L675,318L678,318L680,318L682,318L685,319L688,319L690,319L692,320L695,320L695,320L698,320L700,321L702,321L705,321L708,322L710,322L712,322L714,322L715,323L718,323L720,323L722,324L725,325L725,325L728,326L730,327L732,328L732,328L735,328L738,329L739,330L740,330L742,331L745,332L746,332L748,333L750,334L751,335L752,336L755,337L756,338L758,338L760,339L762,340L762,340L765,342L767,342L768,343L770,344L772,345L772,345L775,347L777,348L778,348L780,349L781,350L782,351L785,352L785,353L788,354L789,355L790,356L792,357L793,358L795,359L797,360L798,360L800,362L802,362L804,362L805,363L808,363L810,363L812,364L815,365L817,365L818,365L820,366L822,366L825,367L828,367L828,368L830,368L832,368L835,369L838,370L840,370L840,370L842,371L845,371L848,372L848,372L849,375L850,376L851,378L852,380L853,380L854,382L855,383L856,385L858,387L858,387L860,390L860,390L862,392L863,392L865,395L865,395L868,397L868,398L870,400L870,400L872,402L873,402L875,404L876,405L878,406L879,408L880,409L882,410L882,411L884,412L885,413L887,415L888,415L890,418L890,418L892,420L893,420L895,422L896,422L898,424L900,425L900,425L902,427L903,428L905,428L908,430L908,430L908,430L905,430L902,430L900,430L898,430L895,430L892,430L890,430L888,430L885,430L882,430L880,430L878,430L875,430L872,430L870,430L868,430L865,430L862,430L860,430L858,430L855,430L852,430L850,430L848,430L849,428L849,425L849,422L849,420L848,418L848,415L847,415L847,412L845,410L845,409L844,408L842,406L842,405L840,403L840,402L838,400L837,400L835,398L834,398L832,397L830,395L830,395L828,394L825,393L825,392L822,392L820,391L818,390L816,390L815,390L812,389L810,389L808,389L805,389L802,389L800,389L798,390L796,390L795,390L792,391L790,392L788,392L787,392L785,394L782,395L782,395L780,396L778,398L778,398L775,400L775,400L773,402L773,403L771,405L770,407L770,408L769,410L768,412L768,413L767,415L766,418L765,420L765,421L765,422L764,425L764,428L764,430L762,430L760,430L758,430L755,430L752,430L750,430L748,430L745,430L742,430L740,430L738,430L738,429L737,428L735,426L734,425L732,423L731,422L730,422L728,420L727,420L725,419L723,418L722,417L720,415L720,415L719,412L720,410L720,410L722,408L722,407L725,406L726,405L728,404L730,403L730,402L732,401L733,400L735,398L736,398L737,395L737,395L738,392L739,390L739,388L740,385L740,382L740,380L740,377L740,375L740,372L740,370L740,368L740,365L740,362L739,360L739,358L739,355L739,352L739,350L739,348L738,345L738,343L737,342L736,340L735,339L733,338L732,337L730,336L728,335L728,335L725,334L722,334L720,334L718,334L715,334L712,333L710,333L708,333L705,333L702,333L700,333L698,333L695,333L692,333L690,333L688,333L685,333L682,333L680,333L678,333L675,333L672,333L670,333L668,333L665,333L662,333L660,333L658,333L655,333L652,333L650,333L648,333L645,333L642,333L640,333L640,332L640,330L640,328L640,325L640,322L640,320L640,318L640,315L640,312L640,310L640,308L640,305L640,305Z" fill="#38b4f6" fill-rule="evenodd" stroke="#38b4f6" stroke-width="0.6"/>
<path d="M642,300L643,300L645,302L646,302L648,303L650,305L651,305L652,306L655,307L656,308L658,308L660,309L662,310L664,310L665,310L668,311L670,311L672,312L675,312L678,312L680,312L680,313L682,313L685,313L688,314L690,314L692,314L695,315L698,315L700,315L700,315L702,315L705,316L708,316L710,316L712,317L715,317L718,317L720,318L720,318L722,318L725,319L727,320L728,320L730,321L732,322L734,322L735,323L738,324L740,325L741,325L742,325L745,326L748,327L748,327L750,329L752,330L753,330L755,331L758,332L758,332L760,333L762,335L763,335L765,336L768,337L769,338L770,338L772,339L774,340L775,340L778,341L780,342L780,342L782,343L785,344L787,345L788,345L790,346L792,347L794,348L795,348L798,349L800,350L801,350L802,350L805,351L808,351L810,352L812,352L815,352L816,352L818,353L820,354L822,354L825,355L827,355L828,355L830,356L832,357L835,357L838,357L838,358L840,358L842,359L845,359L848,360L850,360L851,360L852,360L855,362L855,362L857,365L858,366L858,368L860,370L860,370L862,372L862,373L863,375L865,377L865,378L868,380L868,380L869,382L870,383L872,385L872,386L874,388L875,388L877,390L878,390L880,392L880,392L882,395L883,395L885,397L885,398L888,400L888,400L890,402L891,402L892,404L893,405L895,406L896,408L898,409L899,410L900,411L902,412L903,412L905,415L906,415L908,416L910,417L910,418L912,419L914,420L915,421L918,422L918,422L920,424L922,425L923,425L925,427L927,428L928,428L930,429L931,430L930,430L928,430L925,430L922,430L920,430L918,430L915,430L912,430L910,430L908,430L908,430L905,428L903,428L902,427L900,425L900,425L898,424L896,422L895,422L893,420L892,420L890,418L890,418L888,415L887,415L885,413L884,412L882,411L882,410L880,409L879,408L878,406L876,405L875,404L873,402L872,402L870,400L870,400L868,398L868,397L865,395L865,395L863,392L862,392L860,390L860,390L858,388L858,387L856,385L855,383L854,382L853,380L852,380L851,378L850,376L849,375L848,372L848,372L845,371L842,371L840,370L840,370L838,370L835,369L832,368L830,368L828,368L828,367L825,367L822,366L820,366L818,365L817,365L815,365L812,364L810,363L808,363L805,363L804,362L802,362L800,362L797,360L797,360L795,359L793,358L792,357L790,356L789,355L788,354L785,353L785,352L782,351L781,350L780,349L778,348L777,348L775,347L772,345L772,345L770,344L768,343L767,342L765,342L762,340L762,340L760,339L758,338L756,338L755,337L753,336L751,335L750,334L748,333L746,332L745,332L742,331L740,330L739,330L738,329L735,328L732,328L732,328L730,327L728,326L725,325L725,325L722,324L720,323L718,323L715,323L714,322L712,322L710,322L708,322L705,321L702,321L700,321L698,320L695,320L695,320L692,320L690,319L688,319L685,319L682,318L680,318L678,318L675,318L675,318L672,317L670,317L668,316L665,316L662,315L661,315L660,315L658,314L655,313L654,312L652,312L650,311L648,310L648,310L645,308L644,308L642,307L640,305L640,305L640,302L640,300L640,298Z" fill="#28d4f0" fill-rule="evenodd" stroke="#28d4f0" stroke-width="0.6"/>
<path d="M640,292L642,295L643,295L645,296L647,298L648,298L650,300L651,300L652,301L655,302L656,302L658,303L660,304L662,305L662,305L665,306L668,306L670,307L672,307L674,308L675,308L678,308L680,308L682,309L685,309L688,309L690,309L692,310L694,310L695,310L698,310L700,311L702,311L705,311L708,312L710,312L713,312L714,312L715,313L718,313L720,313L722,314L725,315L726,315L728,315L730,316L732,317L734,318L735,318L738,318L740,319L742,320L743,320L745,321L748,322L749,322L750,323L752,324L755,325L755,325L758,326L760,328L760,328L762,329L765,330L765,330L768,331L770,332L770,332L772,333L775,335L776,335L778,336L780,337L782,338L782,338L785,339L788,340L789,340L790,340L792,341L795,342L796,342L798,343L800,344L802,345L805,345L806,345L808,345L810,346L812,346L815,347L818,347L819,348L820,348L822,348L825,349L828,349L830,350L831,350L832,350L835,351L838,352L840,352L842,352L842,353L845,353L848,354L850,354L852,355L855,355L855,355L858,356L859,358L860,359L860,360L862,362L862,363L864,365L865,367L866,368L867,370L868,370L869,372L870,374L871,375L872,377L873,378L875,380L875,380L877,382L878,383L880,385L880,385L883,387L883,388L885,389L886,390L888,392L888,392L890,394L891,395L892,396L894,398L895,398L897,400L898,401L900,402L900,403L902,405L902,405L905,407L905,408L908,409L909,410L910,411L912,412L913,412L915,414L917,415L918,415L920,417L921,418L922,418L925,420L926,420L928,421L930,422L930,422L932,424L934,425L935,425L938,427L939,428L940,428L943,430L943,430L942,430L940,430L938,430L935,430L932,430L931,430L930,429L928,428L927,428L925,427L923,425L922,425L920,424L918,422L918,422L915,421L914,420L912,419L910,418L910,417L908,416L906,415L905,415L903,412L902,412L900,411L899,410L898,409L896,408L895,406L893,405L892,404L891,402L890,402L888,400L888,400L885,398L885,397L883,395L882,395L880,392L880,392L878,390L877,390L875,388L874,388L872,386L872,385L870,383L869,382L868,380L868,380L865,378L865,377L863,375L862,373L862,373L860,370L860,370L858,368L858,366L857,365L855,362L855,362L852,360L851,360L850,360L848,360L845,359L842,359L840,358L838,358L838,357L835,357L832,357L830,356L828,355L827,355L825,355L822,354L820,354L818,353L816,352L815,352L812,352L810,352L808,351L805,351L802,350L801,350L800,350L798,349L795,348L794,348L792,347L790,346L788,345L787,345L785,344L782,343L780,342L780,342L778,341L775,340L774,340L772,339L770,338L769,338L768,337L765,336L763,335L762,335L760,333L758,332L758,332L755,331L753,330L752,330L750,329L748,328L748,327L745,326L743,325L741,325L740,325L738,324L735,323L734,322L732,322L730,321L728,320L727,320L725,319L722,318L720,318L720,318L718,317L715,317L712,317L710,316L708,316L705,316L702,315L700,315L700,315L698,315L695,315L692,314L690,314L688,314L685,313L682,313L680,313L680,312L678,312L675,312L672,312L670,311L668,311L665,310L664,310L662,310L660,309L658,308L656,308L655,307L652,306L651,305L650,305L648,303L646,302L645,302L643,300L642,300L640,298L640,298L640,295L640,292L640,292Z" fill="#28e4d8" fill-rule="evenodd" stroke="#28e4d8" stroke-width="0.6"/>
<path d="M641,288L642,289L644,290L645,291L647,292L648,293L650,295L650,295L652,296L655,298L655,298L658,299L660,300L661,300L662,301L665,301L668,302L669,302L670,303L672,303L675,303L678,304L680,304L682,304L685,305L688,305L688,305L690,305L692,306L695,306L698,306L700,306L702,307L705,307L708,307L708,308L710,308L712,308L715,308L718,309L720,309L722,310L723,310L725,310L728,311L730,312L732,312L732,313L735,313L738,314L740,315L740,315L742,316L745,316L748,317L748,318L750,318L752,319L754,320L755,320L758,321L760,322L760,322L762,323L765,324L766,325L768,326L770,327L772,328L772,328L775,329L777,330L778,330L780,331L782,332L784,332L785,333L788,334L790,335L791,335L792,336L795,337L797,338L798,338L800,338L802,339L805,339L808,340L810,340L811,340L812,340L815,341L818,341L820,342L822,342L823,342L825,343L828,344L830,344L832,345L834,345L835,345L838,346L840,346L842,347L845,347L846,348L848,348L850,348L852,349L855,349L858,350L858,350L860,351L862,352L862,353L864,355L865,357L866,358L867,360L868,360L869,362L870,364L871,365L872,368L872,368L874,370L875,371L876,372L878,374L878,375L880,377L880,378L882,380L883,380L885,382L886,382L888,384L889,385L890,386L891,388L892,389L894,390L895,391L897,392L898,393L900,395L900,395L902,398L902,398L905,400L905,400L908,402L908,402L910,404L911,405L912,406L915,407L915,408L918,409L920,410L920,410L922,412L924,412L925,413L928,415L928,415L930,416L932,417L933,418L935,419L937,420L938,420L940,422L941,422L942,423L945,425L946,425L948,426L950,427L950,428L952,429L955,430L952,430L950,430L948,430L945,430L943,430L942,430L940,428L939,428L938,427L935,425L934,425L932,424L930,422L930,422L928,421L926,420L925,420L922,418L921,418L920,417L918,415L917,415L915,414L913,412L912,412L910,411L909,410L908,409L905,408L905,407L902,405L902,405L900,403L900,402L898,401L897,400L895,398L894,398L892,396L891,395L890,394L888,392L888,392L886,390L885,389L883,388L882,387L880,385L880,385L878,383L877,383L875,380L875,380L873,378L872,377L871,375L870,374L869,372L868,370L867,370L866,368L865,367L864,365L862,363L862,362L860,360L860,359L859,358L858,356L855,355L855,355L852,355L850,354L848,354L845,353L843,353L842,352L840,352L838,352L835,351L832,350L831,350L830,350L828,349L825,349L822,348L820,348L819,348L818,347L815,347L812,346L810,346L808,345L806,345L805,345L802,345L800,344L798,343L796,342L795,342L792,341L790,340L789,340L788,340L785,339L782,338L782,338L780,337L777,336L776,335L775,335L772,333L770,332L770,332L768,331L765,330L765,330L762,329L760,328L760,328L758,326L755,325L755,325L752,324L750,323L749,322L748,322L745,321L743,320L742,320L740,319L738,318L735,318L734,318L732,317L730,316L728,315L726,315L725,315L722,314L720,313L718,313L715,313L714,312L712,312L710,312L708,312L705,311L702,311L700,311L698,310L695,310L694,310L692,310L690,309L688,309L685,309L682,309L680,308L678,308L675,308L674,308L672,307L670,307L668,306L665,306L662,305L662,305L660,304L658,303L656,302L655,302L652,301L651,300L650,300L648,298L647,298L645,296L643,295L642,295L640,292L640,292L640,290L640,288L640,286Z" fill="#32e994" fill-rule="evenodd" stroke="#32e994" stroke-width="0.6"/>
<path d="M642,282L642,283L644,285L645,286L647,288L648,288L650,290L650,290L652,292L654,292L655,293L658,294L659,295L660,296L662,297L665,297L666,298L668,298L670,299L672,299L675,299L678,300L680,300L681,300L682,300L685,301L688,301L690,301L692,302L695,302L698,302L700,302L701,302L702,303L705,303L708,304L710,304L712,304L715,304L717,305L720,305L720,305L722,306L725,306L728,307L729,308L730,308L732,308L735,309L738,310L738,310L740,311L742,311L745,312L746,312L748,313L750,314L752,315L753,315L755,316L758,317L759,318L760,318L762,319L765,320L765,320L768,321L770,322L771,322L772,323L775,324L777,325L778,325L780,326L782,327L784,328L785,328L788,329L790,329L792,330L792,330L795,331L798,332L799,332L800,333L802,333L805,333L808,334L810,334L812,335L815,335L815,335L818,336L820,336L822,337L825,337L826,338L828,338L830,338L832,339L835,339L838,340L838,340L840,341L842,341L845,342L848,342L850,342L850,343L852,343L855,344L858,344L860,345L861,345L862,345L865,347L865,348L867,350L868,350L869,352L870,354L871,355L872,358L872,358L874,360L875,361L876,362L877,365L878,365L879,368L880,368L881,370L882,371L883,372L885,374L886,375L888,376L889,378L890,379L891,380L892,381L894,382L895,383L897,385L898,386L900,388L900,388L902,390L902,390L905,392L905,392L907,395L908,395L910,397L911,398L912,399L914,400L915,401L918,402L918,402L920,404L922,405L922,405L925,407L927,408L928,408L930,410L931,410L932,411L935,412L935,412L938,414L940,415L940,415L942,417L944,418L945,418L948,420L948,420L950,421L952,422L953,422L955,424L957,425L958,425L960,426L960,428L960,430L958,430L955,430L955,430L952,429L950,428L950,427L948,426L946,425L945,425L942,423L941,422L940,422L938,420L937,420L935,419L933,418L932,417L930,416L928,415L928,415L925,413L924,412L922,412L920,410L920,410L918,409L915,408L915,407L912,406L911,405L910,404L908,402L908,402L905,400L905,400L902,398L902,398L900,395L900,395L898,393L897,392L895,391L894,390L892,389L891,388L890,386L889,385L888,384L886,382L885,382L883,380L882,380L880,378L880,377L878,375L878,374L876,372L875,371L874,370L872,368L872,368L871,365L870,364L869,362L868,360L867,360L866,358L865,357L864,355L862,353L862,352L860,351L858,350L858,350L855,349L852,349L850,348L848,348L846,348L845,347L842,347L840,346L838,346L835,345L834,345L832,345L830,344L828,344L825,343L823,342L822,342L820,342L818,341L815,341L812,340L811,340L810,340L808,340L805,339L802,339L800,338L798,338L797,338L795,337L792,336L791,335L790,335L788,334L785,333L784,332L782,332L780,331L778,330L777,330L775,329L772,328L772,328L770,327L768,326L766,325L765,324L762,323L760,322L760,322L758,321L755,320L754,320L752,319L750,318L748,318L748,317L745,316L742,316L740,315L740,315L738,314L735,313L732,313L732,312L730,312L728,311L725,310L723,310L722,310L720,309L718,309L715,308L712,308L710,308L708,308L708,307L705,307L702,307L700,306L698,306L695,306L692,306L690,305L688,305L688,305L685,305L682,304L680,304L678,304L675,303L672,303L670,303L669,302L668,302L665,301L662,301L661,300L660,300L658,299L655,298L655,298L652,296L650,295L650,295L648,293L647,292L645,291L644,290L642,289L641,288L640,286L640,285L640,282L640,281Z" fill="#3ae664" fill-rule="evenodd" stroke="#3ae664" stroke-width="0.6"/>
<path d="M641,278L642,279L643,280L645,282L646,282L648,284L648,285L650,286L651,288L652,288L655,290L655,290L658,291L660,292L660,292L662,293L665,294L667,295L668,295L670,296L672,296L675,296L678,297L680,297L682,297L683,298L685,298L688,298L690,298L692,299L695,299L698,299L700,300L702,300L703,300L705,300L708,301L710,301L712,301L715,302L718,302L720,302L722,302L722,303L725,303L728,304L730,304L732,305L733,305L735,306L738,306L740,307L742,307L743,308L745,308L748,309L750,310L751,310L752,311L755,312L757,312L758,313L760,314L762,315L763,315L765,316L768,317L769,318L770,318L772,319L775,320L775,320L778,321L780,322L782,322L782,323L785,324L788,324L790,325L790,325L792,326L795,327L798,327L798,328L800,328L802,329L805,329L808,329L810,330L812,330L813,330L815,330L818,331L820,331L822,332L825,332L825,333L828,333L830,334L832,334L835,335L836,335L838,335L840,336L842,336L845,337L848,337L848,338L850,338L852,338L855,339L858,339L860,340L860,340L862,340L865,342L866,342L868,344L869,345L870,346L871,348L872,350L873,350L874,352L875,353L876,355L878,357L878,358L879,360L880,361L881,362L882,364L883,365L885,367L885,368L887,370L888,370L890,372L890,373L892,375L893,375L895,377L895,378L898,379L898,380L900,382L901,382L902,384L904,385L905,386L906,388L908,388L909,390L910,391L912,392L912,393L915,395L915,395L917,397L919,398L920,398L922,400L923,400L925,401L927,402L928,403L930,404L931,405L932,406L935,407L936,408L938,409L940,410L940,410L942,411L944,412L945,413L947,414L949,415L950,416L952,417L953,418L955,419L957,420L958,420L960,421L960,422L960,425L960,426L958,425L957,425L955,424L953,422L952,422L950,421L948,420L948,420L945,418L944,418L942,417L940,415L940,415L938,414L935,412L935,412L932,411L931,410L930,410L928,408L927,408L925,407L922,405L922,405L920,404L918,402L918,402L915,401L914,400L912,399L911,398L910,397L908,395L908,395L905,392L905,392L902,390L902,390L900,388L900,388L898,386L897,385L895,383L894,382L892,381L891,380L890,379L889,378L888,376L886,375L885,374L883,372L882,371L881,370L880,368L879,368L878,365L877,365L876,362L875,361L874,360L872,358L872,358L871,355L870,354L869,352L868,350L867,350L865,348L865,347L862,345L861,345L860,345L858,344L855,344L852,343L850,343L850,342L848,342L845,342L842,341L840,341L838,340L838,340L835,339L832,339L830,338L827,338L826,338L825,337L822,337L820,336L817,336L815,335L815,335L812,335L810,334L808,334L805,333L802,333L800,333L799,332L798,332L795,331L792,330L792,330L790,329L788,329L785,328L784,328L782,327L780,326L778,325L777,325L775,324L772,323L771,322L770,322L768,321L765,320L765,320L762,319L760,318L759,318L758,317L755,316L753,315L752,315L750,314L748,313L746,312L745,312L742,311L740,311L738,310L738,310L735,309L732,308L730,308L729,308L728,307L725,306L722,306L720,305L720,305L718,305L715,304L712,304L710,304L708,304L705,303L702,303L701,302L700,302L698,302L695,302L692,302L690,301L688,301L685,301L682,300L681,300L680,300L678,300L675,299L672,299L670,299L668,298L666,298L665,297L662,297L660,296L659,295L658,294L655,293L654,292L652,292L650,290L650,290L648,288L647,288L645,286L644,285L642,283L642,282L640,281L640,280L640,278L640,276Z" fill="#46e444" fill-rule="evenodd" stroke="#46e444" stroke-width="0.6"/>
<path d="M641,272L642,275L643,275L645,278L645,278L647,280L648,281L649,282L650,283L652,285L652,285L655,287L656,288L658,288L660,290L661,290L662,291L665,292L668,292L668,292L670,293L672,294L675,294L678,294L680,294L682,295L684,295L685,295L688,295L690,296L692,296L695,296L698,297L700,297L702,297L704,298L705,298L708,298L710,298L712,299L715,299L718,299L720,300L722,300L722,300L725,301L728,301L730,302L732,302L734,302L735,303L738,303L740,304L742,304L745,305L745,305L748,306L750,306L752,307L754,308L755,308L758,309L760,310L761,310L762,311L765,312L767,312L768,313L770,314L772,315L774,315L775,316L778,317L780,318L780,318L782,318L785,319L787,320L788,320L790,321L792,322L795,322L795,322L798,323L800,324L802,324L805,325L807,325L808,325L810,325L812,326L815,326L818,327L820,327L822,328L822,328L825,328L828,329L830,329L832,330L833,330L835,330L838,331L840,332L842,332L844,332L845,333L848,333L850,334L852,334L855,335L857,335L858,335L860,336L862,336L865,337L866,338L868,338L870,340L870,340L872,342L873,342L874,345L875,346L876,348L878,350L878,350L880,352L880,353L881,355L882,357L883,358L885,360L885,361L886,362L888,364L888,365L890,367L891,368L892,369L893,370L895,371L896,372L898,374L899,375L900,376L902,378L902,378L904,380L905,380L907,382L908,383L910,385L910,385L912,387L913,388L915,390L916,390L918,392L919,392L920,393L922,395L922,395L925,396L927,398L928,398L930,399L931,400L932,401L935,402L935,402L938,404L940,405L940,405L942,407L944,408L945,408L948,409L948,410L950,411L952,412L953,412L955,414L957,415L958,415L960,417L960,418L960,420L960,421L958,420L957,420L955,419L953,418L952,417L950,416L949,415L948,414L945,413L944,412L942,411L940,410L940,410L938,409L936,408L935,407L932,406L931,405L930,404L928,403L927,402L925,401L923,400L922,400L920,398L919,398L918,397L915,395L915,395L912,393L912,392L910,391L909,390L908,388L906,388L905,386L904,385L902,384L901,382L900,382L898,380L898,379L895,378L895,377L893,375L892,375L890,373L890,372L888,370L887,370L885,368L885,367L883,365L882,364L881,362L880,361L879,360L878,358L878,357L876,355L875,353L874,352L873,350L872,350L871,348L870,346L869,345L868,344L866,342L865,342L863,340L860,340L860,340L858,339L855,339L852,338L850,338L848,338L848,337L845,337L842,336L840,336L838,335L836,335L835,335L832,334L830,334L828,333L825,333L825,332L822,332L820,331L818,331L815,330L813,330L812,330L810,330L808,329L805,329L802,329L800,328L798,328L798,327L795,327L792,326L790,325L790,325L788,324L785,324L782,323L782,322L780,322L778,321L775,320L775,320L772,319L770,318L769,318L768,317L765,316L763,315L762,315L760,314L758,313L757,312L755,312L752,311L751,310L750,310L748,309L745,308L743,308L742,307L740,307L738,306L735,306L733,305L732,305L730,304L728,304L725,303L722,303L722,302L720,302L718,302L715,302L712,301L710,301L708,301L705,300L703,300L702,300L700,300L698,299L695,299L692,299L690,298L688,298L685,298L683,298L682,297L680,297L678,297L675,296L672,296L670,296L668,295L667,295L665,294L662,293L660,292L660,292L658,291L655,290L655,290L652,288L651,288L650,286L648,285L648,284L646,282L645,282L643,280L642,279L641,278L640,276L640,275L640,272L640,271Z" fill="#60e63a" fill-rule="evenodd" stroke="#60e63a" stroke-width="0.6"/>
<path d="M641,268L642,270L642,270L644,272L645,274L646,275L648,277L648,278L650,280L650,280L652,282L653,282L655,284L657,285L658,285L660,287L662,288L662,288L665,289L668,290L669,290L670,290L672,291L675,291L678,292L680,292L682,292L685,292L685,293L688,293L690,293L692,293L695,294L698,294L700,294L702,295L705,295L705,295L708,295L710,296L712,296L715,296L718,297L720,297L722,297L723,298L725,298L728,298L730,299L732,299L735,300L735,300L738,301L740,301L742,302L745,302L747,302L748,303L750,303L752,304L755,305L755,305L758,306L760,307L762,307L763,308L765,308L768,309L770,310L770,310L772,311L775,312L777,312L778,313L780,314L782,314L784,315L785,315L788,316L790,317L792,317L793,318L795,318L798,319L800,320L802,320L802,320L805,320L808,321L810,321L812,321L815,322L818,322L819,322L820,323L822,323L825,324L828,324L830,325L830,325L832,326L835,326L838,327L840,327L841,328L842,328L845,328L848,329L850,329L852,330L854,330L855,330L858,331L860,331L862,332L865,332L866,332L868,333L870,335L870,335L872,337L874,338L875,339L876,340L878,342L878,342L880,345L880,346L881,348L882,349L883,350L885,352L885,353L886,355L888,357L888,358L890,360L890,360L892,362L892,363L894,365L895,366L897,368L898,368L900,370L900,370L902,372L902,373L905,375L905,375L908,377L908,378L910,379L911,380L912,382L914,382L915,384L916,385L918,386L919,388L920,388L923,390L923,390L925,392L927,392L928,393L930,394L931,395L932,396L935,397L935,398L938,399L940,400L940,400L942,402L944,402L945,403L948,405L948,405L950,406L952,407L953,408L955,409L957,410L958,410L960,412L960,412L960,415L960,417L958,415L957,415L955,414L953,412L952,412L950,411L948,410L948,409L945,408L944,408L942,407L940,405L940,405L938,404L935,402L935,402L932,401L931,400L930,399L928,398L927,398L925,396L922,395L922,395L920,393L919,392L918,392L916,390L915,390L913,388L912,387L910,385L910,385L908,383L907,382L905,380L904,380L902,378L902,378L900,376L899,375L898,374L896,372L895,371L893,370L892,369L891,368L890,367L888,365L888,364L886,362L885,361L885,360L883,358L882,357L881,355L880,353L880,352L878,350L878,350L876,348L875,346L874,345L873,342L872,342L870,340L870,340L868,338L866,338L865,337L862,336L860,336L858,335L857,335L855,335L852,334L850,334L848,333L845,333L844,332L842,332L840,332L838,331L835,330L833,330L832,330L830,329L828,329L825,328L822,328L822,328L820,327L818,327L815,326L812,326L810,325L808,325L807,325L805,325L802,324L800,324L798,323L795,322L795,322L792,322L790,321L788,320L787,320L785,319L782,318L780,318L780,318L778,317L775,316L774,315L772,315L770,314L768,313L767,312L765,312L762,311L761,310L760,310L758,309L755,308L754,308L752,307L750,306L748,306L745,305L745,305L742,304L740,304L738,303L735,303L734,302L732,302L730,302L728,301L725,301L722,300L722,300L720,300L718,299L715,299L712,299L710,298L708,298L705,298L704,298L702,297L700,297L698,297L695,296L692,296L690,296L688,295L685,295L684,295L682,295L680,294L678,294L675,294L672,294L670,293L668,292L668,292L665,292L662,291L661,290L660,290L658,288L656,288L655,287L652,285L652,285L650,283L649,282L648,281L647,280L645,278L645,278L643,275L642,275L641,272L640,271L640,270L640,268L640,265Z" fill="#8aea38" fill-rule="evenodd" stroke="#8aea38" stroke-width="0.6"/>
<path d="M640,258L641,260L641,262L642,265L643,265L644,268L645,269L645,270L647,272L648,273L649,275L650,276L651,278L652,279L654,280L655,281L658,282L658,282L660,284L662,285L662,285L665,286L668,287L669,288L670,288L672,289L675,289L678,289L680,289L682,290L685,290L686,290L688,290L690,291L692,291L695,291L698,292L700,292L702,292L705,292L706,292L708,293L710,293L712,294L715,294L718,294L720,294L722,295L724,295L725,295L728,296L730,296L732,297L735,297L736,298L738,298L740,298L742,299L745,299L748,300L749,300L750,300L752,301L755,302L757,302L758,303L760,304L762,304L764,305L765,305L768,306L770,307L772,308L772,308L775,309L778,309L779,310L780,310L782,311L785,312L788,312L788,312L790,313L792,314L795,314L797,315L798,315L800,316L802,316L805,316L808,317L810,317L812,317L813,317L815,318L818,318L820,319L822,319L825,320L826,320L828,320L830,321L832,322L835,322L837,322L838,323L840,323L842,324L845,324L848,325L848,325L850,325L852,326L855,326L858,327L860,327L861,328L862,328L865,328L868,329L870,330L870,330L872,332L873,332L875,334L877,335L878,336L879,338L880,339L881,340L882,342L883,342L884,345L885,346L886,348L888,350L888,350L889,352L890,353L891,355L892,357L893,357L895,360L895,360L897,362L898,363L900,365L900,365L902,367L903,368L905,369L906,370L908,372L908,372L910,374L911,375L912,376L914,378L915,379L917,380L918,381L919,382L920,383L922,385L922,385L925,387L926,388L928,389L930,390L930,390L932,391L934,392L935,393L938,394L939,395L940,396L942,397L943,398L945,399L947,400L948,400L950,401L952,402L952,403L955,404L956,405L958,406L960,407L960,408L960,410L960,412L958,410L957,410L955,409L953,408L952,407L950,406L948,405L948,405L945,403L944,402L942,402L940,400L940,400L938,399L935,398L935,397L932,396L931,395L930,394L928,393L927,392L925,392L923,390L922,390L920,388L919,388L918,386L916,385L915,384L914,382L912,382L911,380L910,379L908,378L908,377L905,375L905,375L902,373L902,373L900,370L900,370L898,368L897,368L895,366L894,365L892,363L892,362L890,360L890,360L888,358L888,357L886,355L885,353L885,352L883,350L882,349L881,348L880,346L880,345L878,342L878,342L876,340L875,339L874,338L872,337L870,335L870,335L868,333L866,332L865,332L862,332L860,331L858,331L855,330L854,330L852,330L850,329L848,329L845,328L842,328L841,328L840,327L838,327L835,326L832,326L830,325L830,325L828,324L825,324L822,323L820,323L819,322L818,322L815,322L812,321L810,321L808,321L805,320L802,320L802,320L800,320L798,319L795,318L793,318L792,317L790,317L788,316L785,315L784,315L782,314L780,314L778,313L777,312L775,312L772,311L770,310L770,310L768,309L765,308L763,308L762,307L760,307L758,306L755,305L755,305L752,304L750,303L748,303L747,302L745,302L742,302L740,301L737,301L735,300L735,300L732,299L730,299L728,298L725,298L723,298L722,297L720,297L718,297L715,296L712,296L710,296L708,295L705,295L705,295L702,295L700,294L698,294L695,294L692,293L690,293L688,293L685,293L685,292L682,292L680,292L678,292L675,291L672,291L670,290L669,290L668,290L665,289L662,288L662,288L660,287L657,285L657,285L655,284L653,282L652,282L650,280L650,280L648,278L648,277L646,275L645,274L644,272L642,270L642,270L641,268L640,265L640,265L640,262L640,260L640,258L640,257Z" fill="#b4ee3c" fill-rule="evenodd" stroke="#b4ee3c" stroke-width="0.6"/>
<path d="M641,245L641,248L641,250L641,252L641,255L642,258L642,260L643,260L643,262L645,265L645,266L646,268L647,270L648,270L649,272L650,273L651,275L652,276L654,278L655,278L657,280L658,280L660,282L661,282L662,283L665,284L667,285L668,285L670,286L672,287L675,287L678,287L679,288L680,288L682,288L685,288L688,289L690,289L692,289L695,290L698,290L699,290L700,290L702,290L705,291L708,291L710,291L712,292L715,292L718,292L719,292L720,293L722,293L725,293L728,294L730,294L732,295L734,295L735,295L738,296L740,296L742,296L745,297L748,297L749,298L750,298L752,298L755,299L758,300L758,300L760,301L762,301L765,302L766,302L768,303L770,304L772,305L774,305L775,305L778,306L780,307L782,308L782,308L785,308L788,309L790,310L792,310L792,310L795,311L798,311L800,312L802,312L803,312L805,313L808,313L810,313L812,314L815,314L818,315L820,315L820,315L822,316L825,316L827,317L830,317L831,318L832,318L835,318L838,319L840,320L842,320L842,320L845,321L848,321L850,322L852,322L854,322L855,323L858,323L860,324L862,324L865,325L867,325L868,325L870,326L872,327L873,328L875,329L876,330L878,331L879,332L880,333L882,335L882,336L884,338L885,340L885,340L887,342L888,343L889,345L890,347L890,348L892,350L892,351L894,352L895,354L896,355L898,357L898,358L900,360L900,360L902,362L903,362L905,365L905,365L908,367L908,367L910,369L911,370L912,371L914,372L915,374L916,375L918,376L919,378L920,378L922,380L922,380L925,382L925,382L928,384L929,385L930,386L932,387L933,388L935,389L937,390L938,390L940,392L942,392L942,393L945,394L946,395L948,396L950,397L950,398L952,399L955,400L955,400L958,402L959,402L960,403L960,405L960,407L958,406L956,405L955,404L952,403L952,402L950,401L947,400L947,400L945,399L943,398L942,397L940,396L939,395L938,394L935,393L934,392L932,391L930,390L930,390L928,389L926,388L925,387L922,385L922,385L920,383L919,382L917,381L917,380L915,379L914,378L912,376L911,375L910,374L908,372L908,372L906,370L905,369L903,368L902,367L900,365L900,365L898,363L897,362L895,360L895,360L893,358L892,357L891,355L890,353L889,352L888,350L888,350L886,348L885,346L884,345L883,342L882,342L881,340L880,339L879,338L878,336L877,335L875,334L873,332L872,332L870,330L870,330L868,329L865,328L862,328L861,328L860,327L858,327L855,326L852,326L850,325L848,325L848,325L845,324L842,324L840,323L838,323L837,322L835,322L832,322L830,321L828,320L826,320L825,320L822,319L820,319L818,318L815,318L813,318L812,317L810,317L808,317L805,316L802,316L800,316L798,315L797,315L795,314L792,314L790,313L788,312L788,312L785,312L782,311L780,310L779,310L778,309L775,309L772,308L772,308L770,307L768,306L765,305L764,305L762,304L760,304L757,303L757,302L755,302L752,301L750,300L749,300L748,300L745,299L742,299L740,298L738,298L736,298L735,297L732,297L730,296L728,296L725,295L724,295L722,295L720,294L718,294L715,294L712,294L710,293L708,293L706,292L705,292L702,292L700,292L698,292L695,291L692,291L690,291L688,290L686,290L685,290L682,290L680,289L678,289L675,289L672,289L670,288L669,288L668,287L665,286L662,285L662,285L660,284L658,282L658,282L655,281L654,280L652,279L651,278L650,276L649,275L648,273L647,272L645,270L645,269L644,268L643,265L642,265L641,262L641,260L640,258L640,257L640,255L640,252L640,250L640,248L640,245L640,245Z" fill="#d8f040" fill-rule="evenodd" stroke="#d8f040" stroke-width="0.6"/>
<path d="M642,245L642,248L642,250L642,251L643,252L643,255L644,258L644,260L645,262L645,262L646,265L648,267L648,268L649,270L650,271L651,272L652,274L654,275L655,276L657,278L658,278L660,280L660,280L662,281L665,282L665,283L668,284L670,284L672,285L673,285L675,285L678,286L680,286L682,286L685,287L688,287L690,287L692,288L692,288L695,288L698,288L700,288L702,289L705,289L708,289L710,290L712,290L712,290L715,290L718,291L720,291L722,291L725,292L728,292L729,292L730,293L732,293L735,293L738,294L740,294L742,295L745,295L745,295L748,295L750,296L752,296L755,297L756,298L758,298L760,299L762,299L765,300L765,300L768,301L770,301L772,302L774,302L775,303L778,304L780,304L782,305L783,305L785,306L788,306L790,307L792,307L795,307L795,308L798,308L800,309L802,309L805,309L808,310L810,310L811,310L812,310L815,311L818,311L820,312L822,312L825,312L825,312L828,313L830,314L832,314L835,315L836,315L838,315L840,316L842,317L845,317L847,317L848,318L850,318L852,319L855,319L858,320L860,320L860,320L862,321L865,321L868,322L870,322L870,322L872,324L875,325L875,325L878,327L878,328L880,329L882,330L882,331L884,332L885,334L886,335L887,337L888,338L889,340L890,341L891,342L892,345L893,345L894,348L895,348L896,350L898,352L898,352L900,355L900,355L902,357L903,357L905,360L905,360L908,362L908,362L910,365L911,365L912,367L913,368L915,369L916,370L918,371L919,372L920,374L922,375L922,376L924,378L925,378L928,380L928,380L930,382L931,382L932,383L935,385L936,385L938,386L940,387L940,388L942,389L944,390L945,390L948,392L948,392L950,393L952,395L953,395L955,396L958,397L958,398L960,399L960,400L960,402L960,403L959,402L958,402L955,400L955,400L952,399L950,398L950,397L948,396L946,395L945,394L942,393L942,392L940,392L938,390L937,390L935,389L933,388L932,387L930,386L929,385L928,384L925,382L925,382L922,380L922,380L920,378L919,378L918,376L916,375L915,374L914,372L912,371L911,370L910,369L908,368L908,367L905,365L905,365L903,362L902,362L900,360L900,360L898,358L898,357L896,355L895,354L894,352L892,351L892,350L890,348L890,347L889,345L887,343L887,342L885,340L885,340L884,338L882,336L882,335L880,333L879,332L878,331L876,330L875,329L873,328L872,327L870,326L868,325L867,325L865,325L862,324L860,324L858,323L855,323L854,322L852,322L850,322L848,321L845,321L842,320L842,320L840,320L838,319L835,318L832,318L831,318L830,317L828,317L825,316L822,316L820,315L820,315L818,315L815,314L812,314L810,313L808,313L805,313L803,312L802,312L800,312L798,311L795,311L792,310L792,310L790,310L788,309L785,308L782,308L782,308L780,307L778,306L775,305L774,305L772,305L770,304L768,303L766,302L765,302L762,301L760,301L758,300L758,300L755,299L752,298L750,298L749,298L748,297L745,297L742,296L740,296L738,296L735,295L734,295L732,295L730,294L728,294L725,293L722,293L720,293L719,292L718,292L715,292L712,292L710,291L708,291L705,291L702,290L700,290L699,290L698,290L695,290L692,289L690,289L688,289L685,288L682,288L680,288L679,288L678,287L675,287L672,287L670,286L668,285L667,285L665,284L662,283L661,282L660,282L658,280L657,280L655,278L654,278L652,276L651,275L650,273L649,272L648,270L647,270L646,268L645,266L645,265L643,262L643,260L642,260L642,258L641,255L641,252L641,250L641,248L641,245L640,245L640,245Z" fill="#f4ec44" fill-rule="evenodd" stroke="#f4ec44" stroke-width="0.6"/>
<path d="M642,245L645,245L646,245L646,248L646,250L646,252L646,255L647,258L648,259L648,260L649,262L650,265L650,265L652,268L652,269L654,270L655,272L656,272L658,274L659,275L660,276L662,278L662,278L665,279L667,280L668,280L670,281L672,282L675,282L678,282L679,282L680,283L682,283L685,283L688,284L690,284L692,284L695,285L697,285L699,285L700,285L702,285L705,286L708,286L710,286L712,287L715,287L718,287L719,288L720,288L722,288L725,288L728,289L730,289L732,290L735,290L735,290L738,290L740,291L742,291L745,292L747,292L750,292L751,292L752,293L755,293L758,294L760,295L761,295L762,296L765,296L768,297L770,298L770,298L772,298L775,299L777,300L779,300L780,300L782,301L785,302L788,302L790,302L790,303L792,303L795,303L798,304L800,304L802,305L804,305L805,305L808,305L810,306L812,306L815,307L818,307L820,307L821,308L822,308L825,308L828,309L830,310L832,310L832,310L835,311L838,311L840,312L842,312L843,312L845,313L848,313L850,314L852,314L855,315L856,315L858,315L860,316L862,316L865,317L868,317L868,318L870,318L872,319L875,320L875,320L878,322L879,322L880,323L882,325L882,325L885,327L885,328L888,330L888,330L889,332L890,333L891,335L892,337L893,338L894,340L895,341L896,342L898,345L898,345L900,348L900,348L901,350L902,352L903,352L905,354L906,355L908,357L908,358L910,359L911,360L912,361L914,362L915,363L917,365L918,366L920,368L920,368L922,370L922,370L925,372L925,372L927,375L928,375L930,377L931,378L932,378L935,380L935,380L938,381L940,382L940,383L942,384L944,385L945,386L948,387L948,388L950,389L952,390L953,390L955,391L957,392L958,393L960,394L960,395L960,398L960,399L958,398L958,397L955,396L953,395L952,395L950,393L948,392L948,392L945,390L944,390L942,389L940,388L940,387L938,386L936,385L935,385L932,383L931,382L930,382L928,380L928,380L925,378L924,378L922,376L922,375L920,374L919,372L918,371L916,370L915,369L913,368L912,367L911,365L910,365L908,362L908,362L905,360L905,360L903,358L902,357L900,355L900,355L898,352L898,352L896,350L895,348L894,348L893,345L892,345L891,342L890,341L889,340L888,338L888,337L886,335L885,334L884,332L882,331L882,330L880,329L878,328L878,327L875,325L875,325L872,324L870,322L870,322L868,322L865,321L862,321L860,320L860,320L858,320L855,319L852,319L850,318L848,318L848,317L845,317L842,317L840,316L838,315L836,315L835,315L832,314L830,314L828,313L825,312L825,312L822,312L820,312L818,311L815,311L812,310L811,310L810,310L808,310L805,309L802,309L800,309L797,308L795,308L795,307L792,307L790,307L788,306L785,306L783,305L782,305L780,304L778,304L775,303L774,302L772,302L770,301L767,301L765,300L765,300L762,299L760,299L758,298L756,298L755,297L752,296L750,296L748,295L745,295L745,295L742,295L740,294L738,294L735,293L732,293L730,293L729,292L728,292L725,292L722,291L720,291L718,291L715,290L712,290L712,290L710,290L708,289L705,289L702,289L700,288L698,288L695,288L692,288L692,288L690,287L688,287L685,287L682,286L680,286L678,286L675,285L673,285L672,285L670,284L668,284L665,283L665,282L662,281L660,280L660,280L658,278L657,278L655,276L654,275L652,274L651,272L650,271L649,270L648,268L648,267L646,265L645,262L645,262L644,260L644,258L643,255L643,252L642,251L642,250L642,247L642,245L640,245L640,245Z" fill="#fbc531" fill-rule="evenodd" stroke="#fbc531" stroke-width="0.6"/>
<path d="M642,244L645,245L648,245L649,245L649,248L649,250L649,252L650,255L650,256L650,258L651,260L652,262L653,262L654,265L655,266L656,268L658,269L658,270L660,272L661,272L662,274L665,275L665,275L668,276L670,277L670,278L672,278L675,279L678,279L680,279L682,280L685,280L685,280L688,280L690,281L692,281L695,281L698,282L700,282L702,282L705,282L705,282L708,283L710,283L712,283L715,284L718,284L720,284L722,285L725,285L725,285L728,285L730,286L732,286L735,287L738,287L740,287L742,288L742,288L745,288L748,288L750,289L752,289L755,290L756,290L758,290L760,291L762,292L765,292L765,292L768,293L770,294L772,294L775,295L775,295L778,296L780,296L782,297L784,298L785,298L788,298L790,299L792,299L795,299L798,300L798,300L800,300L802,301L805,301L808,301L810,302L812,302L815,302L815,302L818,303L820,303L822,304L825,304L828,305L828,305L830,305L832,306L835,307L838,307L839,308L840,308L842,308L845,309L848,309L850,310L851,310L852,310L855,311L858,311L860,312L862,312L864,312L865,313L868,313L870,314L872,314L874,315L875,316L878,317L878,318L880,318L882,320L882,320L885,322L885,322L888,324L888,325L890,327L891,328L892,330L892,330L894,332L895,334L896,335L898,337L898,338L899,340L900,341L901,342L902,345L903,345L904,348L905,348L906,350L908,351L909,352L910,354L912,355L912,356L914,358L915,358L917,360L918,360L920,362L920,363L922,365L923,365L925,367L925,368L928,369L928,370L930,372L931,372L932,374L935,375L935,375L938,377L939,378L940,378L942,380L943,380L945,381L948,382L948,382L950,384L952,385L952,385L955,387L956,388L958,388L960,390L960,390L960,392L960,394L958,393L957,392L955,391L953,390L952,390L950,389L948,388L948,387L945,386L944,385L942,384L940,383L940,382L938,381L935,380L935,380L932,378L931,378L930,377L928,375L928,375L925,372L925,372L922,370L922,370L920,368L920,368L918,366L917,365L915,363L914,362L912,361L911,360L910,359L908,358L908,357L906,355L905,354L903,352L902,352L901,350L900,348L900,348L898,345L898,345L896,342L895,341L894,340L893,338L892,337L891,335L890,333L889,332L888,330L888,330L885,328L885,327L882,325L882,325L880,323L879,322L878,322L875,320L875,320L872,319L870,318L868,318L868,317L865,317L862,316L860,316L858,315L856,315L855,315L852,314L850,314L848,313L845,313L843,312L842,312L840,312L838,311L835,311L832,310L832,310L830,310L828,309L825,308L822,308L821,308L820,307L818,307L815,307L812,306L810,306L808,305L805,305L804,305L802,305L800,304L798,304L795,303L793,303L790,303L790,302L788,302L785,302L782,301L780,300L779,300L778,300L775,299L772,298L770,298L770,298L768,297L765,296L762,296L761,295L760,295L758,294L755,293L752,293L751,292L750,292L748,292L745,292L742,291L740,291L738,290L735,290L735,290L732,290L730,289L728,289L725,288L722,288L720,288L719,288L718,287L715,287L712,287L710,286L708,286L705,286L702,285L700,285L699,285L698,285L695,285L692,284L690,284L688,284L685,283L682,283L680,283L679,282L678,282L675,282L672,282L670,281L668,280L667,280L665,279L662,278L662,278L660,276L659,275L658,274L656,272L655,272L654,270L652,269L652,268L650,265L650,265L649,262L648,260L648,259L647,258L646,255L646,252L646,250L646,248L646,245L645,245L642,245L640,245L640,244Z" fill="#fa9a29" fill-rule="evenodd" stroke="#fa9a29" stroke-width="0.6"/>
<path d="M642,244L645,244L648,245L650,245L652,245L652,248L652,250L652,252L653,252L653,255L654,258L655,260L655,260L656,262L658,264L658,265L660,267L660,268L662,270L663,270L665,271L667,272L668,273L670,274L672,275L674,275L675,275L678,276L680,276L682,276L685,277L688,277L690,277L692,278L692,278L695,278L698,278L700,278L702,279L705,279L708,279L710,280L712,280L712,280L715,280L718,281L720,281L722,281L725,282L728,282L730,282L731,282L732,283L735,283L738,283L740,284L742,284L745,284L748,285L749,285L750,285L752,286L755,286L758,287L760,287L760,288L762,288L765,289L768,289L770,290L770,290L772,291L775,291L778,292L780,292L780,293L782,293L785,294L788,294L790,295L792,295L792,295L795,295L798,296L800,296L802,297L805,297L808,297L808,298L810,298L812,298L815,298L818,299L820,299L822,300L824,300L825,300L828,301L830,301L832,302L835,302L835,302L838,303L840,304L842,304L845,305L847,305L848,305L850,306L852,306L855,307L858,307L859,308L860,308L862,308L865,309L868,309L870,310L872,310L872,310L875,311L877,312L878,313L880,314L882,315L882,315L885,317L885,318L888,319L889,320L890,321L891,322L892,324L894,325L895,327L896,328L897,330L898,330L899,332L900,334L901,335L902,338L902,338L904,340L905,341L906,342L908,345L908,345L910,348L910,348L912,350L912,350L915,352L915,353L918,355L918,355L920,357L920,358L922,359L923,360L925,362L926,362L928,364L929,365L930,366L931,368L932,368L934,370L935,370L938,372L938,372L940,374L942,375L943,375L945,376L947,378L948,378L950,379L951,380L952,381L955,382L956,382L958,384L960,385L960,385L960,388L960,390L958,388L956,388L955,387L952,385L952,385L950,384L948,382L948,382L945,381L943,380L942,380L940,378L939,378L938,377L935,375L935,375L932,374L931,372L930,372L928,370L928,369L925,368L925,367L923,365L922,365L920,363L920,362L918,360L917,360L915,358L914,358L912,356L912,355L910,354L909,352L908,351L906,350L905,348L904,348L903,345L902,345L901,342L900,341L899,340L898,338L898,337L896,335L895,334L894,332L892,330L892,330L891,328L890,327L888,325L888,324L885,322L885,322L882,320L882,320L880,318L878,318L878,317L875,316L874,315L872,314L870,314L868,313L865,313L864,312L862,312L860,312L858,311L855,311L852,310L851,310L850,310L848,309L845,309L842,308L840,308L839,308L838,307L835,307L832,306L830,305L828,305L828,305L825,304L822,304L820,303L818,303L815,302L815,302L812,302L810,302L808,301L805,301L802,301L800,300L798,300L798,300L795,299L792,299L790,299L788,298L785,298L784,298L782,297L780,296L778,296L775,295L775,295L772,294L770,294L768,293L765,292L765,292L762,292L760,291L758,290L756,290L755,290L752,289L750,289L748,288L745,288L742,288L742,288L740,287L738,287L735,287L732,286L730,286L728,285L725,285L725,285L722,285L720,284L718,284L715,284L712,283L710,283L708,283L705,282L705,282L702,282L700,282L698,282L695,281L692,281L690,281L688,280L685,280L685,280L682,280L680,279L678,279L675,279L672,278L670,278L670,277L668,276L665,275L665,275L662,274L661,272L660,272L658,270L658,269L656,268L655,266L654,265L653,262L652,262L651,260L650,258L650,256L650,255L649,252L649,250L649,248L649,245L648,245L645,245L642,244L640,244L640,244Z" fill="#f46d20" fill-rule="evenodd" stroke="#f46d20" stroke-width="0.6"/>
<path d="M642,244L645,244L648,244L650,244L652,245L655,245L655,245L656,248L656,250L657,252L657,255L658,256L658,258L659,260L660,261L661,262L662,264L663,265L665,266L666,268L668,268L670,270L671,270L672,271L675,271L678,272L680,272L682,272L684,272L685,273L688,273L690,273L692,274L695,274L698,274L700,274L702,275L704,275L705,275L708,275L710,276L712,276L715,276L718,277L720,277L722,277L724,278L725,278L728,278L730,278L732,279L735,279L738,279L740,280L743,280L743,280L745,280L748,281L750,281L752,281L755,282L758,282L758,282L760,283L762,284L765,284L767,285L768,285L770,285L772,286L775,287L778,287L778,288L780,288L782,289L785,289L788,290L790,290L790,290L792,290L795,291L798,291L800,292L802,292L805,292L807,292L808,293L810,293L812,293L815,294L818,294L820,294L822,295L823,295L825,295L828,296L830,296L832,297L835,298L835,298L838,298L840,299L842,299L845,300L846,300L848,300L850,301L852,301L855,302L858,302L858,302L860,303L862,303L865,304L867,304L870,305L871,305L872,305L875,306L878,307L878,308L880,308L882,310L883,310L885,311L887,312L888,313L890,315L890,315L892,317L893,318L895,319L896,320L898,322L898,322L900,325L900,326L901,328L902,329L903,330L905,332L905,333L906,335L908,337L908,338L910,340L910,340L912,342L912,344L914,345L915,346L916,348L918,349L919,350L920,351L922,352L922,353L925,355L925,355L927,358L928,358L930,360L930,360L932,362L933,363L935,364L936,365L938,366L939,368L940,368L943,370L943,370L945,371L948,372L948,373L950,374L952,375L952,375L955,377L956,378L958,378L960,380L960,380L960,382L960,385L960,385L960,385L958,384L956,382L955,382L952,381L951,380L950,379L948,378L947,378L945,376L943,375L942,375L940,374L938,372L938,372L935,370L934,370L932,368L931,368L930,366L929,365L928,364L926,362L925,362L923,360L922,359L920,358L920,357L918,355L918,355L915,353L915,352L912,350L912,350L910,348L910,348L908,345L908,345L906,342L905,341L904,340L902,338L902,338L901,335L900,334L899,332L898,330L897,330L896,328L895,327L894,325L892,324L891,322L890,321L889,320L888,319L885,318L885,317L882,315L882,315L880,314L878,313L877,312L875,311L872,310L872,310L870,310L868,309L865,309L862,308L860,308L859,308L858,307L855,307L852,306L850,306L848,305L847,305L845,305L842,304L840,304L838,303L835,302L835,302L832,302L830,301L828,301L825,300L824,300L822,300L820,299L818,299L815,298L812,298L810,298L808,298L808,297L805,297L802,297L800,296L798,296L795,295L792,295L792,295L790,295L788,294L785,294L782,293L780,293L780,292L778,292L775,291L772,291L770,290L770,290L768,289L765,289L762,288L760,288L760,287L758,287L755,286L752,286L750,285L749,285L748,285L745,284L742,284L740,284L738,283L735,283L732,283L731,282L730,282L728,282L725,282L722,281L720,281L717,281L715,280L712,280L712,280L710,280L708,279L705,279L702,279L700,278L698,278L695,278L692,278L692,278L690,277L688,277L685,277L682,276L680,276L678,276L675,275L674,275L672,275L670,274L668,273L667,272L665,271L663,270L662,270L660,268L660,267L658,265L658,264L656,262L655,260L655,260L654,258L653,255L653,252L652,252L652,250L652,248L652,245L650,245L648,245L645,244L642,244L640,244L640,244Z" fill="#f04a1c" fill-rule="evenodd" stroke="#f04a1c" stroke-width="0.6"/>
<path d="M642,244L645,244L648,244L650,244L652,244L655,244L656,245L658,247L660,247L661,248L661,250L662,252L662,255L662,255L664,258L665,259L665,260L668,262L668,262L670,264L672,265L672,265L675,266L678,267L680,267L682,267L684,268L685,268L688,268L690,268L692,269L695,269L698,269L700,270L702,270L704,270L705,270L708,270L710,271L712,271L715,271L718,272L720,272L722,272L724,272L725,273L728,273L730,273L732,274L735,274L738,274L740,275L742,275L744,275L745,275L748,275L750,276L752,276L755,276L758,277L759,278L760,278L762,278L765,279L767,279L770,280L770,280L772,281L775,281L778,282L780,282L780,282L782,283L785,284L788,284L790,285L792,285L793,285L795,285L798,286L800,286L802,286L805,287L808,287L810,287L810,288L812,288L815,288L818,289L820,289L822,289L825,290L826,290L828,290L830,291L832,291L835,292L837,292L838,293L840,293L842,294L845,294L848,295L848,295L850,295L852,296L855,296L858,297L860,297L861,298L862,298L865,298L868,299L870,299L872,300L873,300L875,300L878,301L880,302L880,302L882,304L885,305L885,305L888,306L889,308L890,308L892,310L892,310L895,312L896,312L898,314L898,315L900,317L901,318L902,320L903,320L904,322L905,323L906,325L908,327L908,327L910,330L910,331L911,332L913,334L913,335L915,338L915,338L916,340L918,341L919,342L920,343L922,345L922,346L924,348L925,348L927,350L928,350L930,352L930,353L932,355L933,355L935,357L935,357L938,359L938,360L940,362L941,362L942,363L945,365L945,365L948,366L950,368L950,368L952,369L954,370L955,370L958,372L958,372L960,373L960,375L960,378L960,380L958,378L956,378L955,377L952,375L952,375L950,374L948,372L948,372L945,371L943,370L942,370L940,368L939,368L938,366L936,365L935,364L933,362L932,362L930,360L930,360L928,358L927,358L925,355L925,355L923,353L922,352L920,351L919,350L918,349L916,348L915,346L914,345L912,344L912,342L910,340L910,340L908,338L908,337L906,335L905,333L905,332L903,330L902,329L901,328L900,326L900,325L898,322L898,322L896,320L895,319L893,318L892,317L890,315L890,315L888,313L887,312L885,311L883,310L882,310L880,308L878,308L878,307L875,306L873,305L871,305L870,305L868,304L865,304L862,303L860,303L858,302L858,302L855,302L852,301L850,301L848,300L846,300L845,300L842,299L840,299L838,298L835,298L835,298L832,297L830,296L828,296L825,295L823,295L822,295L820,294L818,294L815,294L812,293L810,293L807,293L807,292L805,292L802,292L800,292L798,291L795,291L792,290L790,290L790,290L788,290L785,289L782,289L780,288L778,288L778,287L775,287L772,286L770,285L768,285L768,285L765,284L762,284L760,283L758,282L758,282L755,282L752,281L750,281L748,281L745,280L743,280L742,280L740,280L738,279L735,279L732,279L730,278L727,278L725,278L724,278L722,277L720,277L718,277L715,276L712,276L710,276L708,275L705,275L704,275L702,275L700,274L698,274L695,274L692,274L690,273L688,273L685,273L684,272L682,272L680,272L678,272L675,271L672,271L671,270L670,270L668,268L666,268L665,266L663,265L662,264L661,262L660,261L659,260L658,258L658,256L657,255L657,252L656,250L656,248L655,245L655,245L652,245L650,244L648,244L645,244L642,244L640,244L640,244Z" fill="#ec2a20" fill-rule="evenodd" stroke="#ec2a20" stroke-width="0.6"/>
<path d="M642,243L645,243L648,244L650,244L652,244L655,244L656,245L658,247L660,247L662,247L665,247L667,248L667,250L667,252L668,253L669,255L670,257L671,258L672,259L674,260L675,260L678,261L680,262L682,262L685,262L687,262L688,262L690,263L692,263L695,263L698,264L700,264L702,264L705,265L708,265L708,265L710,265L712,266L715,266L718,266L720,267L722,267L725,267L727,268L728,268L730,268L732,268L735,268L738,269L740,269L742,269L745,270L747,270L748,270L750,270L752,271L755,271L758,271L760,272L762,272L762,273L765,273L768,274L770,275L772,275L772,275L775,276L778,276L780,277L782,278L782,278L785,278L788,279L790,279L792,280L795,280L796,280L798,280L800,281L802,281L805,281L808,282L810,282L813,282L814,282L815,283L818,283L820,283L822,284L825,284L827,285L828,285L830,285L832,286L835,286L838,287L840,288L840,288L842,288L845,289L848,289L850,290L851,290L852,290L855,291L858,291L860,292L862,292L863,292L865,293L868,293L870,294L872,294L875,295L876,295L878,295L880,296L882,298L882,298L885,299L887,300L888,300L890,301L891,302L892,303L895,305L895,305L897,307L898,308L900,309L901,310L902,312L903,312L905,314L906,315L908,317L908,318L909,320L910,321L911,322L912,325L913,325L914,328L915,328L916,330L918,332L918,332L920,335L920,336L922,338L922,338L924,340L925,341L927,342L928,343L930,345L930,345L932,347L933,348L935,350L935,350L938,352L938,352L940,354L941,355L942,357L944,358L945,358L948,360L948,360L950,361L952,362L952,363L955,364L956,365L958,366L960,367L960,368L960,370L960,372L960,373L958,372L958,372L955,370L954,370L952,369L950,368L950,368L948,366L945,365L945,365L942,363L941,362L940,362L938,360L938,359L935,358L935,357L933,355L932,355L930,353L930,352L928,350L927,350L925,348L924,348L922,346L922,345L920,343L919,342L918,341L916,340L915,338L915,338L913,335L912,334L911,332L910,331L910,330L908,328L908,327L906,325L905,323L904,322L903,320L902,320L901,318L900,317L898,315L898,314L896,312L895,312L893,310L892,310L890,308L889,308L888,306L885,305L885,305L882,304L880,302L880,302L878,301L875,300L873,300L872,300L870,299L868,299L865,298L862,298L861,298L860,297L858,297L855,296L852,296L850,295L848,295L848,295L845,294L842,294L840,293L838,293L837,292L835,292L832,291L830,291L828,290L826,290L825,290L822,289L820,289L818,289L815,288L812,288L810,288L810,287L808,287L805,287L802,286L800,286L798,286L795,285L793,285L792,285L790,285L788,284L785,284L782,283L780,282L780,282L778,282L775,281L772,281L770,280L770,280L768,279L765,279L762,278L760,278L759,278L758,277L755,276L752,276L750,276L747,275L745,275L744,275L742,275L740,275L738,274L735,274L732,274L730,273L728,273L725,273L724,272L722,272L720,272L718,272L715,271L712,271L710,271L708,270L705,270L704,270L702,270L700,270L698,269L695,269L692,269L690,268L688,268L685,268L684,268L682,267L680,267L678,267L675,266L672,265L672,265L670,264L668,262L668,262L665,260L665,259L664,258L662,255L662,255L662,253L661,250L661,248L660,247L658,247L656,245L655,244L652,244L650,244L648,244L645,244L642,244L640,244L640,243Z" fill="#e91a30" fill-rule="evenodd" stroke="#e91a30" stroke-width="0.6"/>
<path d="M642,243L645,243L648,243L650,243L652,243L655,243L657,245L658,246L660,246L662,246L665,246L668,247L670,247L672,248L672,250L672,250L674,253L675,254L677,255L678,255L680,256L682,256L685,256L688,257L690,257L692,258L692,258L695,258L698,258L700,258L702,259L705,259L708,259L710,260L712,260L712,260L715,260L718,261L720,261L722,261L725,261L728,262L730,262L731,262L732,263L735,263L738,263L740,263L742,264L745,264L748,264L750,265L751,265L752,265L755,265L758,266L760,266L762,267L764,268L765,268L768,268L770,269L772,269L775,270L775,270L778,271L780,271L782,272L785,272L785,273L788,273L790,273L792,274L795,274L798,275L800,275L800,275L802,275L805,276L808,276L810,276L812,277L815,277L817,278L818,278L820,278L822,278L825,278L828,279L830,280L831,280L832,280L835,281L838,281L840,282L842,282L842,283L845,283L848,283L850,284L852,285L854,285L855,285L858,286L860,286L862,287L865,287L866,288L868,288L870,288L872,289L875,289L878,290L879,290L880,290L882,291L885,292L885,293L888,294L890,295L890,295L892,296L894,298L895,298L897,300L898,300L900,302L901,302L902,304L904,305L905,306L906,308L908,309L909,310L910,311L911,312L912,315L913,315L914,318L915,318L916,320L918,322L918,322L919,325L920,326L921,328L922,330L923,330L925,332L925,333L927,335L928,335L930,338L930,338L932,340L932,340L935,342L935,342L938,345L938,345L940,347L941,348L942,349L944,350L945,351L946,352L948,353L950,355L950,355L952,356L954,358L955,358L958,359L959,360L960,361L960,362L960,365L960,367L958,366L956,365L955,364L952,363L952,362L950,361L948,360L948,360L945,358L944,358L942,357L941,355L940,354L938,352L938,352L935,350L935,350L933,348L932,347L930,345L930,345L928,343L927,342L925,341L924,340L922,338L922,338L920,336L920,335L918,332L918,332L916,330L915,328L914,328L913,325L912,325L911,322L910,321L909,320L908,318L908,317L906,315L905,314L903,312L902,312L901,310L900,309L898,308L898,307L895,305L895,305L892,303L891,302L890,301L887,300L887,300L885,299L883,298L882,298L880,296L878,295L876,295L875,295L872,294L870,294L868,293L865,293L863,292L862,292L860,292L858,291L855,291L852,290L851,290L850,290L848,289L845,289L842,288L840,288L840,288L838,287L835,286L832,286L830,285L828,285L828,285L825,284L822,284L820,283L818,283L815,283L814,282L812,282L810,282L808,282L805,281L802,281L800,281L797,280L796,280L795,280L792,280L790,279L788,279L785,278L782,278L782,278L780,277L778,276L775,276L772,275L772,275L770,275L768,274L765,273L762,273L762,272L760,272L758,271L755,271L753,271L750,270L748,270L747,270L745,270L742,269L740,269L738,269L735,268L732,268L730,268L728,268L727,268L725,267L722,267L720,267L718,266L715,266L712,266L710,265L708,265L708,265L705,265L702,264L700,264L698,264L695,263L692,263L690,263L688,262L688,262L685,262L682,262L680,262L678,261L675,260L674,260L672,259L671,258L670,257L669,255L668,253L667,252L667,250L667,248L665,247L662,247L660,247L658,247L656,245L655,244L652,244L650,244L648,244L645,243L642,243L640,243L640,243Z" fill="#e81460" fill-rule="evenodd" stroke="#e81460" stroke-width="0.6"/>
<path d="M642,243L645,243L648,243L650,243L652,243L655,243L657,245L658,245L660,245L662,245L665,246L668,246L670,246L672,246L675,246L677,248L678,248L680,248L682,248L685,248L688,248L690,249L692,249L695,250L697,250L698,250L700,250L702,250L705,251L708,251L710,251L712,252L715,252L717,252L718,253L720,253L722,253L725,253L728,253L730,254L732,254L735,255L736,255L738,255L740,255L742,255L745,256L748,256L750,256L752,257L755,257L756,258L758,258L760,258L762,258L765,259L767,260L768,260L770,260L772,261L775,261L778,262L778,262L780,263L782,263L785,264L788,265L788,265L790,265L792,265L795,266L798,266L800,266L802,267L804,268L805,268L808,268L810,268L812,268L815,268L818,269L820,270L822,270L822,270L825,270L828,270L830,271L832,272L835,272L835,273L838,273L840,273L842,274L845,275L846,275L848,275L850,275L852,276L855,277L857,278L858,278L860,278L862,278L865,278L868,279L870,280L870,280L872,280L875,280L878,281L880,282L882,282L882,283L885,283L887,285L888,285L890,286L892,288L892,288L895,288L897,290L898,290L900,292L901,292L902,293L904,295L905,295L907,298L908,298L910,300L910,300L912,302L912,303L915,305L915,305L917,308L918,308L919,310L920,311L921,312L922,315L922,315L924,318L925,318L926,320L927,322L928,323L930,325L930,326L931,328L932,329L934,330L935,331L937,332L938,333L939,335L940,336L942,338L942,338L945,340L945,340L947,342L948,343L950,345L950,345L952,347L953,348L955,348L957,350L958,350L960,351L960,352L960,355L960,358L960,360L960,361L959,360L958,359L955,358L954,358L952,356L950,355L950,355L948,353L946,352L945,351L944,350L942,349L941,348L940,347L938,345L938,345L935,342L935,342L932,340L932,340L930,338L930,338L928,335L927,335L925,333L925,332L923,330L922,330L921,328L920,326L919,325L918,322L918,322L916,320L915,318L914,318L913,315L912,315L911,312L910,311L909,310L908,309L906,308L905,306L904,305L902,304L901,302L900,302L898,300L897,300L895,298L894,298L892,296L890,295L890,295L888,294L885,293L885,292L882,291L880,290L879,290L878,290L875,289L872,289L870,288L868,288L866,288L865,287L862,287L860,286L858,286L855,285L854,285L852,285L850,284L848,283L845,283L842,283L842,282L840,282L838,281L835,281L832,280L831,280L830,280L828,279L825,278L822,278L820,278L818,278L817,278L815,277L812,277L810,276L808,276L805,276L802,275L800,275L800,275L798,275L795,274L792,274L790,273L788,273L785,273L785,272L782,272L780,271L778,271L775,270L775,270L772,269L770,269L768,268L765,268L764,268L762,267L760,266L758,266L755,265L752,265L751,265L750,265L748,264L745,264L742,264L740,263L738,263L735,263L732,263L731,262L730,262L728,262L725,261L722,261L720,261L718,261L715,260L712,260L712,260L710,260L708,259L705,259L702,259L700,258L698,258L695,258L692,258L692,258L690,257L688,257L685,256L682,256L680,256L678,255L677,255L675,254L674,252L672,250L672,250L672,248L670,247L668,247L665,246L662,246L660,246L658,246L657,245L655,243L652,243L650,243L648,243L645,243L642,243L640,243L640,243Z" fill="#e8109a" fill-rule="evenodd" stroke="#e8109a" stroke-width="0.6"/>
<path d="M820,430L822,428L821,425L820,423L819,422L818,421L817,420L815,418L812,418L812,418L810,417L808,417L805,416L802,415L800,415L800,415L798,413L795,415L794,415L792,417L792,418L790,420L790,422L790,422L790,425L790,426L790,428L792,430M682,375L682,375L680,376L679,378L678,379L677,380L676,382L675,384L675,385L674,388L674,390L674,392L675,395L675,396L676,398L677,400L678,401L679,402L680,403L682,405L684,405L685,405L688,405L689,405L690,405L692,404L694,402L695,402L697,400L698,399L699,398L700,396L700,395L701,392L702,390L702,388L701,385L700,382L700,382L699,380L698,378L697,378L695,376L694,375L692,374L690,374L688,373L685,374Z" fill="none" stroke="#ffffff" stroke-opacity="0.35" stroke-width="0.6"/>
<path d="M705,430L705,429L704,428L703,425L703,422L702,422L702,420L702,418L702,417L703,415L704,412L705,410L705,410L706,408L708,406L708,405L710,403L710,402L712,400L713,400L715,398L716,398L718,396L718,395L720,393L720,392L722,390L722,388L723,388L723,385L723,382L723,380L723,378L722,376L722,375L722,372L722,370L721,368L720,365L720,364L720,362L718,360L718,358L717,358L715,356L714,355L712,354L710,353L710,352L708,352L705,351L702,351L700,350L700,350L698,350L695,349L692,349L690,349L688,349L685,349L682,349L680,349L678,350L676,350L675,350L672,351L670,351L668,352L665,352L665,353L662,353L660,354L658,355L658,355L655,357L653,358L652,358L650,359L648,360L648,360L645,362L644,362L642,364L640,365L640,365M832,430L832,428L832,426L833,425L833,422L832,422L832,420L831,418L830,415L830,415L828,412L828,412L826,410L825,409L822,408L822,408L820,406L818,405L817,405L815,404L812,404L810,403L808,403L805,403L802,403L800,404L798,404L795,405L795,405L792,406L790,407L790,408L788,409L786,410L785,411L784,412L782,414L782,415L781,418L780,420L780,420L779,422L779,425L780,428L780,428L780,430" fill="none" stroke="#ffffff" stroke-opacity="0.35" stroke-width="0.6"/>
<path d="M738,430L738,429L737,428L735,426L734,425L732,423L731,422L730,422L728,420L727,420L725,419L723,418L722,417L720,415L720,415L719,412L720,410L720,410L722,408L722,407L725,406L726,405L728,404L730,403L730,402L732,401L733,400L735,398L736,398L737,395L737,395L738,392L739,390L739,388L740,385L740,382L740,380L740,377L740,375L740,372L740,370L740,368L740,365L740,362L739,360L739,358L739,355L739,352L739,350L739,348L738,345L738,343L737,342L736,340L735,339L733,338L732,337L730,336L728,335L728,335L725,334L722,334L720,334L718,334L715,334L712,333L710,333L708,333L705,333L702,333L700,333L698,333L695,333L692,333L690,333L688,333L685,333L682,333L680,333L678,333L675,333L672,333L670,333L668,333L665,333L662,333L660,333L658,333L655,333L652,333L650,333L648,333L645,333L642,333L640,333M848,430L849,428L849,425L849,422L849,420L848,418L848,415L847,415L847,412L845,410L845,409L844,408L842,406L842,405L840,403L840,402L838,400L837,400L835,398L834,398L832,397L830,395L830,395L828,394L825,393L825,392L822,392L820,391L818,390L816,390L815,390L812,389L810,389L808,389L805,389L802,389L800,389L798,390L796,390L795,390L792,391L790,392L788,392L787,392L785,394L782,395L782,395L780,396L778,398L778,398L775,400L775,400L773,402L773,403L771,405L770,407L770,408L769,410L768,412L768,413L767,415L766,418L765,420L765,421L765,422L764,425L764,428L764,430" fill="none" stroke="#ffffff" stroke-opacity="0.35" stroke-width="0.6"/>
<path d="M908,430L908,430L905,428L903,428L902,427L900,425L900,425L898,424L896,422L895,422L893,420L892,420L890,418L890,418L888,415L887,415L885,413L884,412L882,411L882,410L880,409L879,408L878,406L876,405L875,404L873,402L872,402L870,400L870,400L868,398L868,397L865,395L865,395L863,392L862,392L860,390L860,390L858,388L858,387L856,385L855,383L854,382L853,380L852,380L851,378L850,376L849,375L848,372L848,372L845,371L842,371L840,370L840,370L838,370L835,369L832,368L830,368L828,368L828,367L825,367L822,366L820,366L818,365L817,365L815,365L812,364L810,363L808,363L805,363L804,362L802,362L800,362L797,360L797,360L795,359L793,358L792,357L790,356L789,355L788,354L785,353L785,352L782,351L781,350L780,349L778,348L777,348L775,347L772,345L772,345L770,344L768,343L767,342L765,342L762,340L762,340L760,339L758,338L756,338L755,337L753,336L751,335L750,334L748,333L746,332L745,332L742,331L740,330L739,330L738,329L735,328L732,328L732,328L730,327L728,326L725,325L725,325L722,324L720,323L718,323L715,323L714,322L712,322L710,322L708,322L705,321L702,321L700,321L698,320L695,320L695,320L692,320L690,319L688,319L685,319L682,318L680,318L678,318L675,318L675,318L672,317L670,317L668,316L665,316L662,315L661,315L660,315L658,314L655,313L654,312L652,312L650,311L648,310L648,310L645,308L644,308L642,307L640,305L640,305" fill="none" stroke="#ffffff" stroke-opacity="0.35" stroke-width="0.6"/>
<path d="M931,430L930,429L928,428L927,428L925,427L923,425L922,425L920,424L918,422L918,422L915,421L914,420L912,419L910,418L910,417L908,416L906,415L905,415L903,412L902,412L900,411L899,410L898,409L896,408L895,406L893,405L892,404L891,402L890,402L888,400L888,400L885,398L885,397L883,395L882,395L880,392L880,392L878,390L877,390L875,388L874,388L872,386L872,385L870,383L869,382L868,380L868,380L865,378L865,377L863,375L862,373L862,373L860,370L860,370L858,368L858,366L857,365L855,362L855,362L852,360L851,360L850,360L848,360L845,359L842,359L840,358L838,358L838,357L835,357L832,357L830,356L828,355L827,355L825,355L822,354L820,354L818,353L816,352L815,352L812,352L810,352L808,351L805,351L802,350L801,350L800,350L798,349L795,348L794,348L792,347L790,346L788,345L787,345L785,344L782,343L780,342L780,342L778,341L775,340L774,340L772,339L770,338L769,338L768,337L765,336L763,335L762,335L760,333L758,332L758,332L755,331L753,330L752,330L750,329L748,328L748,327L745,326L743,325L741,325L740,325L738,324L735,323L734,322L732,322L730,321L728,320L727,320L725,319L722,318L720,318L720,318L718,317L715,317L712,317L710,316L708,316L705,316L702,315L700,315L700,315L698,315L695,315L692,314L690,314L688,314L685,313L682,313L680,313L680,312L678,312L675,312L672,312L670,311L668,311L665,310L664,310L662,310L660,309L658,308L656,308L655,307L652,306L651,305L650,305L648,303L646,302L645,302L643,300L642,300L640,298" fill="none" stroke="#ffffff" stroke-opacity="0.35" stroke-width="0.6"/>
<path d="M943,430L942,430L940,428L939,428L938,427L935,425L934,425L932,424L930,422L930,422L928,421L926,420L925,420L922,418L921,418L920,417L918,415L917,415L915,414L913,412L912,412L910,411L909,410L908,409L905,408L905,407L902,405L902,405L900,403L900,402L898,401L897,400L895,398L894,398L892,396L891,395L890,394L888,392L888,392L886,390L885,389L883,388L882,387L880,385L880,385L878,383L877,383L875,380L875,380L873,378L872,377L871,375L870,374L869,372L868,370L867,370L866,368L865,367L864,365L862,363L862,362L860,360L860,359L859,358L858,356L855,355L855,355L852,355L850,354L848,354L845,353L843,353L842,352L840,352L838,352L835,351L832,350L831,350L830,350L828,349L825,349L822,348L820,348L819,348L818,347L815,347L812,346L810,346L808,345L806,345L805,345L802,345L800,344L798,343L796,342L795,342L792,341L790,340L789,340L788,340L785,339L782,338L782,338L780,337L777,336L776,335L775,335L772,333L770,332L770,332L768,331L765,330L765,330L762,329L760,328L760,328L758,326L755,325L755,325L752,324L750,323L749,322L748,322L745,321L743,320L742,320L740,319L738,318L735,318L734,318L732,317L730,316L728,315L726,315L725,315L722,314L720,313L718,313L715,313L714,312L712,312L710,312L708,312L705,311L702,311L700,311L698,310L695,310L694,310L692,310L690,309L688,309L685,309L682,309L680,308L678,308L675,308L674,308L672,307L670,307L668,306L665,306L662,305L662,305L660,304L658,303L656,302L655,302L652,301L651,300L650,300L648,298L647,298L645,296L643,295L642,295L640,292L640,292" fill="none" stroke="#ffffff" stroke-opacity="0.35" stroke-width="0.6"/>
<path d="M955,430L952,429L950,428L950,427L948,426L946,425L945,425L942,423L941,422L940,422L938,420L937,420L935,419L933,418L932,417L930,416L928,415L928,415L925,413L924,412L922,412L920,410L920,410L918,409L915,408L915,407L912,406L911,405L910,404L908,402L908,402L905,400L905,400L902,398L902,398L900,395L900,395L898,393L897,392L895,391L894,390L892,389L891,388L890,386L889,385L888,384L886,382L885,382L883,380L882,380L880,378L880,377L878,375L878,374L876,372L875,371L874,370L872,368L872,368L871,365L870,364L869,362L868,360L867,360L866,358L865,357L864,355L862,353L862,352L860,351L858,350L858,350L855,349L852,349L850,348L848,348L846,348L845,347L842,347L840,346L838,346L835,345L834,345L832,345L830,344L828,344L825,343L823,342L822,342L820,342L818,341L815,341L812,340L811,340L810,340L808,340L805,339L802,339L800,338L798,338L797,338L795,337L792,336L791,335L790,335L788,334L785,333L784,332L782,332L780,331L778,330L777,330L775,329L772,328L772,328L770,327L768,326L766,325L765,324L762,323L760,322L760,322L758,321L755,320L754,320L752,319L750,318L748,318L748,317L745,316L742,316L740,315L740,315L738,314L735,313L732,313L732,312L730,312L728,311L725,310L723,310L722,310L720,309L718,309L715,308L712,308L710,308L708,308L708,307L705,307L702,307L700,306L698,306L695,306L692,306L690,305L688,305L688,305L685,305L682,304L680,304L678,304L675,303L672,303L670,303L669,302L668,302L665,301L662,301L661,300L660,300L658,299L655,298L655,298L652,296L650,295L650,295L648,293L647,292L645,291L644,290L642,289L641,288L640,286" fill="none" stroke="#ffffff" stroke-opacity="0.35" stroke-width="0.6"/>
<path d="M960,426L958,425L957,425L955,424L953,422L952,422L950,421L948,420L948,420L945,418L944,418L942,417L940,415L940,415L938,414L935,412L935,412L932,411L931,410L930,410L928,408L927,408L925,407L922,405L922,405L920,404L918,402L918,402L915,401L914,400L912,399L911,398L910,397L908,395L908,395L905,392L905,392L902,390L902,390L900,388L900,388L898,386L897,385L895,383L894,382L892,381L891,380L890,379L889,378L888,376L886,375L885,374L883,372L882,371L881,370L880,368L879,368L878,365L877,365L876,362L875,361L874,360L872,358L872,358L871,355L870,354L869,352L868,350L867,350L865,348L865,347L862,345L861,345L860,345L858,344L855,344L852,343L850,343L850,342L848,342L845,342L842,341L840,341L838,340L838,340L835,339L832,339L830,338L827,338L826,338L825,337L822,337L820,336L817,336L815,335L815,335L812,335L810,334L808,334L805,333L802,333L800,333L799,332L798,332L795,331L792,330L792,330L790,329L788,329L785,328L784,328L782,327L780,326L778,325L777,325L775,324L772,323L771,322L770,322L768,321L765,320L765,320L762,319L760,318L759,318L758,317L755,316L753,315L752,315L750,314L748,313L746,312L745,312L742,311L740,311L738,310L738,310L735,309L732,308L730,308L729,308L728,307L725,306L722,306L720,305L720,305L718,305L715,304L712,304L710,304L708,304L705,303L702,303L701,302L700,302L698,302L695,302L692,302L690,301L688,301L685,301L682,300L681,300L680,300L678,300L675,299L672,299L670,299L668,298L666,298L665,297L662,297L660,296L659,295L658,294L655,293L654,292L652,292L650,290L650,290L648,288L647,288L645,286L644,285L642,283L642,282L640,281" fill="none" stroke="#ffffff" stroke-opacity="0.35" stroke-width="0.6"/>
<path d="M960,421L958,420L957,420L955,419L953,418L952,417L950,416L949,415L948,414L945,413L944,412L942,411L940,410L940,410L938,409L936,408L935,407L932,406L931,405L930,404L928,403L927,402L925,401L923,400L922,400L920,398L919,398L918,397L915,395L915,395L912,393L912,392L910,391L909,390L908,388L906,388L905,386L904,385L902,384L901,382L900,382L898,380L898,379L895,378L895,377L893,375L892,375L890,373L890,372L888,370L887,370L885,368L885,367L883,365L882,364L881,362L880,361L879,360L878,358L878,357L876,355L875,353L874,352L873,350L872,350L871,348L870,346L869,345L868,344L866,342L865,342L863,340L860,340L860,340L858,339L855,339L852,338L850,338L848,338L848,337L845,337L842,336L840,336L838,335L836,335L835,335L832,334L830,334L828,333L825,333L825,332L822,332L820,331L818,331L815,330L813,330L812,330L810,330L808,329L805,329L802,329L800,328L798,328L798,327L795,327L792,326L790,325L790,325L788,324L785,324L782,323L782,322L780,322L778,321L775,320L775,320L772,319L770,318L769,318L768,317L765,316L763,315L762,315L760,314L758,313L757,312L755,312L752,311L751,310L750,310L748,309L745,308L743,308L742,307L740,307L738,306L735,306L733,305L732,305L730,304L728,304L725,303L722,303L722,302L720,302L718,302L715,302L712,301L710,301L708,301L705,300L703,300L702,300L700,300L698,299L695,299L692,299L690,298L688,298L685,298L683,298L682,297L680,297L678,297L675,296L672,296L670,296L668,295L667,295L665,294L662,293L660,292L660,292L658,291L655,290L655,290L652,288L651,288L650,286L648,285L648,284L646,282L645,282L643,280L642,279L641,278L640,276" fill="none" stroke="#ffffff" stroke-opacity="0.35" stroke-width="0.6"/>
<path d="M960,417L958,415L957,415L955,414L953,412L952,412L950,411L948,410L948,409L945,408L944,408L942,407L940,405L940,405L938,404L935,402L935,402L932,401L931,400L930,399L928,398L927,398L925,396L922,395L922,395L920,393L919,392L918,392L916,390L915,390L913,388L912,387L910,385L910,385L908,383L907,382L905,380L904,380L902,378L902,378L900,376L899,375L898,374L896,372L895,371L893,370L892,369L891,368L890,367L888,365L888,364L886,362L885,361L885,360L883,358L882,357L881,355L880,353L880,352L878,350L878,350L876,348L875,346L874,345L873,342L872,342L870,340L870,340L868,338L866,338L865,337L862,336L860,336L858,335L857,335L855,335L852,334L850,334L848,333L845,333L844,332L842,332L840,332L838,331L835,330L833,330L832,330L830,329L828,329L825,328L822,328L822,328L820,327L818,327L815,326L812,326L810,325L808,325L807,325L805,325L802,324L800,324L798,323L795,322L795,322L792,322L790,321L788,320L787,320L785,319L782,318L780,318L780,318L778,317L775,316L774,315L772,315L770,314L768,313L767,312L765,312L762,311L761,310L760,310L758,309L755,308L754,308L752,307L750,306L748,306L745,305L745,305L742,304L740,304L738,303L735,303L734,302L732,302L730,302L728,301L725,301L722,300L722,300L720,300L718,299L715,299L712,299L710,298L708,298L705,298L704,298L702,297L700,297L698,297L695,296L692,296L690,296L688,295L685,295L684,295L682,295L680,294L678,294L675,294L672,294L670,293L668,292L668,292L665,292L662,291L661,290L660,290L658,288L656,288L655,287L652,285L652,285L650,283L649,282L648,281L647,280L645,278L645,278L643,275L642,275L641,272L640,271" fill="none" stroke="#ffffff" stroke-opacity="0.35" stroke-width="0.6"/>
<path d="M960,412L958,410L957,410L955,409L953,408L952,407L950,406L948,405L948,405L945,403L944,402L942,402L940,400L940,400L938,399L935,398L935,397L932,396L931,395L930,394L928,393L927,392L925,392L923,390L922,390L920,388L919,388L918,386L916,385L915,384L914,382L912,382L911,380L910,379L908,378L908,377L905,375L905,375L902,373L902,373L900,370L900,370L898,368L897,368L895,366L894,365L892,363L892,362L890,360L890,360L888,358L888,357L886,355L885,353L885,352L883,350L882,349L881,348L880,346L880,345L878,342L878,342L876,340L875,339L874,338L872,337L870,335L870,335L868,333L866,332L865,332L862,332L860,331L858,331L855,330L854,330L852,330L850,329L848,329L845,328L842,328L841,328L840,327L838,327L835,326L832,326L830,325L830,325L828,324L825,324L822,323L820,323L819,322L818,322L815,322L812,321L810,321L808,321L805,320L802,320L802,320L800,320L798,319L795,318L793,318L792,317L790,317L788,316L785,315L784,315L782,314L780,314L778,313L777,312L775,312L772,311L770,310L770,310L768,309L765,308L763,308L762,307L760,307L758,306L755,305L755,305L752,304L750,303L748,303L747,302L745,302L742,302L740,301L737,301L735,300L735,300L732,299L730,299L728,298L725,298L723,298L722,297L720,297L718,297L715,296L712,296L710,296L708,295L705,295L705,295L702,295L700,294L698,294L695,294L692,293L690,293L688,293L685,293L685,292L682,292L680,292L678,292L675,291L672,291L670,290L669,290L668,290L665,289L662,288L662,288L660,287L657,285L657,285L655,284L653,282L652,282L650,280L650,280L648,278L648,277L646,275L645,274L644,272L642,270L642,270L641,268L640,265" fill="none" stroke="#ffffff" stroke-opacity="0.35" stroke-width="0.6"/>
<path d="M960,407L958,406L956,405L955,404L952,403L952,402L950,401L947,400L947,400L945,399L943,398L942,397L940,396L939,395L938,394L935,393L934,392L932,391L930,390L930,390L928,389L926,388L925,387L922,385L922,385L920,383L919,382L917,381L917,380L915,379L914,378L912,376L911,375L910,374L908,372L908,372L906,370L905,369L903,368L902,367L900,365L900,365L898,363L897,362L895,360L895,360L893,358L892,357L891,355L890,353L889,352L888,350L888,350L886,348L885,346L884,345L883,342L882,342L881,340L880,339L879,338L878,336L877,335L875,334L873,332L872,332L870,330L870,330L868,329L865,328L862,328L861,328L860,327L858,327L855,326L852,326L850,325L848,325L848,325L845,324L842,324L840,323L838,323L837,322L835,322L832,322L830,321L828,320L826,320L825,320L822,319L820,319L818,318L815,318L813,318L812,317L810,317L808,317L805,316L802,316L800,316L798,315L797,315L795,314L792,314L790,313L788,312L788,312L785,312L782,311L780,310L779,310L778,309L775,309L772,308L772,308L770,307L768,306L765,305L764,305L762,304L760,304L757,303L757,302L755,302L752,301L750,300L749,300L748,300L745,299L742,299L740,298L738,298L736,298L735,297L732,297L730,296L728,296L725,295L724,295L722,295L720,294L718,294L715,294L712,294L710,293L708,293L706,292L705,292L702,292L700,292L698,292L695,291L692,291L690,291L688,290L686,290L685,290L682,290L680,289L678,289L675,289L672,289L670,288L669,288L668,287L665,286L662,285L662,285L660,284L658,282L658,282L655,281L654,280L652,279L651,278L650,276L649,275L648,273L647,272L645,270L645,269L644,268L643,265L642,265L641,262L641,260L640,258L640,257" fill="none" stroke="#ffffff" stroke-opacity="0.35" stroke-width="0.6"/>
<path d="M960,403L959,402L958,402L955,400L955,400L952,399L950,398L950,397L948,396L946,395L945,394L942,393L942,392L940,392L938,390L937,390L935,389L933,388L932,387L930,386L929,385L928,384L925,382L925,382L922,380L922,380L920,378L919,378L918,376L916,375L915,374L914,372L912,371L911,370L910,369L908,368L908,367L905,365L905,365L903,362L902,362L900,360L900,360L898,358L898,357L896,355L895,354L894,352L892,351L892,350L890,348L890,347L889,345L887,343L887,342L885,340L885,340L884,338L882,336L882,335L880,333L879,332L878,331L876,330L875,329L873,328L872,327L870,326L868,325L867,325L865,325L862,324L860,324L858,323L855,323L854,322L852,322L850,322L848,321L845,321L842,320L842,320L840,320L838,319L835,318L832,318L831,318L830,317L828,317L825,316L822,316L820,315L820,315L818,315L815,314L812,314L810,313L808,313L805,313L803,312L802,312L800,312L798,311L795,311L792,310L792,310L790,310L788,309L785,308L782,308L782,308L780,307L778,306L775,305L774,305L772,305L770,304L768,303L766,302L765,302L762,301L760,301L758,300L758,300L755,299L752,298L750,298L749,298L748,297L745,297L742,296L740,296L738,296L735,295L734,295L732,295L730,294L728,294L725,293L722,293L720,293L719,292L718,292L715,292L712,292L710,291L708,291L705,291L702,290L700,290L699,290L698,290L695,290L692,289L690,289L688,289L685,288L682,288L680,288L679,288L678,287L675,287L672,287L670,286L668,285L667,285L665,284L662,283L661,282L660,282L658,280L657,280L655,278L654,278L652,276L651,275L650,273L649,272L648,270L647,270L646,268L645,266L645,265L643,262L643,260L642,260L642,258L641,255L641,252L641,250L641,248L641,245L640,245" fill="none" stroke="#ffffff" stroke-opacity="0.35" stroke-width="0.6"/>
<path d="M960,394L958,393L957,392L955,391L953,390L952,390L950,389L948,388L948,387L945,386L944,385L942,384L940,383L940,382L938,381L935,380L935,380L932,378L931,378L930,377L928,375L928,375L925,372L925,372L922,370L922,370L920,368L920,368L918,366L917,365L915,363L914,362L912,361L911,360L910,359L908,358L908,357L906,355L905,354L903,352L902,352L901,350L900,348L900,348L898,345L898,345L896,342L895,341L894,340L893,338L892,337L891,335L890,333L889,332L888,330L888,330L885,328L885,327L882,325L882,325L880,323L879,322L878,322L875,320L875,320L872,319L870,318L868,318L868,317L865,317L862,316L860,316L858,315L856,315L855,315L852,314L850,314L848,313L845,313L843,312L842,312L840,312L838,311L835,311L832,310L832,310L830,310L828,309L825,308L822,308L821,308L820,307L818,307L815,307L812,306L810,306L808,305L805,305L804,305L802,305L800,304L798,304L795,303L793,303L790,303L790,302L788,302L785,302L782,301L780,300L779,300L778,300L775,299L772,298L770,298L770,298L768,297L765,296L762,296L761,295L760,295L758,294L755,293L752,293L751,292L750,292L748,292L745,292L742,291L740,291L738,290L735,290L735,290L732,290L730,289L728,289L725,288L722,288L720,288L719,288L718,287L715,287L712,287L710,286L708,286L705,286L702,285L700,285L699,285L698,285L695,285L692,284L690,284L688,284L685,283L682,283L680,283L679,282L678,282L675,282L672,282L670,281L668,280L667,280L665,279L662,278L662,278L660,276L659,275L658,274L656,272L655,272L654,270L652,269L652,268L650,265L650,265L649,262L648,260L648,259L647,258L646,255L646,252L646,250L646,248L646,245L645,245L642,245L640,245" fill="none" stroke="#ffffff" stroke-opacity="0.35" stroke-width="0.6"/>
<path d="M960,390L958,388L956,388L955,387L952,385L952,385L950,384L948,382L948,382L945,381L943,380L942,380L940,378L939,378L938,377L935,375L935,375L932,374L931,372L930,372L928,370L928,369L925,368L925,367L923,365L922,365L920,363L920,362L918,360L917,360L915,358L914,358L912,356L912,355L910,354L909,352L908,351L906,350L905,348L904,348L903,345L902,345L901,342L900,341L899,340L898,338L898,337L896,335L895,334L894,332L892,330L892,330L891,328L890,327L888,325L888,324L885,322L885,322L882,320L882,320L880,318L878,318L878,317L875,316L874,315L872,314L870,314L868,313L865,313L864,312L862,312L860,312L858,311L855,311L852,310L851,310L850,310L848,309L845,309L842,308L840,308L839,308L838,307L835,307L832,306L830,305L828,305L828,305L825,304L822,304L820,303L818,303L815,302L815,302L812,302L810,302L808,301L805,301L802,301L800,300L798,300L798,300L795,299L792,299L790,299L788,298L785,298L784,298L782,297L780,296L778,296L775,295L775,295L772,294L770,294L768,293L765,292L765,292L762,292L760,291L758,290L756,290L755,290L752,289L750,289L748,288L745,288L742,288L742,288L740,287L738,287L735,287L732,286L730,286L728,285L725,285L725,285L722,285L720,284L718,284L715,284L712,283L710,283L708,283L705,282L705,282L702,282L700,282L698,282L695,281L692,281L690,281L688,280L685,280L685,280L682,280L680,279L678,279L675,279L672,278L670,278L670,277L668,276L665,275L665,275L662,274L661,272L660,272L658,270L658,269L656,268L655,266L654,265L653,262L652,262L651,260L650,258L650,256L650,255L649,252L649,250L649,248L649,245L648,245L645,245L642,244L640,244" fill="none" stroke="#ffffff" stroke-opacity="0.35" stroke-width="0.6"/>
<path d="M960,385L960,385L958,384L956,382L955,382L952,381L951,380L950,379L948,378L947,378L945,376L943,375L942,375L940,374L938,372L938,372L935,370L934,370L932,368L931,368L930,366L929,365L928,364L926,362L925,362L923,360L922,359L920,358L920,357L918,355L918,355L915,353L915,352L912,350L912,350L910,348L910,348L908,345L908,345L906,342L905,341L904,340L902,338L902,338L901,335L900,334L899,332L898,330L897,330L896,328L895,327L894,325L892,324L891,322L890,321L889,320L888,319L885,318L885,317L882,315L882,315L880,314L878,313L877,312L875,311L872,310L872,310L870,310L868,309L865,309L862,308L860,308L859,308L858,307L855,307L852,306L850,306L848,305L847,305L845,305L842,304L840,304L838,303L835,302L835,302L832,302L830,301L828,301L825,300L824,300L822,300L820,299L818,299L815,298L812,298L810,298L808,298L808,297L805,297L802,297L800,296L798,296L795,295L792,295L792,295L790,295L788,294L785,294L782,293L780,293L780,292L778,292L775,291L772,291L770,290L770,290L768,289L765,289L762,288L760,288L760,287L758,287L755,286L752,286L750,285L749,285L748,285L745,284L742,284L740,284L738,283L735,283L732,283L731,282L730,282L728,282L725,282L722,281L720,281L717,281L715,280L712,280L712,280L710,280L708,279L705,279L702,279L700,278L698,278L695,278L692,278L692,278L690,277L688,277L685,277L682,276L680,276L678,276L675,275L674,275L672,275L670,274L668,273L667,272L665,271L663,270L662,270L660,268L660,267L658,265L658,264L656,262L655,260L655,260L654,258L653,255L653,252L652,252L652,250L652,248L652,245L650,245L648,245L645,244L642,244L640,244" fill="none" stroke="#ffffff" stroke-opacity="0.35" stroke-width="0.6"/>
<path d="M960,380L958,378L956,378L955,377L952,375L952,375L950,374L948,372L948,372L945,371L943,370L942,370L940,368L939,368L938,366L936,365L935,364L933,362L932,362L930,360L930,360L928,358L927,358L925,355L925,355L923,353L922,352L920,351L919,350L918,349L916,348L915,346L914,345L912,344L912,342L910,340L910,340L908,338L908,337L906,335L905,333L905,332L903,330L902,329L901,328L900,326L900,325L898,322L898,322L896,320L895,319L893,318L892,317L890,315L890,315L888,313L887,312L885,311L883,310L882,310L880,308L878,308L878,307L875,306L873,305L871,305L870,305L868,304L865,304L862,303L860,303L858,302L858,302L855,302L852,301L850,301L848,300L846,300L845,300L842,299L840,299L838,298L835,298L835,298L832,297L830,296L828,296L825,295L823,295L822,295L820,294L818,294L815,294L812,293L810,293L807,293L807,292L805,292L802,292L800,292L798,291L795,291L792,290L790,290L790,290L788,290L785,289L782,289L780,288L778,288L778,287L775,287L772,286L770,285L768,285L768,285L765,284L762,284L760,283L758,282L758,282L755,282L752,281L750,281L748,281L745,280L743,280L742,280L740,280L738,279L735,279L732,279L730,278L727,278L725,278L724,278L722,277L720,277L718,277L715,276L712,276L710,276L708,275L705,275L704,275L702,275L700,274L698,274L695,274L692,274L690,273L688,273L685,273L684,272L682,272L680,272L678,272L675,271L672,271L671,270L670,270L668,268L666,268L665,266L663,265L662,264L661,262L660,261L659,260L658,258L658,256L657,255L657,252L656,250L656,248L655,245L655,245L652,245L650,244L648,244L645,244L642,244L640,244" fill="none" stroke="#ffffff" stroke-opacity="0.35" stroke-width="0.6"/>
<path d="M960,373L958,372L958,372L955,370L954,370L952,369L950,368L950,368L948,366L945,365L945,365L942,363L941,362L940,362L938,360L938,359L935,358L935,357L933,355L932,355L930,353L930,352L928,350L927,350L925,348L924,348L922,346L922,345L920,343L919,342L918,341L916,340L915,338L915,338L913,335L912,334L911,332L910,331L910,330L908,328L908,327L906,325L905,323L904,322L903,320L902,320L901,318L900,317L898,315L898,314L896,312L895,312L893,310L892,310L890,308L889,308L888,306L885,305L885,305L882,304L880,302L880,302L878,301L875,300L873,300L872,300L870,299L868,299L865,298L862,298L861,298L860,297L858,297L855,296L852,296L850,295L848,295L848,295L845,294L842,294L840,293L838,293L837,292L835,292L832,291L830,291L828,290L826,290L825,290L822,289L820,289L818,289L815,288L812,288L810,288L810,287L808,287L805,287L802,286L800,286L798,286L795,285L793,285L792,285L790,285L788,284L785,284L782,283L780,282L780,282L778,282L775,281L772,281L770,280L770,280L768,279L765,279L762,278L760,278L759,278L758,277L755,276L752,276L750,276L747,275L745,275L744,275L742,275L740,275L738,274L735,274L732,274L730,273L728,273L725,273L724,272L722,272L720,272L718,272L715,271L712,271L710,271L708,270L705,270L704,270L702,270L700,270L698,269L695,269L692,269L690,268L688,268L685,268L684,268L682,267L680,267L678,267L675,266L672,265L672,265L670,264L668,262L668,262L665,260L665,259L664,258L662,255L662,255L662,253L661,250L661,248L660,247L658,247L656,245L655,244L652,244L650,244L648,244L645,244L642,244L640,244" fill="none" stroke="#ffffff" stroke-opacity="0.35" stroke-width="0.6"/>
<path d="M960,367L958,366L956,365L955,364L952,363L952,362L950,361L948,360L948,360L945,358L944,358L942,357L941,355L940,354L938,352L938,352L935,350L935,350L933,348L932,347L930,345L930,345L928,343L927,342L925,341L924,340L922,338L922,338L920,336L920,335L918,332L918,332L916,330L915,328L914,328L913,325L912,325L911,322L910,321L909,320L908,318L908,317L906,315L905,314L903,312L902,312L901,310L900,309L898,308L898,307L895,305L895,305L892,303L891,302L890,301L887,300L887,300L885,299L883,298L882,298L880,296L878,295L876,295L875,295L872,294L870,294L868,293L865,293L863,292L862,292L860,292L858,291L855,291L852,290L851,290L850,290L848,289L845,289L842,288L840,288L840,288L838,287L835,286L832,286L830,285L828,285L828,285L825,284L822,284L820,283L818,283L815,283L814,282L812,282L810,282L808,282L805,281L802,281L800,281L797,280L796,280L795,280L792,280L790,279L788,279L785,278L782,278L782,278L780,277L778,276L775,276L772,275L772,275L770,275L768,274L765,273L762,273L762,272L760,272L758,271L755,271L753,271L750,270L748,270L747,270L745,270L742,269L740,269L738,269L735,268L732,268L730,268L728,268L727,268L725,267L722,267L720,267L718,266L715,266L712,266L710,265L708,265L708,265L705,265L702,264L700,264L698,264L695,263L692,263L690,263L688,262L688,262L685,262L682,262L680,262L678,261L675,260L674,260L672,259L671,258L670,257L669,255L668,253L667,252L667,250L667,248L665,247L662,247L660,247L658,247L656,245L655,244L652,244L650,244L648,244L645,243L642,243L640,243" fill="none" stroke="#ffffff" stroke-opacity="0.35" stroke-width="0.6"/>
<path d="M960,361L959,360L958,359L955,358L954,358L952,356L950,355L950,355L948,353L946,352L945,351L944,350L942,349L941,348L940,347L938,345L938,345L935,342L935,342L932,340L932,340L930,338L930,338L928,335L927,335L925,333L925,332L923,330L922,330L921,328L920,326L919,325L918,322L918,322L916,320L915,318L914,318L913,315L912,315L911,312L910,311L909,310L908,309L906,308L905,306L904,305L902,304L901,302L900,302L898,300L897,300L895,298L894,298L892,296L890,295L890,295L888,294L885,293L885,292L882,291L880,290L879,290L878,290L875,289L872,289L870,288L868,288L866,288L865,287L862,287L860,286L858,286L855,285L854,285L852,285L850,284L848,283L845,283L842,283L842,282L840,282L838,281L835,281L832,280L831,280L830,280L828,279L825,278L822,278L820,278L818,278L817,278L815,277L812,277L810,276L808,276L805,276L802,275L800,275L800,275L798,275L795,274L792,274L790,273L788,273L785,273L785,272L782,272L780,271L778,271L775,270L775,270L772,269L770,269L768,268L765,268L764,268L762,267L760,266L758,266L755,265L752,265L751,265L750,265L748,264L745,264L742,264L740,263L738,263L735,263L732,263L731,262L730,262L728,262L725,261L722,261L720,261L718,261L715,260L712,260L712,260L710,260L708,259L705,259L702,259L700,258L698,258L695,258L692,258L692,258L690,257L688,257L685,256L682,256L680,256L678,255L677,255L675,254L674,252L672,250L672,250L672,248L670,247L668,247L665,246L662,246L660,246L658,246L657,245L655,243L652,243L650,243L648,243L645,243L642,243L640,243" fill="none" stroke="#ffffff" stroke-opacity="0.35" stroke-width="0.6"/>
<path d="M960,399L958,398L958,397L955,396L953,395L952,395L950,393L948,392L948,392L945,390L944,390L942,389L940,388L940,387L938,386L936,385L935,385L932,383L931,382L930,382L928,380L928,380L925,378L924,378L922,376L922,375L920,374L919,372L918,371L916,370L915,369L913,368L912,367L911,365L910,365L908,362L908,362L905,360L905,360L903,358L902,357L900,355L900,355L898,352L898,352L896,350L895,348L894,348L893,345L892,345L891,342L890,341L889,340L888,338L888,337L886,335L885,334L884,332L882,331L882,330L880,329L878,328L878,327L875,325L875,325L872,324L870,322L870,322L868,322L865,321L862,321L860,320L860,320L858,320L855,319L852,319L850,318L848,318L848,317L845,317L842,317L840,316L838,315L836,315L835,315L832,314L830,314L828,313L825,312L825,312L822,312L820,312L818,311L815,311L812,310L811,310L810,310L808,310L805,309L802,309L800,309L797,308L795,308L795,307L792,307L790,307L788,306L785,306L783,305L782,305L780,304L778,304L775,303L774,302L772,302L770,301L767,301L765,300L765,300L762,299L760,299L758,298L756,298L755,297L752,296L750,296L748,295L745,295L745,295L742,295L740,294L738,294L735,293L732,293L730,293L729,292L728,292L725,292L722,291L720,291L718,291L715,290L712,290L712,290L710,290L708,289L705,289L702,289L700,288L698,288L695,288L692,288L692,288L690,287L688,287L685,287L682,286L680,286L678,286L675,285L673,285L672,285L670,284L668,284L665,283L665,282L662,281L660,280L660,280L658,278L657,278L655,276L654,275L652,274L651,272L650,271L649,270L648,268L648,267L646,265L645,262L645,262L644,260L644,258L643,255L643,252L642,251L642,250L642,247L642,245L640,245" fill="none" stroke="#fffbe0" stroke-width="2"/>
<path d="M716.4,417.4 A56.1,54.1 0 0 0 688.3,370.5" stroke="#c8c8c8" stroke-opacity="0.55" stroke-width="0.7" fill="none"/>
<path d="M772.5,417.4 A112.2,108.2 0 0 0 716.4,323.7" stroke="#c8c8c8" stroke-opacity="0.55" stroke-width="0.7" fill="none"/>
<path d="M828.6,417.4 A168.3,162.4 0 0 0 744.4,276.8" stroke="#c8c8c8" stroke-opacity="0.55" stroke-width="0.7" fill="none"/>
<path d="M884.7,417.4 A224.4,216.5 0 0 0 772.5,229.9" stroke="#c8c8c8" stroke-opacity="0.55" stroke-width="0.7" fill="none"/>
<line x1="660.3" y1="417.4" x2="931.2" y2="347.4" stroke="#c8c8c8" stroke-opacity="0.55" stroke-width="0.7" fill="none"/>
<line x1="660.3" y1="417.4" x2="903.2" y2="282.1" stroke="#c8c8c8" stroke-opacity="0.55" stroke-width="0.7" fill="none"/>
<line x1="660.3" y1="417.4" x2="858.6" y2="226.1" stroke="#c8c8c8" stroke-opacity="0.55" stroke-width="0.7" fill="none"/>
</g>
<path d="M660.3,417.4 L800.55,183.05 A280.5,270.6 0 0 1 940.8,417.4" fill="none" stroke="#3a3a9a" stroke-width="2"/>
<line x1="660.3" y1="417.4" x2="940.8" y2="417.4" stroke="#555" stroke-width="1.5"/>
<line x1="660.3" y1="417.4" x2="660.3" y2="411.4" stroke="#333" stroke-width="1.2"/>
<text x="660.3" y="430.5" text-anchor="middle" font-family="Liberation Sans,sans-serif" font-size="11" fill="#444">0.0</text>
<line x1="716.4" y1="417.4" x2="716.4" y2="411.4" stroke="#333" stroke-width="1.2"/>
<text x="716.4" y="430.5" text-anchor="middle" font-family="Liberation Sans,sans-serif" font-size="11" fill="#444">0.2</text>
<line x1="772.5" y1="417.4" x2="772.5" y2="411.4" stroke="#333" stroke-width="1.2"/>
<text x="772.5" y="430.5" text-anchor="middle" font-family="Liberation Sans,sans-serif" font-size="11" fill="#444">0.4</text>
<line x1="828.6" y1="417.4" x2="828.6" y2="411.4" stroke="#333" stroke-width="1.2"/>
<text x="828.6" y="430.5" text-anchor="middle" font-family="Liberation Sans,sans-serif" font-size="11" fill="#444">0.6</text>
<line x1="884.7" y1="417.4" x2="884.7" y2="411.4" stroke="#333" stroke-width="1.2"/>
<text x="884.7" y="430.5" text-anchor="middle" font-family="Liberation Sans,sans-serif" font-size="11" fill="#444">0.8</text>
<line x1="940.8" y1="417.4" x2="940.8" y2="411.4" stroke="#333" stroke-width="1.2"/>
<text x="940.8" y="430.5" text-anchor="middle" font-family="Liberation Sans,sans-serif" font-size="11" fill="#444">1.0</text>
<line x1="923.1" y1="349.5" x2="931.2" y2="347.4" stroke="#2a2a80" stroke-width="1.8"/>
<line x1="895.9" y1="286.2" x2="903.2" y2="282.1" stroke="#2a2a80" stroke-width="1.8"/>
<line x1="852.7" y1="231.8" x2="858.6" y2="226.1" stroke="#2a2a80" stroke-width="1.8"/>
<text x="806" y="180" font-family="Liberation Sans,sans-serif" font-size="11" fill="#333">60</text>
<text x="866" y="224" font-family="Liberation Sans,sans-serif" font-size="11" fill="#333">45</text>
<text x="911.5" y="282.5" font-family="Liberation Sans,sans-serif" font-size="11" fill="#333">30</text>
<text x="941.5" y="350" font-family="Liberation Sans,sans-serif" font-size="11" fill="#333">15</text>
<text x="915" y="250" font-family="Liberation Serif,serif" font-size="20" fill="#222">γ</text>
<text x="911" y="451" font-family="Liberation Serif,serif" font-size="22" fill="#222">β</text>
<text x="866.5" y="199" font-family="Liberation Sans,sans-serif" font-size="14" fill="#111">M. Girod</text>
<text x="668" y="182.5" font-family="Liberation Sans,sans-serif" font-size="12.2" fill="#4a55c8">BE=630.876 MeV</text>
<text x="667.5" y="203" font-family="Liberation Sans,sans-serif" font-size="15.5" fill="#6a6ad0">&lt;<tspan font-family="Liberation Serif,serif" font-style="italic" font-weight="bold" dx="1">β</tspan><tspan font-size="7" dy="2" fill="#a0a0e0">0</tspan><tspan dy="-2" dx="2" fill="#6a6ad0">&gt;</tspan><tspan fill="#777">=0.338</tspan></text>
<text x="686.5" y="245.5" font-family="Liberation Sans,sans-serif" fill="#3a3aa8"><tspan font-size="15" dy="-9">74</tspan><tspan font-size="24" dy="9">Kr</tspan></text>
<text x="841.0" y="282.0" font-family="Liberation Sans,sans-serif" font-size="10.5" font-weight="bold" fill="#6a0a10" text-anchor="middle" transform="rotate(15 841.0 278.0)">23</text>
<text x="871.4" y="297.0" font-family="Liberation Sans,sans-serif" font-size="10.5" font-weight="bold" fill="#6a0a10" text-anchor="middle" transform="rotate(25 871.4 293.0)">21</text>
<text x="848.8" y="304.5" font-family="Liberation Sans,sans-serif" font-size="10.5" font-weight="bold" fill="#6a2a10" text-anchor="middle" transform="rotate(10 848.8 300.5)">18</text>
<text x="895.3" y="318.5" font-family="Liberation Sans,sans-serif" font-size="10.5" font-weight="bold" fill="#6a0a10" text-anchor="middle" transform="rotate(40 895.3 314.5)">20</text>
<text x="848.8" y="322.5" font-family="Liberation Sans,sans-serif" font-size="10.5" font-weight="bold" fill="#222" text-anchor="middle" transform="rotate(0 848.8 318.5)">14</text>
<text x="894.0" y="346.5" font-family="Liberation Sans,sans-serif" font-size="10.5" font-weight="bold" fill="#333" text-anchor="middle" transform="rotate(45 894.0 342.5)">15</text>
<text x="837.8" y="343.0" font-family="Liberation Sans,sans-serif" font-size="10.5" font-weight="bold" fill="#145014" text-anchor="middle" transform="rotate(0 837.8 339.0)">9</text>
<text x="866.6" y="364.0" font-family="Liberation Sans,sans-serif" font-size="10.5" font-weight="bold" fill="#145014" text-anchor="middle" transform="rotate(45 866.6 360.0)">8</text>
<text x="884.9" y="374.5" font-family="Liberation Sans,sans-serif" font-size="10.5" font-weight="bold" fill="#145014" text-anchor="middle" transform="rotate(50 884.9 370.5)">10</text>
<text x="909.7" y="392.5" font-family="Liberation Sans,sans-serif" font-size="10.5" font-weight="bold" fill="#145014" text-anchor="middle" transform="rotate(50 909.7 388.5)">11</text>
<text x="796.0" y="364.0" font-family="Liberation Sans,sans-serif" font-size="10.5" font-weight="bold" fill="#1a3a8a" text-anchor="middle" transform="rotate(0 796.0 360.0)">3</text>
<text x="826.0" y="361.2" font-family="Liberation Sans,sans-serif" font-size="10.5" font-weight="bold" fill="#1a4a7a" text-anchor="middle" transform="rotate(0 826.0 357.2)">4</text>
<text x="847.0" y="367.8" font-family="Liberation Sans,sans-serif" font-size="10.5" font-weight="bold" fill="#106050" text-anchor="middle" transform="rotate(40 847.0 363.8)">5</text>
<text x="860.0" y="382.0" font-family="Liberation Sans,sans-serif" font-size="10.5" font-weight="bold" fill="#106050" text-anchor="middle" transform="rotate(40 860.0 378.0)">6</text>
<text x="875.7" y="395.0" font-family="Liberation Sans,sans-serif" font-size="10.5" font-weight="bold" fill="#106050" text-anchor="middle" transform="rotate(40 875.7 391.0)">7</text>
<text x="729.3" y="375.6" font-family="Liberation Sans,sans-serif" font-size="10.5" font-weight="bold" fill="#1a3a8a" text-anchor="middle" transform="rotate(40 729.3 371.6)">2</text>
<text x="701.8" y="392.6" font-family="Liberation Sans,sans-serif" font-size="10.5" font-weight="bold" fill="#101a60" text-anchor="middle" transform="rotate(40 701.8 388.6)">1</text>
<text x="738.5" y="401.7" font-family="Liberation Sans,sans-serif" font-size="10.5" font-weight="bold" fill="#1a5a5a" text-anchor="middle" transform="rotate(0 738.5 397.7)">3</text>
<text x="805.1" y="405.7" font-family="Liberation Sans,sans-serif" font-size="10.5" font-weight="bold" fill="#101a60" text-anchor="middle" transform="rotate(0 805.1 401.7)">1</text>
<text x="801.2" y="383.4" font-family="Liberation Sans,sans-serif" font-size="10.5" font-weight="bold" fill="#1a3a8a" text-anchor="middle" transform="rotate(0 801.2 379.4)">2</text>
<text x="748.9" y="390.0" font-family="Liberation Sans,sans-serif" font-size="11" font-weight="bold" fill="#e03838" text-anchor="middle">1</text>
<text x="767.0" y="375.6" font-family="Liberation Sans,sans-serif" font-size="11" font-weight="bold" fill="#e03838" text-anchor="middle">9</text>
<text x="773.0" y="375.6" font-family="Liberation Sans,sans-serif" font-size="11" font-weight="bold" fill="#e03838" text-anchor="middle">6</text>
<text x="762.0" y="383.4" font-family="Liberation Sans,sans-serif" font-size="11" font-weight="bold" fill="#e03838" text-anchor="middle">4</text>
<text x="773.8" y="384.8" font-family="Liberation Sans,sans-serif" font-size="11" font-weight="bold" fill="#e03838" text-anchor="middle">7</text>
<text x="785.5" y="375.6" font-family="Liberation Sans,sans-serif" font-size="11" font-weight="bold" fill="#e03838" text-anchor="middle">8</text>
<text x="784.2" y="390.0" font-family="Liberation Sans,sans-serif" font-size="11" font-weight="bold" fill="#e03838" text-anchor="middle">2</text>
<text x="794.7" y="391.3" font-family="Liberation Sans,sans-serif" font-size="11" font-weight="bold" fill="#e03838" text-anchor="middle">6</text>
<text x="780.3" y="401.7" font-family="Liberation Sans,sans-serif" font-size="11" font-weight="bold" fill="#e03838" text-anchor="middle">3</text>
<defs><pattern id="emesh" patternUnits="userSpaceOnUse" width="3" height="3" patternTransform="rotate(-25)"><path d="M0,0 L3,0 M0,0 L0,3" stroke="#103050" stroke-width="0.5" stroke-opacity="0.22"/></pattern></defs>
<defs><linearGradient id="lgA" x1="0.85" y1="0.1" x2="0.2" y2="0.95"><stop offset="0" stop-color="#52dcec"/><stop offset="0.4" stop-color="#46dcca"/><stop offset="0.75" stop-color="#3cd872"/><stop offset="1" stop-color="#30b848"/></linearGradient><radialGradient id="rgA" cx="0.55" cy="0.42" r="0.6"><stop offset="0.6" stop-color="#000" stop-opacity="0"/><stop offset="0.92" stop-color="#000" stop-opacity="0.18"/><stop offset="1" stop-color="#000" stop-opacity="0.45"/></radialGradient></defs>
<g transform="rotate(-20.0 646.0 350.8)">
<ellipse cx="646.0" cy="350.8" rx="27.5" ry="29.8" fill="url(#lgA)"/>
<path d="M653.8,321.0 Q687.3,350.8 653.8,380.6" fill="none" stroke="#ffffff" stroke-opacity="0.18" stroke-width="0.6"/>
<path d="M652.3,321.0 Q679.7,350.8 652.3,380.6" fill="none" stroke="#ffffff" stroke-opacity="0.18" stroke-width="0.6"/>
<path d="M650.1,321.0 Q668.0,350.8 650.1,380.6" fill="none" stroke="#ffffff" stroke-opacity="0.18" stroke-width="0.6"/>
<path d="M647.4,321.0 Q653.6,350.8 647.4,380.6" fill="none" stroke="#ffffff" stroke-opacity="0.18" stroke-width="0.6"/>
<path d="M644.6,321.0 Q638.4,350.8 644.6,380.6" fill="none" stroke="#ffffff" stroke-opacity="0.18" stroke-width="0.6"/>
<path d="M641.9,321.0 Q624.0,350.8 641.9,380.6" fill="none" stroke="#ffffff" stroke-opacity="0.18" stroke-width="0.6"/>
<path d="M639.7,321.0 Q612.3,350.8 639.7,380.6" fill="none" stroke="#ffffff" stroke-opacity="0.18" stroke-width="0.6"/>
<path d="M638.2,321.0 Q604.7,350.8 638.2,380.6" fill="none" stroke="#ffffff" stroke-opacity="0.18" stroke-width="0.6"/>
<ellipse cx="646.0" cy="350.8" rx="27.5" ry="29.8" fill="url(#emesh)"/>
<ellipse cx="646.0" cy="350.8" rx="27.5" ry="29.8" fill="url(#rgA)"/>
</g>
<ellipse cx="626.5" cy="357" rx="2.2" ry="3.5" fill="#124" opacity="0.45"/>
<defs><linearGradient id="lgB" x1="0.85" y1="0.1" x2="0.15" y2="0.9"><stop offset="0" stop-color="#48d0e8"/><stop offset="0.45" stop-color="#4c98e6"/><stop offset="0.8" stop-color="#4a5ad8"/><stop offset="1" stop-color="#3a32b8"/></linearGradient><radialGradient id="rgB" cx="0.55" cy="0.42" r="0.6"><stop offset="0.6" stop-color="#000" stop-opacity="0"/><stop offset="0.92" stop-color="#000" stop-opacity="0.18"/><stop offset="1" stop-color="#000" stop-opacity="0.45"/></radialGradient></defs>
<g transform="rotate(-12.0 801.8 468.9)">
<ellipse cx="801.8" cy="468.9" rx="36.5" ry="29.5" fill="url(#lgB)"/>
<path d="M812.1,439.4 Q856.7,468.9 812.1,498.4" fill="none" stroke="#ffffff" stroke-opacity="0.18" stroke-width="0.6"/>
<path d="M810.2,439.4 Q846.5,468.9 810.2,498.4" fill="none" stroke="#ffffff" stroke-opacity="0.18" stroke-width="0.6"/>
<path d="M807.3,439.4 Q831.0,468.9 807.3,498.4" fill="none" stroke="#ffffff" stroke-opacity="0.18" stroke-width="0.6"/>
<path d="M803.7,439.4 Q811.9,468.9 803.7,498.4" fill="none" stroke="#ffffff" stroke-opacity="0.18" stroke-width="0.6"/>
<path d="M799.9,439.4 Q791.7,468.9 799.9,498.4" fill="none" stroke="#ffffff" stroke-opacity="0.18" stroke-width="0.6"/>
<path d="M796.3,439.4 Q772.6,468.9 796.3,498.4" fill="none" stroke="#ffffff" stroke-opacity="0.18" stroke-width="0.6"/>
<path d="M793.4,439.4 Q757.1,468.9 793.4,498.4" fill="none" stroke="#ffffff" stroke-opacity="0.18" stroke-width="0.6"/>
<path d="M791.5,439.4 Q746.9,468.9 791.5,498.4" fill="none" stroke="#ffffff" stroke-opacity="0.18" stroke-width="0.6"/>
<ellipse cx="801.8" cy="468.9" rx="36.5" ry="29.5" fill="url(#emesh)"/>
<ellipse cx="801.8" cy="468.9" rx="36.5" ry="29.5" fill="url(#rgB)"/>
</g>
<defs><linearGradient id="lgC" x1="0.85" y1="0.1" x2="0.2" y2="0.95"><stop offset="0" stop-color="#52dcec"/><stop offset="0.4" stop-color="#46dcca"/><stop offset="0.75" stop-color="#3cd872"/><stop offset="1" stop-color="#30b848"/></linearGradient><radialGradient id="rgC" cx="0.55" cy="0.42" r="0.6"><stop offset="0.6" stop-color="#000" stop-opacity="0"/><stop offset="0.92" stop-color="#000" stop-opacity="0.18"/><stop offset="1" stop-color="#000" stop-opacity="0.45"/></radialGradient></defs>
<g transform="rotate(-50.0 996.0 410.3)">
<ellipse cx="996.0" cy="410.3" rx="21.3" ry="22.7" fill="url(#lgC)"/>
<path d="M1002.0,387.6 Q1028.0,410.3 1002.0,433.0" fill="none" stroke="#ffffff" stroke-opacity="0.18" stroke-width="0.6"/>
<path d="M1000.9,387.6 Q1022.1,410.3 1000.9,433.0" fill="none" stroke="#ffffff" stroke-opacity="0.18" stroke-width="0.6"/>
<path d="M999.2,387.6 Q1013.0,410.3 999.2,433.0" fill="none" stroke="#ffffff" stroke-opacity="0.18" stroke-width="0.6"/>
<path d="M997.1,387.6 Q1001.9,410.3 997.1,433.0" fill="none" stroke="#ffffff" stroke-opacity="0.18" stroke-width="0.6"/>
<path d="M994.9,387.6 Q990.1,410.3 994.9,433.0" fill="none" stroke="#ffffff" stroke-opacity="0.18" stroke-width="0.6"/>
<path d="M992.8,387.6 Q979.0,410.3 992.8,433.0" fill="none" stroke="#ffffff" stroke-opacity="0.18" stroke-width="0.6"/>
<path d="M991.1,387.6 Q969.9,410.3 991.1,433.0" fill="none" stroke="#ffffff" stroke-opacity="0.18" stroke-width="0.6"/>
<path d="M990.0,387.6 Q964.0,410.3 990.0,433.0" fill="none" stroke="#ffffff" stroke-opacity="0.18" stroke-width="0.6"/>
<ellipse cx="996.0" cy="410.3" rx="21.3" ry="22.7" fill="url(#emesh)"/>
<ellipse cx="996.0" cy="410.3" rx="21.3" ry="22.7" fill="url(#rgC)"/>
</g>
<defs><linearGradient id="lgD" x1="0.85" y1="0.1" x2="0.15" y2="0.9"><stop offset="0" stop-color="#48d0e8"/><stop offset="0.45" stop-color="#4c98e6"/><stop offset="0.8" stop-color="#4a5ad8"/><stop offset="1" stop-color="#3a32b8"/></linearGradient><radialGradient id="rgD" cx="0.55" cy="0.42" r="0.6"><stop offset="0.6" stop-color="#000" stop-opacity="0"/><stop offset="0.92" stop-color="#000" stop-opacity="0.18"/><stop offset="1" stop-color="#000" stop-opacity="0.45"/></radialGradient></defs>
<g transform="rotate(-12.0 1087.8 413.0)">
<ellipse cx="1087.8" cy="413.0" rx="26.1" ry="21.7" fill="url(#lgD)"/>
<path d="M1095.2,391.3 Q1127.0,413.0 1095.2,434.7" fill="none" stroke="#ffffff" stroke-opacity="0.18" stroke-width="0.6"/>
<path d="M1093.8,391.3 Q1119.8,413.0 1093.8,434.7" fill="none" stroke="#ffffff" stroke-opacity="0.18" stroke-width="0.6"/>
<path d="M1091.7,391.3 Q1108.7,413.0 1091.7,434.7" fill="none" stroke="#ffffff" stroke-opacity="0.18" stroke-width="0.6"/>
<path d="M1089.2,391.3 Q1095.1,413.0 1089.2,434.7" fill="none" stroke="#ffffff" stroke-opacity="0.18" stroke-width="0.6"/>
<path d="M1086.4,391.3 Q1080.5,413.0 1086.4,434.7" fill="none" stroke="#ffffff" stroke-opacity="0.18" stroke-width="0.6"/>
<path d="M1083.9,391.3 Q1066.9,413.0 1083.9,434.7" fill="none" stroke="#ffffff" stroke-opacity="0.18" stroke-width="0.6"/>
<path d="M1081.8,391.3 Q1055.8,413.0 1081.8,434.7" fill="none" stroke="#ffffff" stroke-opacity="0.18" stroke-width="0.6"/>
<path d="M1080.4,391.3 Q1048.6,413.0 1080.4,434.7" fill="none" stroke="#ffffff" stroke-opacity="0.18" stroke-width="0.6"/>
<ellipse cx="1087.8" cy="413.0" rx="26.1" ry="21.7" fill="url(#emesh)"/>
<ellipse cx="1087.8" cy="413.0" rx="26.1" ry="21.7" fill="url(#rgD)"/>
</g>
<path d="M954.2,441.0 C955.6,448.1 959.4,470.8 962.7,483.6 C966.0,496.4 970.3,509.2 974.1,517.7 C977.9,526.2 981.5,531.0 985.5,534.8 C989.5,538.6 994.0,540.5 998.2,540.5 C1002.5,540.5 1007.5,539.5 1011.0,534.8 C1014.5,530.0 1017.1,519.6 1019.5,512.0 C1021.9,504.4 1022.6,494.4 1025.2,489.3 C1027.8,484.2 1031.9,481.6 1035.2,481.6 C1038.5,481.6 1042.3,484.2 1045.1,489.3 C1047.9,494.4 1049.8,505.4 1052.2,512.0 C1054.6,518.6 1055.8,524.6 1059.3,529.0 C1062.8,533.4 1068.8,537.7 1073.5,538.2 C1078.2,538.7 1083.0,537.8 1087.7,532.0 C1092.4,526.2 1097.6,514.4 1101.9,503.5 C1106.2,492.6 1110.5,477.7 1113.3,466.6 C1116.1,455.5 1118.0,441.8 1119.0,436.8" fill="none" stroke="#000" stroke-width="2.4" stroke-linecap="round"/>
<line x1="990.6" y1="456.6" x2="1013" y2="456.6" stroke="#2ab52a" stroke-width="2"/>
<text x="981" y="455.6" font-family="DejaVu Sans,sans-serif" font-size="8.5" fill="#222">6<tspan font-size="5.5" dy="-3.5">+</tspan></text>
<line x1="990.6" y1="483.0" x2="1013" y2="483.0" stroke="#2ab52a" stroke-width="2"/>
<text x="981" y="482.0" font-family="DejaVu Sans,sans-serif" font-size="8.5" fill="#222">4<tspan font-size="5.5" dy="-3.5">+</tspan></text>
<line x1="990.6" y1="505.8" x2="1013" y2="505.8" stroke="#2ab52a" stroke-width="2"/>
<text x="981" y="504.8" font-family="DejaVu Sans,sans-serif" font-size="8.5" fill="#222">2<tspan font-size="5.5" dy="-3.5">+</tspan></text>
<line x1="990.6" y1="520.6" x2="1013" y2="520.6" stroke="#2ab52a" stroke-width="2"/>
<text x="981" y="519.6" font-family="DejaVu Sans,sans-serif" font-size="8.5" fill="#222">0<tspan font-size="5.5" dy="-3.5">+</tspan></text>
<line x1="1066.4" y1="456.6" x2="1089.7" y2="456.6" stroke="#3838b8" stroke-width="2"/>
<text x="1056.5" y="455.6" font-family="DejaVu Sans,sans-serif" font-size="8.5" fill="#222">8<tspan font-size="5.5" dy="-3.5">+</tspan></text>
<line x1="1066.4" y1="480.2" x2="1089.7" y2="480.2" stroke="#3838b8" stroke-width="2"/>
<text x="1056.5" y="479.2" font-family="DejaVu Sans,sans-serif" font-size="8.5" fill="#222">6<tspan font-size="5.5" dy="-3.5">+</tspan></text>
<line x1="1066.4" y1="500.7" x2="1089.7" y2="500.7" stroke="#3838b8" stroke-width="2"/>
<text x="1056.5" y="499.7" font-family="DejaVu Sans,sans-serif" font-size="8.5" fill="#222">4<tspan font-size="5.5" dy="-3.5">+</tspan></text>
<line x1="1066.4" y1="514.0" x2="1089.7" y2="514.0" stroke="#3838b8" stroke-width="2"/>
<text x="1056.5" y="513.0" font-family="DejaVu Sans,sans-serif" font-size="8.5" fill="#222">2<tspan font-size="5.5" dy="-3.5">+</tspan></text>
<line x1="1066.4" y1="524.8" x2="1089.7" y2="524.8" stroke="#3838b8" stroke-width="2"/>
<text x="1056.5" y="523.8" font-family="DejaVu Sans,sans-serif" font-size="8.5" fill="#222">0<tspan font-size="5.5" dy="-3.5">+</tspan></text>
<line x1="1119.5" y1="432" x2="1119.5" y2="438" stroke="#333" stroke-width="0.8"/>
<text transform="translate(649.15,537.92) scale(0.300,0.274)" font-family="Liberation Serif,serif" font-size="100" fill="#222">|</text>
<text x="655.4" y="535.6" font-family="Liberation Serif,serif" font-size="15.5" fill="#222">0</text><text x="664.4" y="528.1" font-family="Liberation Serif,serif" font-size="9.5" fill="#222">+</text><text x="663.4" y="539.1" font-family="Liberation Serif,serif" font-size="9.5" fill="#222">1</text>
<text transform="translate(745.35,537.92) scale(0.300,0.274)" font-family="Liberation Serif,serif" font-size="100" fill="#222">|</text>
<text x="751.4" y="535.6" font-family="Liberation Serif,serif" font-size="15.5" fill="#222">0</text><text x="760.4" y="528.1" font-family="Liberation Serif,serif" font-size="9.5" fill="#222">+</text><text x="759.9" y="539.1" font-family="Liberation Serif,serif" font-size="10.0" fill="#222">pro</text>
<text transform="translate(832.05,537.92) scale(0.300,0.274)" font-family="Liberation Serif,serif" font-size="100" fill="#222">|</text>
<text x="838.3" y="535.6" font-family="Liberation Serif,serif" font-size="15.5" fill="#222">0</text><text x="848.4" y="528.1" font-family="Liberation Serif,serif" font-size="9.5" fill="#222">+</text><text x="847.4" y="539.1" font-family="Liberation Serif,serif" font-size="10.0" fill="#222">obl</text>
<text transform="translate(672.24,541.52) scale(0.152,0.268)" font-family="Liberation Sans,Noto Sans CJK JP,sans-serif" font-weight="300" font-size="100" fill="#222">〉</text>
<text transform="translate(775.64,541.52) scale(0.152,0.268)" font-family="Liberation Sans,Noto Sans CJK JP,sans-serif" font-weight="300" font-size="100" fill="#222">〉</text>
<text transform="translate(862.54,541.52) scale(0.152,0.268)" font-family="Liberation Sans,Noto Sans CJK JP,sans-serif" font-weight="300" font-size="100" fill="#222">〉</text>
<text x="681.7" y="535.6" font-family="Liberation Serif,serif" font-size="16.5" fill="#222">=</text>
<text x="695.4" y="535.6" font-family="Liberation Serif,serif" font-size="16.5" fill="#222">+</text>
<text x="708.4" y="535.6" font-family="Liberation Serif,serif" font-size="17.0" fill="#222">cos</text>
<text x="733.7" y="535.6" font-family="Liberation Serif,serif" font-size="16.5" font-style="italic" fill="#222">η</text>
<text x="784.9" y="535.6" font-family="Liberation Serif,serif" font-size="16.5" fill="#222">+</text>
<text x="797.4" y="535.6" font-family="Liberation Serif,serif" font-size="17.0" fill="#222">sin</text>
<text x="820.7" y="535.6" font-family="Liberation Serif,serif" font-size="16.5" font-style="italic" fill="#222">η</text>
<text transform="translate(649.15,571.96) scale(0.300,0.272)" font-family="Liberation Serif,serif" font-size="100" fill="#222">|</text>
<text x="655.6" y="569.9" font-family="Liberation Serif,serif" font-size="15.5" fill="#222">0</text><text x="664.4" y="562.4" font-family="Liberation Serif,serif" font-size="9.5" fill="#222">+</text><text x="663.9" y="573.4" font-family="Liberation Serif,serif" font-size="9.5" fill="#222">2</text>
<text transform="translate(741.95,571.96) scale(0.300,0.272)" font-family="Liberation Serif,serif" font-size="100" fill="#222">|</text>
<text x="748.1" y="569.9" font-family="Liberation Serif,serif" font-size="15.5" fill="#222">0</text><text x="757.9" y="562.4" font-family="Liberation Serif,serif" font-size="9.5" fill="#222">+</text><text x="757.6" y="573.4" font-family="Liberation Serif,serif" font-size="10.0" fill="#222">pro</text>
<text transform="translate(832.05,571.96) scale(0.300,0.272)" font-family="Liberation Serif,serif" font-size="100" fill="#222">|</text>
<text x="838.3" y="569.9" font-family="Liberation Serif,serif" font-size="15.5" fill="#222">0</text><text x="849.1" y="562.4" font-family="Liberation Serif,serif" font-size="9.5" fill="#222">+</text><text x="847.4" y="573.4" font-family="Liberation Serif,serif" font-size="10.0" fill="#222">obl</text>
<text transform="translate(672.44,575.54) scale(0.152,0.266)" font-family="Liberation Sans,Noto Sans CJK JP,sans-serif" font-weight="300" font-size="100" fill="#222">〉</text>
<text transform="translate(772.74,575.54) scale(0.152,0.266)" font-family="Liberation Sans,Noto Sans CJK JP,sans-serif" font-weight="300" font-size="100" fill="#222">〉</text>
<text transform="translate(862.54,575.54) scale(0.152,0.266)" font-family="Liberation Sans,Noto Sans CJK JP,sans-serif" font-weight="300" font-size="100" fill="#222">〉</text>
<text x="681.9" y="569.9" font-family="Liberation Serif,serif" font-size="16.5" fill="#222">=</text>
<text x="695.0" y="569.9" font-family="Liberation Serif,serif" font-size="16.5" fill="#222">−</text>
<text x="707.2" y="569.9" font-family="Liberation Serif,serif" font-size="17.0" fill="#222">sin</text>
<text x="730.1" y="569.9" font-family="Liberation Serif,serif" font-size="16.5" font-style="italic" fill="#222">η</text>
<text x="781.4" y="569.9" font-family="Liberation Serif,serif" font-size="16.5" fill="#222">+</text>
<text x="795.1" y="569.9" font-family="Liberation Serif,serif" font-size="17.0" fill="#222">cos</text>
<text x="820.1" y="569.9" font-family="Liberation Serif,serif" font-size="16.5" font-style="italic" fill="#222">η</text>
<text transform="translate(623.33,638.33) scale(0.167,0.281)" font-family="Liberation Sans,Noto Sans CJK JP,sans-serif" font-weight="300" font-size="100" fill="#222">〈</text>
<text x="639.8" y="632.0" font-family="Liberation Serif,serif" font-size="15.5" fill="#222">0</text><text x="648.1" y="624.5" font-family="Liberation Serif,serif" font-size="9.5" fill="#222">+</text><text x="647.4" y="635.5" font-family="Liberation Serif,serif" font-size="9.5" fill="#222">2</text>
<text transform="translate(656.12,637.45) scale(0.254,0.250)" font-family="Liberation Serif,serif" font-size="100" fill="#222">‖</text>
<text x="660.8" y="632.0" font-family="Liberation Serif,serif" font-size="16.0" font-weight="bold" fill="#222">M</text>
<text x="678.2" y="632.0" font-family="Liberation Serif,serif" font-size="16.5" fill="#222">(</text>
<text x="684.4" y="632.0" font-family="Liberation Serif,serif" font-size="16.5" font-style="italic" fill="#222">E</text>
<text x="696.2" y="632.0" font-family="Liberation Serif,serif" font-size="15.5" fill="#222">0</text>
<text x="703.6" y="632.0" font-family="Liberation Serif,serif" font-size="16.5" fill="#222">)</text>
<text transform="translate(708.92,637.45) scale(0.269,0.250)" font-family="Liberation Serif,serif" font-size="100" fill="#222">‖</text>
<text x="715.7" y="632.0" font-family="Liberation Serif,serif" font-size="15.5" fill="#222">0</text><text x="723.4" y="624.5" font-family="Liberation Serif,serif" font-size="9.5" fill="#222">+</text><text x="723.0" y="635.5" font-family="Liberation Serif,serif" font-size="9.5" fill="#222">1</text>
<text transform="translate(731.89,638.28) scale(0.182,0.289)" font-family="Liberation Sans,Noto Sans CJK JP,sans-serif" font-weight="300" font-size="100" fill="#222">〉</text>
<text x="743" y="632.0" font-family="DejaVu Serif,serif" font-size="15.5" fill="#222">∝</text>
<text x="758.4" y="632.0" font-family="Liberation Serif,serif" font-size="17.0" fill="#222">sin</text>
<text x="781.0" y="632.0" font-family="Liberation Serif,serif" font-size="16.5" font-style="italic" fill="#222">η</text>
<text x="794.9" y="632.0" font-family="Liberation Serif,serif" font-size="17.0" fill="#222">cos</text>
<text x="819.0" y="632.0" font-family="Liberation Serif,serif" font-size="16.5" font-style="italic" fill="#222">η</text>
<text x="831.8" y="632.0" font-family="Liberation Serif,serif" font-size="16.5" fill="#222">(</text>
<text x="838.0" y="632.0" font-family="Liberation Serif,serif" font-size="16.5" font-style="italic" fill="#222">β</text>
<text x="847.0" y="624.0" font-family="Liberation Serif,serif" font-size="10.0" fill="#222">2</text>
<text x="847.4" y="636.0" font-family="Liberation Serif,serif" font-size="10.0" fill="#222">pro</text>
<text x="881.9" y="632.0" font-family="Liberation Serif,serif" font-size="16.5" font-style="italic" fill="#222">β</text>
<text x="890.9" y="624.0" font-family="Liberation Serif,serif" font-size="10.0" fill="#222">2</text>
<text x="891.3" y="636.0" font-family="Liberation Serif,serif" font-size="10.0" fill="#222">obl</text>
<text x="867.7" y="632.0" font-family="Liberation Serif,serif" font-size="16.5" fill="#222">−</text>
<text x="907.7" y="632.0" font-family="Liberation Serif,serif" font-size="16.5" fill="#222">)</text>
</svg>
<div class="t" id="title">Shape fluctuation and coexistence</div>
<div class="t" id="l1">Same nuclei can has several low-lying states with different intrinsic shapes</div>
<div class="t" id="l2">Can we probe the shape entanglement ?</div>
<div class="t" id="bot">High-energy collisions are sensitive only<br>to ground state shape, avoid shape<br>variations during transitions</div>
<div class="t" id="cfg">Configuration mixing:</div>
<div class="t" id="e0">electric monopole (E0) transition</div>
</body></html>
